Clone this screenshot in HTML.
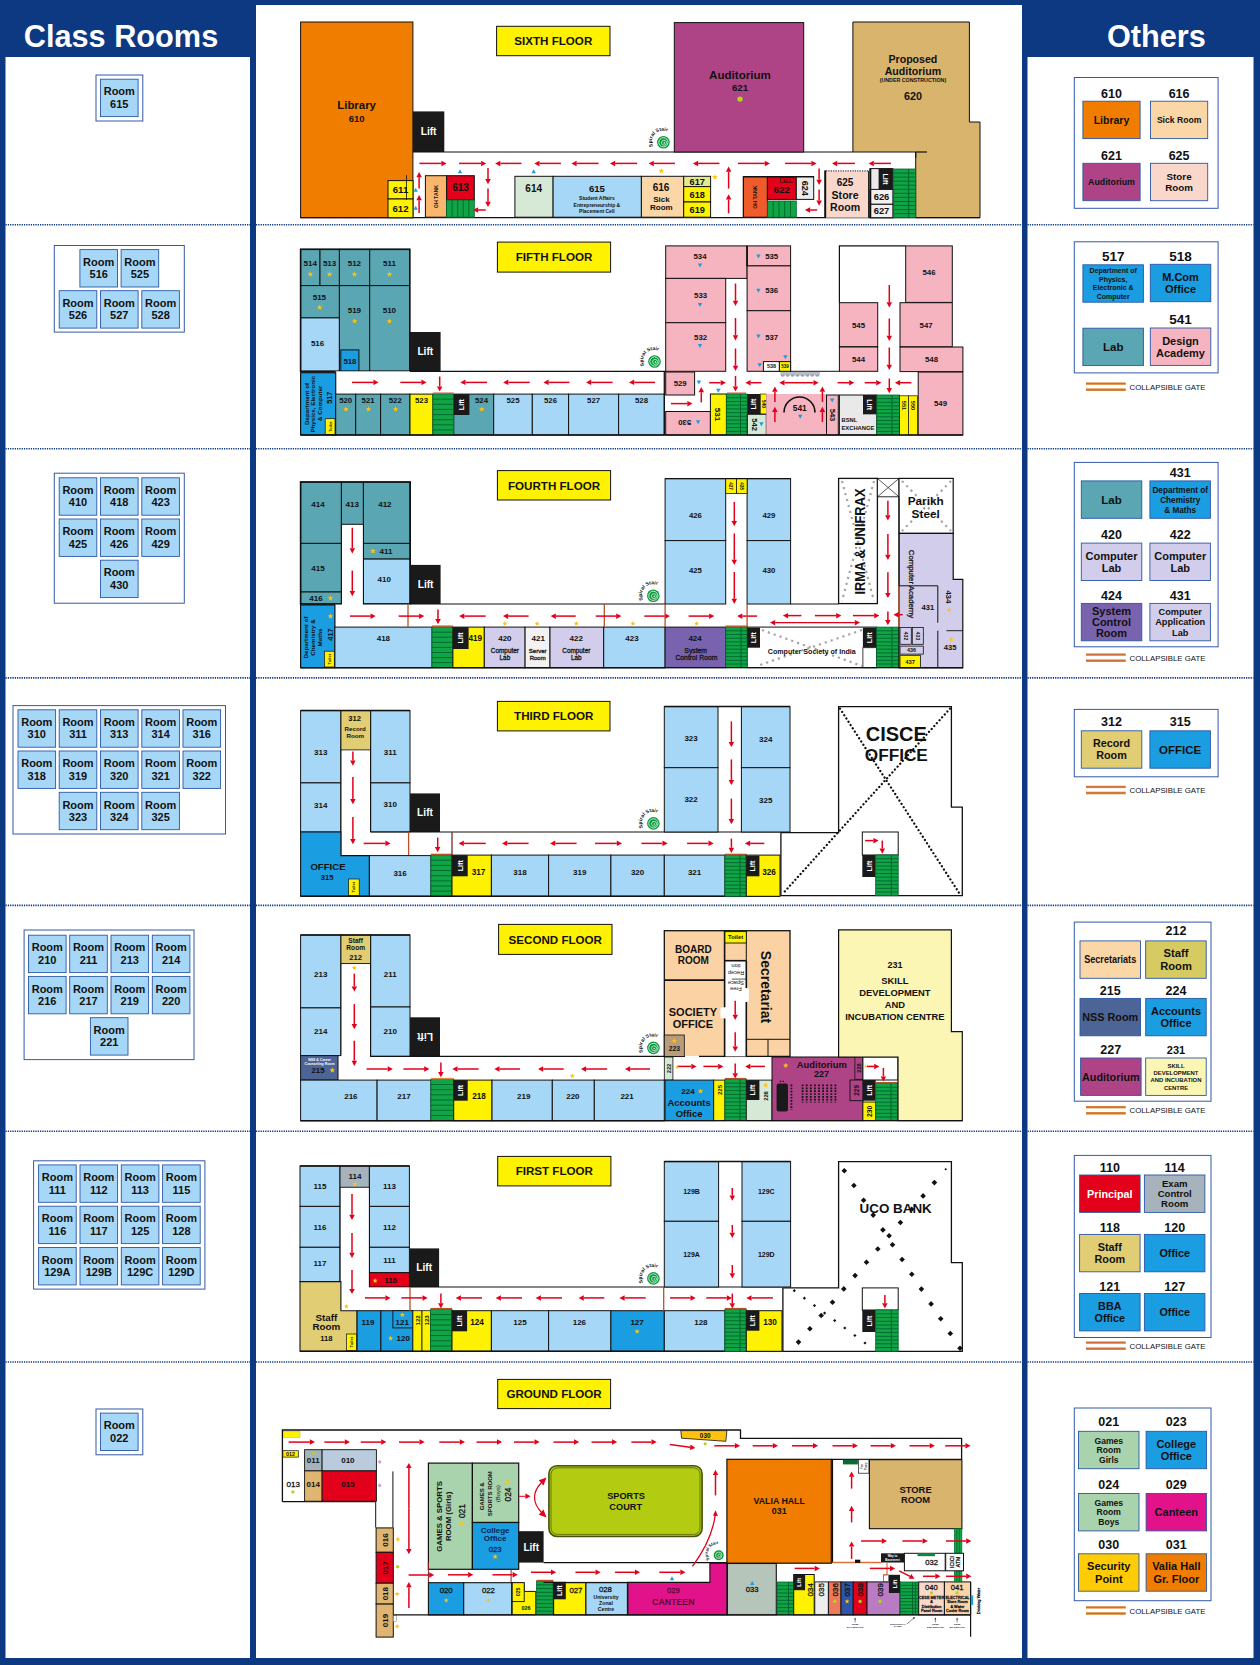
<!DOCTYPE html>
<html lang="en"><head><meta charset="utf-8"><title>Floor Plan</title>
<style>html,body{margin:0;padding:0;background:#0c3982}svg{display:block}text{font-family:"Liberation Sans",Arial,sans-serif;font-weight:bold;text-anchor:middle;fill:#111}</style></head>
<body><svg width="1260" height="1665" viewBox="0 0 1260 1665">
<rect x="0" y="0" width="1260" height="1665" fill="#0c3982"/>
<rect x="5.5" y="57" width="244.5" height="1601" fill="#fff"/>
<rect x="256" y="5" width="766" height="1653" fill="#fff"/>
<rect x="1027.5" y="57" width="226" height="1601" fill="#fff"/>
<text x="121" y="47.2" font-size="30.7" style="fill:#fff;">Class Rooms</text>
<text x="1156.4" y="47.2" font-size="30.7" style="fill:#fff;">Others</text>
<line x1="5.5" y1="224.8" x2="250" y2="224.8" stroke="#0c3982" stroke-width="1.6" stroke-dasharray="1.25 1.05"/>
<line x1="256" y1="224.8" x2="1022" y2="224.8" stroke="#0c3982" stroke-width="1.6" stroke-dasharray="1.25 1.05"/>
<line x1="1027.5" y1="224.8" x2="1253.5" y2="224.8" stroke="#0c3982" stroke-width="1.6" stroke-dasharray="1.25 1.05"/>
<line x1="5.5" y1="448.7" x2="250" y2="448.7" stroke="#0c3982" stroke-width="1.6" stroke-dasharray="1.25 1.05"/>
<line x1="256" y1="448.7" x2="1022" y2="448.7" stroke="#0c3982" stroke-width="1.6" stroke-dasharray="1.25 1.05"/>
<line x1="1027.5" y1="448.7" x2="1253.5" y2="448.7" stroke="#0c3982" stroke-width="1.6" stroke-dasharray="1.25 1.05"/>
<line x1="5.5" y1="677.9" x2="250" y2="677.9" stroke="#0c3982" stroke-width="1.6" stroke-dasharray="1.25 1.05"/>
<line x1="256" y1="677.9" x2="1022" y2="677.9" stroke="#0c3982" stroke-width="1.6" stroke-dasharray="1.25 1.05"/>
<line x1="1027.5" y1="677.9" x2="1253.5" y2="677.9" stroke="#0c3982" stroke-width="1.6" stroke-dasharray="1.25 1.05"/>
<line x1="5.5" y1="905.4" x2="250" y2="905.4" stroke="#0c3982" stroke-width="1.6" stroke-dasharray="1.25 1.05"/>
<line x1="256" y1="905.4" x2="1022" y2="905.4" stroke="#0c3982" stroke-width="1.6" stroke-dasharray="1.25 1.05"/>
<line x1="1027.5" y1="905.4" x2="1253.5" y2="905.4" stroke="#0c3982" stroke-width="1.6" stroke-dasharray="1.25 1.05"/>
<line x1="5.5" y1="1131.2" x2="250" y2="1131.2" stroke="#0c3982" stroke-width="1.6" stroke-dasharray="1.25 1.05"/>
<line x1="256" y1="1131.2" x2="1022" y2="1131.2" stroke="#0c3982" stroke-width="1.6" stroke-dasharray="1.25 1.05"/>
<line x1="1027.5" y1="1131.2" x2="1253.5" y2="1131.2" stroke="#0c3982" stroke-width="1.6" stroke-dasharray="1.25 1.05"/>
<line x1="5.5" y1="1362" x2="250" y2="1362" stroke="#0c3982" stroke-width="1.6" stroke-dasharray="1.25 1.05"/>
<line x1="256" y1="1362" x2="1022" y2="1362" stroke="#0c3982" stroke-width="1.6" stroke-dasharray="1.25 1.05"/>
<line x1="1027.5" y1="1362" x2="1253.5" y2="1362" stroke="#0c3982" stroke-width="1.6" stroke-dasharray="1.25 1.05"/>
<rect x="96" y="75" width="46.8" height="46" fill="#fff" stroke="#3259a8" stroke-width="1"/>
<rect x="100.5" y="79.2" width="37.6" height="37.4" fill="#a7d7f6" stroke="#2a57a6" stroke-width="0.9"/>
<text x="119.3" y="95.4" font-size="11">Room</text>
<text x="119.3" y="107.8" font-size="11">615</text>
<rect x="54.3" y="245.5" width="130" height="86.6" fill="#fff" stroke="#3259a8" stroke-width="1"/>
<rect x="79.9" y="249.6" width="37.6" height="37.4" fill="#a7d7f6" stroke="#2a57a6" stroke-width="0.9"/>
<text x="98.7" y="265.8" font-size="11">Room</text>
<text x="98.7" y="278.2" font-size="11">516</text>
<rect x="121.1" y="249.6" width="37.6" height="37.4" fill="#a7d7f6" stroke="#2a57a6" stroke-width="0.9"/>
<text x="139.9" y="265.8" font-size="11">Room</text>
<text x="139.9" y="278.2" font-size="11">525</text>
<rect x="59.2" y="290.7" width="37.6" height="37.4" fill="#a7d7f6" stroke="#2a57a6" stroke-width="0.9"/>
<text x="78" y="306.9" font-size="11">Room</text>
<text x="78" y="319.3" font-size="11">526</text>
<rect x="100.5" y="290.7" width="37.6" height="37.4" fill="#a7d7f6" stroke="#2a57a6" stroke-width="0.9"/>
<text x="119.3" y="306.9" font-size="11">Room</text>
<text x="119.3" y="319.3" font-size="11">527</text>
<rect x="141.8" y="290.7" width="37.6" height="37.4" fill="#a7d7f6" stroke="#2a57a6" stroke-width="0.9"/>
<text x="160.6" y="306.9" font-size="11">Room</text>
<text x="160.6" y="319.3" font-size="11">528</text>
<rect x="54.3" y="473.2" width="130" height="130" fill="#fff" stroke="#3259a8" stroke-width="1"/>
<rect x="59.2" y="477.8" width="37.6" height="37.4" fill="#a7d7f6" stroke="#2a57a6" stroke-width="0.9"/>
<text x="78" y="494" font-size="11">Room</text>
<text x="78" y="506.4" font-size="11">410</text>
<rect x="100.5" y="477.8" width="37.6" height="37.4" fill="#a7d7f6" stroke="#2a57a6" stroke-width="0.9"/>
<text x="119.3" y="494" font-size="11">Room</text>
<text x="119.3" y="506.4" font-size="11">418</text>
<rect x="141.8" y="477.8" width="37.6" height="37.4" fill="#a7d7f6" stroke="#2a57a6" stroke-width="0.9"/>
<text x="160.6" y="494" font-size="11">Room</text>
<text x="160.6" y="506.4" font-size="11">423</text>
<rect x="59.2" y="519" width="37.6" height="37.4" fill="#a7d7f6" stroke="#2a57a6" stroke-width="0.9"/>
<text x="78" y="535.2" font-size="11">Room</text>
<text x="78" y="547.6" font-size="11">425</text>
<rect x="100.5" y="519" width="37.6" height="37.4" fill="#a7d7f6" stroke="#2a57a6" stroke-width="0.9"/>
<text x="119.3" y="535.2" font-size="11">Room</text>
<text x="119.3" y="547.6" font-size="11">426</text>
<rect x="141.8" y="519" width="37.6" height="37.4" fill="#a7d7f6" stroke="#2a57a6" stroke-width="0.9"/>
<text x="160.6" y="535.2" font-size="11">Room</text>
<text x="160.6" y="547.6" font-size="11">429</text>
<rect x="100.5" y="560.2" width="37.6" height="37.4" fill="#a7d7f6" stroke="#2a57a6" stroke-width="0.9"/>
<text x="119.3" y="576.4" font-size="11">Room</text>
<text x="119.3" y="588.8" font-size="11">430</text>
<rect x="13" y="705.6" width="212.5" height="128.4" fill="#fff" stroke="#3259a8" stroke-width="1"/>
<rect x="18" y="709.8" width="37.6" height="37.4" fill="#a7d7f6" stroke="#2a57a6" stroke-width="0.9"/>
<text x="36.8" y="726" font-size="11">Room</text>
<text x="36.8" y="738.4" font-size="11">310</text>
<rect x="59.2" y="709.8" width="37.6" height="37.4" fill="#a7d7f6" stroke="#2a57a6" stroke-width="0.9"/>
<text x="78" y="726" font-size="11">Room</text>
<text x="78" y="738.4" font-size="11">311</text>
<rect x="100.5" y="709.8" width="37.6" height="37.4" fill="#a7d7f6" stroke="#2a57a6" stroke-width="0.9"/>
<text x="119.3" y="726" font-size="11">Room</text>
<text x="119.3" y="738.4" font-size="11">313</text>
<rect x="141.8" y="709.8" width="37.6" height="37.4" fill="#a7d7f6" stroke="#2a57a6" stroke-width="0.9"/>
<text x="160.6" y="726" font-size="11">Room</text>
<text x="160.6" y="738.4" font-size="11">314</text>
<rect x="183" y="709.8" width="37.6" height="37.4" fill="#a7d7f6" stroke="#2a57a6" stroke-width="0.9"/>
<text x="201.8" y="726" font-size="11">Room</text>
<text x="201.8" y="738.4" font-size="11">316</text>
<rect x="18" y="751" width="37.6" height="37.4" fill="#a7d7f6" stroke="#2a57a6" stroke-width="0.9"/>
<text x="36.8" y="767.2" font-size="11">Room</text>
<text x="36.8" y="779.6" font-size="11">318</text>
<rect x="59.2" y="751" width="37.6" height="37.4" fill="#a7d7f6" stroke="#2a57a6" stroke-width="0.9"/>
<text x="78" y="767.2" font-size="11">Room</text>
<text x="78" y="779.6" font-size="11">319</text>
<rect x="100.5" y="751" width="37.6" height="37.4" fill="#a7d7f6" stroke="#2a57a6" stroke-width="0.9"/>
<text x="119.3" y="767.2" font-size="11">Room</text>
<text x="119.3" y="779.6" font-size="11">320</text>
<rect x="141.8" y="751" width="37.6" height="37.4" fill="#a7d7f6" stroke="#2a57a6" stroke-width="0.9"/>
<text x="160.6" y="767.2" font-size="11">Room</text>
<text x="160.6" y="779.6" font-size="11">321</text>
<rect x="183" y="751" width="37.6" height="37.4" fill="#a7d7f6" stroke="#2a57a6" stroke-width="0.9"/>
<text x="201.8" y="767.2" font-size="11">Room</text>
<text x="201.8" y="779.6" font-size="11">322</text>
<rect x="59.2" y="792.3" width="37.6" height="37.4" fill="#a7d7f6" stroke="#2a57a6" stroke-width="0.9"/>
<text x="78" y="808.5" font-size="11">Room</text>
<text x="78" y="820.9" font-size="11">323</text>
<rect x="100.5" y="792.3" width="37.6" height="37.4" fill="#a7d7f6" stroke="#2a57a6" stroke-width="0.9"/>
<text x="119.3" y="808.5" font-size="11">Room</text>
<text x="119.3" y="820.9" font-size="11">324</text>
<rect x="141.8" y="792.3" width="37.6" height="37.4" fill="#a7d7f6" stroke="#2a57a6" stroke-width="0.9"/>
<text x="160.6" y="808.5" font-size="11">Room</text>
<text x="160.6" y="820.9" font-size="11">325</text>
<rect x="24.1" y="930" width="169.9" height="129.6" fill="#fff" stroke="#3259a8" stroke-width="1"/>
<rect x="28.5" y="935.2" width="37.6" height="37.4" fill="#a7d7f6" stroke="#2a57a6" stroke-width="0.9"/>
<text x="47.3" y="951.4" font-size="11">Room</text>
<text x="47.3" y="963.8" font-size="11">210</text>
<rect x="69.7" y="935.2" width="37.6" height="37.4" fill="#a7d7f6" stroke="#2a57a6" stroke-width="0.9"/>
<text x="88.5" y="951.4" font-size="11">Room</text>
<text x="88.5" y="963.8" font-size="11">211</text>
<rect x="111" y="935.2" width="37.6" height="37.4" fill="#a7d7f6" stroke="#2a57a6" stroke-width="0.9"/>
<text x="129.8" y="951.4" font-size="11">Room</text>
<text x="129.8" y="963.8" font-size="11">213</text>
<rect x="152.3" y="935.2" width="37.6" height="37.4" fill="#a7d7f6" stroke="#2a57a6" stroke-width="0.9"/>
<text x="171.1" y="951.4" font-size="11">Room</text>
<text x="171.1" y="963.8" font-size="11">214</text>
<rect x="28.5" y="976.4" width="37.6" height="37.4" fill="#a7d7f6" stroke="#2a57a6" stroke-width="0.9"/>
<text x="47.3" y="992.6" font-size="11">Room</text>
<text x="47.3" y="1005" font-size="11">216</text>
<rect x="69.7" y="976.4" width="37.6" height="37.4" fill="#a7d7f6" stroke="#2a57a6" stroke-width="0.9"/>
<text x="88.5" y="992.6" font-size="11">Room</text>
<text x="88.5" y="1005" font-size="11">217</text>
<rect x="111" y="976.4" width="37.6" height="37.4" fill="#a7d7f6" stroke="#2a57a6" stroke-width="0.9"/>
<text x="129.8" y="992.6" font-size="11">Room</text>
<text x="129.8" y="1005" font-size="11">219</text>
<rect x="152.3" y="976.4" width="37.6" height="37.4" fill="#a7d7f6" stroke="#2a57a6" stroke-width="0.9"/>
<text x="171.1" y="992.6" font-size="11">Room</text>
<text x="171.1" y="1005" font-size="11">220</text>
<rect x="90.4" y="1017.7" width="37.6" height="37.4" fill="#a7d7f6" stroke="#2a57a6" stroke-width="0.9"/>
<text x="109.2" y="1033.9" font-size="11">Room</text>
<text x="109.2" y="1046.3" font-size="11">221</text>
<rect x="33.6" y="1160.8" width="171.3" height="128.3" fill="#fff" stroke="#3259a8" stroke-width="1"/>
<rect x="38.6" y="1164.9" width="37.6" height="37.4" fill="#a7d7f6" stroke="#2a57a6" stroke-width="0.9"/>
<text x="57.4" y="1181.1" font-size="11">Room</text>
<text x="57.4" y="1193.5" font-size="11">111</text>
<rect x="80" y="1164.9" width="37.6" height="37.4" fill="#a7d7f6" stroke="#2a57a6" stroke-width="0.9"/>
<text x="98.8" y="1181.1" font-size="11">Room</text>
<text x="98.8" y="1193.5" font-size="11">112</text>
<rect x="121.3" y="1164.9" width="37.6" height="37.4" fill="#a7d7f6" stroke="#2a57a6" stroke-width="0.9"/>
<text x="140.1" y="1181.1" font-size="11">Room</text>
<text x="140.1" y="1193.5" font-size="11">113</text>
<rect x="162.6" y="1164.9" width="37.6" height="37.4" fill="#a7d7f6" stroke="#2a57a6" stroke-width="0.9"/>
<text x="181.4" y="1181.1" font-size="11">Room</text>
<text x="181.4" y="1193.5" font-size="11">115</text>
<rect x="38.6" y="1206.2" width="37.6" height="37.4" fill="#a7d7f6" stroke="#2a57a6" stroke-width="0.9"/>
<text x="57.4" y="1222.4" font-size="11">Room</text>
<text x="57.4" y="1234.8" font-size="11">116</text>
<rect x="80" y="1206.2" width="37.6" height="37.4" fill="#a7d7f6" stroke="#2a57a6" stroke-width="0.9"/>
<text x="98.8" y="1222.4" font-size="11">Room</text>
<text x="98.8" y="1234.8" font-size="11">117</text>
<rect x="121.3" y="1206.2" width="37.6" height="37.4" fill="#a7d7f6" stroke="#2a57a6" stroke-width="0.9"/>
<text x="140.1" y="1222.4" font-size="11">Room</text>
<text x="140.1" y="1234.8" font-size="11">125</text>
<rect x="162.6" y="1206.2" width="37.6" height="37.4" fill="#a7d7f6" stroke="#2a57a6" stroke-width="0.9"/>
<text x="181.4" y="1222.4" font-size="11">Room</text>
<text x="181.4" y="1234.8" font-size="11">128</text>
<rect x="38.6" y="1247.5" width="37.6" height="37.4" fill="#a7d7f6" stroke="#2a57a6" stroke-width="0.9"/>
<text x="57.4" y="1263.7" font-size="11">Room</text>
<text x="57.4" y="1276.1" font-size="11">129A</text>
<rect x="80" y="1247.5" width="37.6" height="37.4" fill="#a7d7f6" stroke="#2a57a6" stroke-width="0.9"/>
<text x="98.8" y="1263.7" font-size="11">Room</text>
<text x="98.8" y="1276.1" font-size="11">129B</text>
<rect x="121.3" y="1247.5" width="37.6" height="37.4" fill="#a7d7f6" stroke="#2a57a6" stroke-width="0.9"/>
<text x="140.1" y="1263.7" font-size="11">Room</text>
<text x="140.1" y="1276.1" font-size="11">129C</text>
<rect x="162.6" y="1247.5" width="37.6" height="37.4" fill="#a7d7f6" stroke="#2a57a6" stroke-width="0.9"/>
<text x="181.4" y="1263.7" font-size="11">Room</text>
<text x="181.4" y="1276.1" font-size="11">129D</text>
<rect x="96" y="1409" width="46.8" height="45.8" fill="#fff" stroke="#3259a8" stroke-width="1"/>
<rect x="100.5" y="1413.1" width="37.6" height="37.4" fill="#a7d7f6" stroke="#2a57a6" stroke-width="0.9"/>
<text x="119.3" y="1429.3" font-size="11">Room</text>
<text x="119.3" y="1441.7" font-size="11">022</text>
<rect x="1074.3" y="77.5" width="143.8" height="130.8" fill="#fff" stroke="#3259a8" stroke-width="1"/>
<rect x="1082.9" y="101.2" width="57.2" height="37.4" fill="#f07d00" stroke="#2a57a6" stroke-width="0.9"/>
<text x="1111.5" y="97.6" font-size="12.5">610</text>
<text x="1111.5" y="123.7" font-size="10.5">Library</text>
<rect x="1150.5" y="101.2" width="57.2" height="37.4" fill="#fbd6a6" stroke="#2a57a6" stroke-width="0.9"/>
<text x="1179.1" y="97.6" font-size="12.5">616</text>
<text x="1179.1" y="123" font-size="8.6">Sick Room</text>
<rect x="1082.9" y="163.3" width="57.2" height="37.4" fill="#ae4486" stroke="#2a57a6" stroke-width="0.9"/>
<text x="1111.5" y="159.7" font-size="12.5">621</text>
<text x="1111.5" y="185.2" font-size="8.8">Auditorium</text>
<rect x="1150.5" y="163.3" width="57.2" height="37.4" fill="#f9d8cb" stroke="#2a57a6" stroke-width="0.9"/>
<text x="1179.1" y="159.7" font-size="12.5">625</text>
<text x="1179.1" y="180" font-size="9.8">Store</text>
<text x="1179.1" y="191" font-size="9.8">Room</text>
<rect x="1074.3" y="241.8" width="143.8" height="131.1" fill="#fff" stroke="#3259a8" stroke-width="1"/>
<rect x="1082.9" y="264.8" width="60.5" height="37.4" fill="#1b9de2" stroke="#2a57a6" stroke-width="0.9"/>
<text x="1113.2" y="261.4" font-size="13.5">517</text>
<text x="1113.2" y="272.8" font-size="7">Department of</text>
<text x="1113.2" y="281.6" font-size="7">Physics,</text>
<text x="1113.2" y="290.4" font-size="7">Electronic &amp;</text>
<text x="1113.2" y="299.2" font-size="7">Computer</text>
<rect x="1150.3" y="264.3" width="60.5" height="37.4" fill="#1b9de2" stroke="#2a57a6" stroke-width="0.9"/>
<text x="1180.5" y="261.3" font-size="13.5">518</text>
<text x="1180.5" y="280.8" font-size="11">M.Com</text>
<text x="1180.5" y="293.1" font-size="11">Office</text>
<rect x="1082.9" y="328.2" width="60.5" height="37.4" fill="#5aa6b2" stroke="#2a57a6" stroke-width="0.9"/>
<text x="1113.2" y="351" font-size="11.5">Lab</text>
<rect x="1150.3" y="328" width="60.5" height="37.4" fill="#f5b4bf" stroke="#2a57a6" stroke-width="0.9"/>
<text x="1180.5" y="324.4" font-size="13.5">541</text>
<text x="1180.5" y="344.5" font-size="11">Design</text>
<text x="1180.5" y="356.8" font-size="11">Academy</text>
<rect x="1086" y="382.4" width="39.7" height="2.4" fill="#d98a3a"/>
<rect x="1086" y="388.4" width="39.7" height="2.6" fill="#d98a3a"/>
<line x1="1086" y1="383.6" x2="1125.7" y2="383.6" stroke="#c8553a" stroke-width="0.6"/>
<line x1="1086" y1="389.7" x2="1125.7" y2="389.7" stroke="#c8553a" stroke-width="0.6"/>
<text x="1129.5" y="389.8" font-size="8" style="font-weight:normal;text-anchor:start;" textLength="76" lengthAdjust="spacingAndGlyphs">COLLAPSIBLE GATE</text>
<rect x="1074.3" y="462.4" width="143.8" height="184.4" fill="#fff" stroke="#3259a8" stroke-width="1"/>
<rect x="1081.3" y="480.9" width="60.5" height="37.4" fill="#5aa6b2" stroke="#2a57a6" stroke-width="0.9"/>
<text x="1111.5" y="503.7" font-size="11.5">Lab</text>
<rect x="1149.9" y="480.9" width="60.5" height="37.4" fill="#1b9de2" stroke="#2a57a6" stroke-width="0.9"/>
<text x="1180.2" y="476.9" font-size="12.5">431</text>
<text x="1180.2" y="492.6" font-size="8.2">Department of</text>
<text x="1180.2" y="502.6" font-size="8.2">Chemistry</text>
<text x="1180.2" y="512.6" font-size="8.2">&amp; Maths</text>
<rect x="1081.3" y="543.1" width="60.5" height="37.4" fill="#d2cdea" stroke="#2a57a6" stroke-width="0.9"/>
<text x="1111.5" y="538.7" font-size="12.5">420</text>
<text x="1111.5" y="559.6" font-size="11">Computer</text>
<text x="1111.5" y="571.9" font-size="11">Lab</text>
<rect x="1149.9" y="543.1" width="60.5" height="37.4" fill="#d2cdea" stroke="#2a57a6" stroke-width="0.9"/>
<text x="1180.2" y="538.7" font-size="12.5">422</text>
<text x="1180.2" y="559.6" font-size="11">Computer</text>
<text x="1180.2" y="571.9" font-size="11">Lab</text>
<rect x="1081.3" y="603.4" width="60.5" height="37.4" fill="#7a63ae" stroke="#2a57a6" stroke-width="0.9"/>
<text x="1111.5" y="600" font-size="12.5">424</text>
<text x="1111.5" y="614.8" font-size="11">System</text>
<text x="1111.5" y="626.1" font-size="11">Control</text>
<text x="1111.5" y="637.4" font-size="11">Room</text>
<rect x="1149.9" y="603.4" width="60.5" height="37.4" fill="#d2cdea" stroke="#2a57a6" stroke-width="0.9"/>
<text x="1180.2" y="600" font-size="12.5">431</text>
<text x="1180.2" y="615" font-size="9.2">Computer</text>
<text x="1180.2" y="625.4" font-size="9.2">Application</text>
<text x="1180.2" y="635.8" font-size="9.2">Lab</text>
<rect x="1086" y="653.4" width="39.7" height="2.4" fill="#d98a3a"/>
<rect x="1086" y="659.4" width="39.7" height="2.6" fill="#d98a3a"/>
<line x1="1086" y1="654.6" x2="1125.7" y2="654.6" stroke="#c8553a" stroke-width="0.6"/>
<line x1="1086" y1="660.7" x2="1125.7" y2="660.7" stroke="#c8553a" stroke-width="0.6"/>
<text x="1129.5" y="660.8" font-size="8" style="font-weight:normal;text-anchor:start;" textLength="76" lengthAdjust="spacingAndGlyphs">COLLAPSIBLE GATE</text>
<rect x="1074.3" y="709.4" width="143.8" height="67.4" fill="#fff" stroke="#3259a8" stroke-width="1"/>
<rect x="1081.3" y="730.8" width="60.5" height="37.4" fill="#e0cd74" stroke="#2a57a6" stroke-width="0.9"/>
<text x="1111.5" y="726.2" font-size="12.5">312</text>
<text x="1111.5" y="747.3" font-size="10.8">Record</text>
<text x="1111.5" y="759.4" font-size="10.8">Room</text>
<rect x="1149.9" y="730.8" width="60.5" height="37.4" fill="#1b9de2" stroke="#2a57a6" stroke-width="0.9"/>
<text x="1180.2" y="726.2" font-size="12.5">315</text>
<text x="1180.2" y="753.6" font-size="11.5">OFFICE</text>
<rect x="1086" y="785.7" width="39.7" height="2.4" fill="#d98a3a"/>
<rect x="1086" y="791.7" width="39.7" height="2.6" fill="#d98a3a"/>
<line x1="1086" y1="786.9" x2="1125.7" y2="786.9" stroke="#c8553a" stroke-width="0.6"/>
<line x1="1086" y1="793" x2="1125.7" y2="793" stroke="#c8553a" stroke-width="0.6"/>
<text x="1129.5" y="793.1" font-size="8" style="font-weight:normal;text-anchor:start;" textLength="76" lengthAdjust="spacingAndGlyphs">COLLAPSIBLE GATE</text>
<rect x="1074.3" y="922.1" width="136.7" height="179.1" fill="#fff" stroke="#3259a8" stroke-width="1"/>
<rect x="1080" y="940.9" width="60.5" height="37.4" fill="#fbd6a6" stroke="#2a57a6" stroke-width="0.9"/>
<text x="1110.2" y="963.4" font-size="10.6" textLength="52" lengthAdjust="spacingAndGlyphs">Secretariats</text>
<rect x="1145.7" y="940.9" width="60.5" height="37.4" fill="#d6cb62" stroke="#2a57a6" stroke-width="0.9"/>
<text x="1176" y="934.9" font-size="12.5">212</text>
<text x="1176" y="957.4" font-size="11.2">Staff</text>
<text x="1176" y="969.9" font-size="11.2">Room</text>
<rect x="1080" y="998.4" width="60.5" height="37.4" fill="#4d6496" stroke="#2a57a6" stroke-width="0.9"/>
<text x="1110.2" y="994.6" font-size="12.5">215</text>
<text x="1110.2" y="1021" font-size="10.8">NSS Room</text>
<rect x="1145.7" y="998.4" width="60.5" height="37.4" fill="#1b9de2" stroke="#2a57a6" stroke-width="0.9"/>
<text x="1176" y="994.6" font-size="12.5">224</text>
<text x="1176" y="1014.9" font-size="11">Accounts</text>
<text x="1176" y="1027.2" font-size="11">Office</text>
<rect x="1080.6" y="1058" width="60.5" height="37.4" fill="#ae4486" stroke="#2a57a6" stroke-width="0.9"/>
<text x="1110.8" y="1054.4" font-size="12.5">227</text>
<text x="1110.8" y="1080.6" font-size="10.8">Auditorium</text>
<rect x="1145.7" y="1058" width="60.5" height="37.4" fill="#fcf6b4" stroke="#2a57a6" stroke-width="0.9"/>
<text x="1176" y="1054.4" font-size="11">231</text>
<text x="1176" y="1068" font-size="5.9">SKILL</text>
<text x="1176" y="1075.2" font-size="5.9">DEVELOPMENT</text>
<text x="1176" y="1082.4" font-size="5.9">AND INCUBATION</text>
<text x="1176" y="1089.6" font-size="5.9">CENTRE</text>
<rect x="1086" y="1106" width="39.7" height="2.4" fill="#d98a3a"/>
<rect x="1086" y="1112" width="39.7" height="2.6" fill="#d98a3a"/>
<line x1="1086" y1="1107.2" x2="1125.7" y2="1107.2" stroke="#c8553a" stroke-width="0.6"/>
<line x1="1086" y1="1113.3" x2="1125.7" y2="1113.3" stroke="#c8553a" stroke-width="0.6"/>
<text x="1129.5" y="1113.4" font-size="8" style="font-weight:normal;text-anchor:start;" textLength="76" lengthAdjust="spacingAndGlyphs">COLLAPSIBLE GATE</text>
<rect x="1074.3" y="1155.4" width="136.7" height="182.1" fill="#fff" stroke="#3259a8" stroke-width="1"/>
<rect x="1079.6" y="1175" width="60.5" height="37.4" fill="#e2001a" stroke="#2a57a6" stroke-width="0.9"/>
<text x="1109.8" y="1172.1" font-size="12.5">110</text>
<text x="1109.8" y="1197.6" font-size="10.8" style="fill:#fff;">Principal</text>
<rect x="1144.4" y="1175" width="60.5" height="37.4" fill="#a7b3bc" stroke="#2a57a6" stroke-width="0.9"/>
<text x="1174.7" y="1172.1" font-size="12.5">114</text>
<text x="1174.7" y="1187" font-size="9.6">Exam</text>
<text x="1174.7" y="1197.2" font-size="9.6">Control</text>
<text x="1174.7" y="1207.4" font-size="9.6">Room</text>
<rect x="1079.6" y="1234.4" width="60.5" height="37.4" fill="#e0cd74" stroke="#2a57a6" stroke-width="0.9"/>
<text x="1109.8" y="1232.1" font-size="12.5">118</text>
<text x="1109.8" y="1250.9" font-size="10.8">Staff</text>
<text x="1109.8" y="1263" font-size="10.8">Room</text>
<rect x="1144.4" y="1234.4" width="60.5" height="37.4" fill="#1b9de2" stroke="#2a57a6" stroke-width="0.9"/>
<text x="1174.7" y="1232.1" font-size="12.5">120</text>
<text x="1174.7" y="1257" font-size="10.8">Office</text>
<rect x="1079.6" y="1293.5" width="60.5" height="37.4" fill="#1b9de2" stroke="#2a57a6" stroke-width="0.9"/>
<text x="1109.8" y="1291.2" font-size="12.5">121</text>
<text x="1109.8" y="1310" font-size="10.8">BBA</text>
<text x="1109.8" y="1322.1" font-size="10.8">Office</text>
<rect x="1144.4" y="1293.5" width="60.5" height="37.4" fill="#1b9de2" stroke="#2a57a6" stroke-width="0.9"/>
<text x="1174.7" y="1291.2" font-size="12.5">127</text>
<text x="1174.7" y="1316.1" font-size="10.8">Office</text>
<rect x="1086" y="1341.4" width="39.7" height="2.4" fill="#d98a3a"/>
<rect x="1086" y="1347.4" width="39.7" height="2.6" fill="#d98a3a"/>
<line x1="1086" y1="1342.6" x2="1125.7" y2="1342.6" stroke="#c8553a" stroke-width="0.6"/>
<line x1="1086" y1="1348.7" x2="1125.7" y2="1348.7" stroke="#c8553a" stroke-width="0.6"/>
<text x="1129.5" y="1348.8" font-size="8" style="font-weight:normal;text-anchor:start;" textLength="76" lengthAdjust="spacingAndGlyphs">COLLAPSIBLE GATE</text>
<rect x="1074.3" y="1408" width="136.7" height="192.7" fill="#fff" stroke="#3259a8" stroke-width="1"/>
<rect x="1078.5" y="1431.3" width="60.5" height="37.4" fill="#a9d3ad" stroke="#2a57a6" stroke-width="0.9"/>
<text x="1108.8" y="1426.4" font-size="12.5">021</text>
<text x="1108.8" y="1443.5" font-size="8.6">Games</text>
<text x="1108.8" y="1453.1" font-size="8.6">Room</text>
<text x="1108.8" y="1462.7" font-size="8.6">Girls</text>
<rect x="1146.1" y="1431.3" width="60.5" height="37.4" fill="#1b9de2" stroke="#2a57a6" stroke-width="0.9"/>
<text x="1176.3" y="1426.4" font-size="12.5">023</text>
<text x="1176.3" y="1447.8" font-size="11">College</text>
<text x="1176.3" y="1460.1" font-size="11">Office</text>
<rect x="1078.5" y="1493.5" width="60.5" height="37.4" fill="#a9d3ad" stroke="#2a57a6" stroke-width="0.9"/>
<text x="1108.8" y="1489.3" font-size="12.5">024</text>
<text x="1108.8" y="1505.7" font-size="8.6">Games</text>
<text x="1108.8" y="1515.3" font-size="8.6">Room</text>
<text x="1108.8" y="1524.9" font-size="8.6">Boys</text>
<rect x="1146.1" y="1493.5" width="60.5" height="37.4" fill="#e2138a" stroke="#2a57a6" stroke-width="0.9"/>
<text x="1176.3" y="1489.3" font-size="12.5">029</text>
<text x="1176.3" y="1516.2" font-size="11">Canteen</text>
<rect x="1078.5" y="1553.8" width="60.5" height="37.4" fill="#ffcb05" stroke="#2a57a6" stroke-width="0.9"/>
<text x="1108.8" y="1548.9" font-size="12.5">030</text>
<text x="1108.8" y="1570.3" font-size="11">Security</text>
<text x="1108.8" y="1582.6" font-size="11">Point</text>
<rect x="1146.1" y="1553.8" width="60.5" height="37.4" fill="#f07d00" stroke="#2a57a6" stroke-width="0.9"/>
<text x="1176.3" y="1548.9" font-size="12.5">031</text>
<text x="1176.3" y="1570.3" font-size="11">Valia Hall</text>
<text x="1176.3" y="1582.6" font-size="11">Gr. Floor</text>
<rect x="1086" y="1606.2" width="39.7" height="2.4" fill="#d98a3a"/>
<rect x="1086" y="1612.2" width="39.7" height="2.6" fill="#d98a3a"/>
<line x1="1086" y1="1607.4" x2="1125.7" y2="1607.4" stroke="#c8553a" stroke-width="0.6"/>
<line x1="1086" y1="1613.5" x2="1125.7" y2="1613.5" stroke="#c8553a" stroke-width="0.6"/>
<text x="1129.5" y="1613.6" font-size="8" style="font-weight:normal;text-anchor:start;" textLength="76" lengthAdjust="spacingAndGlyphs">COLLAPSIBLE GATE</text>
<rect x="496.6" y="26.3" width="113.4" height="29.4" fill="#fff200" stroke="#111" stroke-width="1"/>
<text x="553.3" y="45.2" font-size="11.6">SIXTH FLOOR</text>
<rect x="412.9" y="152" width="502.8" height="65.7" fill="#fff"/>
<polygon points="852.9,22 969.4,22 969.4,122 980,122 980,217.7 915.7,217.7 915.7,152 852.9,152" fill="#d9b46c" stroke="#111" stroke-width="1"/>
<line x1="915.7" y1="152" x2="927" y2="152" stroke="#111" stroke-width="1.2"/>
<line x1="915.7" y1="152" x2="915.7" y2="158" stroke="#111" stroke-width="1.2"/>
<text x="912.9" y="63.4" font-size="10.6">Proposed</text>
<text x="912.9" y="75.1" font-size="10.6">Auditorium</text>
<text x="912.9" y="82.4" font-size="5.3">(UNDER CONSTRUCTION)</text>
<text x="912.9" y="100" font-size="10.8">620</text>
<rect x="300.6" y="22" width="112.3" height="195.7" fill="#f07d00" stroke="#111" stroke-width="1"/>
<text x="356.6" y="108.6" font-size="11.4">Library</text>
<text x="356.6" y="122.3" font-size="9.5">610</text>
<rect x="412.9" y="111.4" width="31.4" height="40.6" fill="#1a1a1a"/>
<text x="428.6" y="135.4" font-size="10.2" style="fill:#fff;">Lift</text>
<line x1="412.9" y1="152" x2="853" y2="152" stroke="#111" stroke-width="1.2"/>
<line x1="300.6" y1="217.7" x2="980" y2="217.7" stroke="#111" stroke-width="1.3"/>
<rect x="674.3" y="22.6" width="129.4" height="129.4" fill="#ae4486" stroke="#111" stroke-width="1"/>
<text x="740" y="79.4" font-size="11.6">Auditorium</text>
<text x="740" y="90.9" font-size="9.6">621</text>
<circle cx="740" cy="99.1" r="2.7" fill="#b5d31c"/>
<circle cx="663.4" cy="142.3" r="6.3" fill="#0a9b3e"/><circle cx="663.4" cy="142.3" r="4.6" fill="none" stroke="#d8f0dc" stroke-width="0.9"/><circle cx="664" cy="142.7" r="2.5" fill="none" stroke="#d8f0dc" stroke-width="0.8"/><circle cx="664.3" cy="142.9" r="0.8" fill="#d8f0dc"/>
<path id="sp663_142" d="M653.2 146.5A10.8 10.8 0 0 1 670.6 134.1" fill="none"/><text font-size="5" style="text-anchor:start"><textPath href="#sp663_142">Spiral Stair</textPath></text>
<rect x="388" y="180.6" width="25" height="18.4" fill="#fff200" stroke="#111" stroke-width="1"/>
<text x="400.5" y="193.3" font-size="9.6">611</text>
<rect x="388" y="199" width="25" height="18.7" fill="#fff200" stroke="#111" stroke-width="1"/>
<text x="400.5" y="211.8" font-size="9.6">612</text>
<line x1="406.5" y1="175" x2="406.5" y2="200" stroke="#111" stroke-width="0.8"/>
<rect x="425.4" y="175.7" width="21.2" height="41.5" fill="#f9b66c" stroke="#111" stroke-width="1"/>
<text font-size="5.2" transform="translate(436.2 196.5) rotate(-90)" y="1.9">OH TANK</text>
<rect x="446.6" y="175.7" width="27.7" height="24.3" fill="#e2001a" stroke="#111" stroke-width="1"/>
<text x="460.5" y="190.8" font-size="10">613</text>
<rect x="446.6" y="200" width="27.7" height="17.2" fill="#10a447" stroke="#00652c" stroke-width="0.8"/>
<line x1="452.1" y1="200" x2="452.1" y2="217.2" stroke="#00652c" stroke-width="0.9"/>
<line x1="457.7" y1="200" x2="457.7" y2="217.2" stroke="#00652c" stroke-width="0.9"/>
<line x1="463.2" y1="200" x2="463.2" y2="217.2" stroke="#00652c" stroke-width="0.9"/>
<line x1="468.8" y1="200" x2="468.8" y2="217.2" stroke="#00652c" stroke-width="0.9"/>
<rect x="514.9" y="176.3" width="38.2" height="40.9" fill="#d6e9d6" stroke="#111" stroke-width="1"/>
<text x="533.7" y="192.2" font-size="10">614</text>
<rect x="553.1" y="176.3" width="88.3" height="40.9" fill="#a7d7f6" stroke="#111" stroke-width="1"/>
<text x="596.9" y="192" font-size="9.6">615</text>
<text x="596.9" y="200.2" font-size="5">Student Affairs</text>
<text x="596.9" y="206.8" font-size="5">Entrepreneurship &amp;</text>
<text x="596.9" y="213.4" font-size="5">Placement Cell</text>
<rect x="641.4" y="176.3" width="42.3" height="40.9" fill="#fbd6a6" stroke="#111" stroke-width="1"/>
<text x="661" y="190.6" font-size="10">616</text>
<text x="661.4" y="201.6" font-size="8">Sick</text>
<text x="661.4" y="209.8" font-size="8">Room</text>
<rect x="683.7" y="176.3" width="26.9" height="10.3" fill="#e4ea8c" stroke="#111" stroke-width="1"/>
<text x="697.2" y="184.8" font-size="9.2">617</text>
<rect x="683.7" y="186.6" width="26.9" height="15.4" fill="#fff200" stroke="#111" stroke-width="1"/>
<text x="697.2" y="197.6" font-size="9.2">618</text>
<rect x="683.7" y="202" width="26.9" height="15.2" fill="#fff200" stroke="#111" stroke-width="1"/>
<text x="697.2" y="212.9" font-size="9.2">619</text>
<polyline points="743.4,217.7 743.4,176.6 814,176.6" fill="none" stroke="#111" stroke-width="1.2"/>
<rect x="743.4" y="177" width="24" height="40.2" fill="#ef5b2b" stroke="#111" stroke-width="1"/>
<text font-size="5.2" transform="translate(755.4 197.1) rotate(-90)" y="1.9">OH TANK</text>
<rect x="767.4" y="177" width="28.9" height="22.4" fill="#e2001a" stroke="#111" stroke-width="1"/>
<text x="781.8" y="193.1" font-size="9.5">622</text>
<text x="787" y="181.8" font-size="4.4">623</text>
<rect x="780.5" y="177.8" width="13" height="4.8" fill="none" stroke="#111" stroke-width="0.5"/>
<rect x="767.4" y="201" width="28.9" height="16.2" fill="#10a447" stroke="#00652c" stroke-width="0.8"/>
<line x1="773.2" y1="201" x2="773.2" y2="217.2" stroke="#00652c" stroke-width="0.9"/>
<line x1="779" y1="201" x2="779" y2="217.2" stroke="#00652c" stroke-width="0.9"/>
<line x1="784.7" y1="201" x2="784.7" y2="217.2" stroke="#00652c" stroke-width="0.9"/>
<line x1="790.5" y1="201" x2="790.5" y2="217.2" stroke="#00652c" stroke-width="0.9"/>
<rect x="796.3" y="177" width="17.4" height="22.4" fill="#ececec" stroke="#111" stroke-width="1"/>
<text font-size="9" transform="translate(805 188.2) rotate(90)" y="3.2">624</text>
<rect x="826" y="170.9" width="42.6" height="46.8" fill="#f9d8cb"/>
<line x1="825.2" y1="170.4" x2="825.2" y2="217.7" stroke="#111" stroke-width="2"/>
<line x1="868.6" y1="170.9" x2="868.6" y2="217.7" stroke="#111" stroke-width="1"/>
<line x1="826" y1="170.9" x2="868.6" y2="170.9" stroke="#111" stroke-width="1" stroke-dasharray="1.2 1.2"/>
<text x="845.1" y="185.9" font-size="10">625</text>
<text x="845.1" y="198.8" font-size="10.6">Store</text>
<text x="845.1" y="210.6" font-size="10.6">Room</text>
<rect x="870" y="168.6" width="22.9" height="49.1" fill="#e9e9e9" stroke="#111" stroke-width="1"/>
<rect x="878.6" y="168.6" width="14.3" height="20.8" fill="#1a1a1a"/>
<text font-size="7.2" style="fill:#fff" transform="translate(885.8 179) rotate(90)" y="2.6">Lift</text>
<rect x="870" y="189.4" width="22.9" height="14.9" fill="#f1f1f1" stroke="#111" stroke-width="1"/>
<text x="881.5" y="200.2" font-size="9.4">626</text>
<rect x="870" y="204.3" width="22.9" height="13.4" fill="#f1f1f1" stroke="#111" stroke-width="1"/>
<text x="881.5" y="214.4" font-size="9.4">627</text>
<line x1="870.4" y1="168.6" x2="870.4" y2="217.7" stroke="#111" stroke-width="1.8"/>
<rect x="893.7" y="169" width="22" height="48.7" fill="#10a447" stroke="#00652c" stroke-width="0.8"/>
<line x1="893.7" y1="173.1" x2="915.7" y2="173.1" stroke="#00652c" stroke-width="0.9"/>
<line x1="893.7" y1="177.1" x2="915.7" y2="177.1" stroke="#00652c" stroke-width="0.9"/>
<line x1="893.7" y1="181.2" x2="915.7" y2="181.2" stroke="#00652c" stroke-width="0.9"/>
<line x1="893.7" y1="185.2" x2="915.7" y2="185.2" stroke="#00652c" stroke-width="0.9"/>
<line x1="893.7" y1="189.3" x2="915.7" y2="189.3" stroke="#00652c" stroke-width="0.9"/>
<line x1="893.7" y1="193.3" x2="915.7" y2="193.3" stroke="#00652c" stroke-width="0.9"/>
<line x1="893.7" y1="197.4" x2="915.7" y2="197.4" stroke="#00652c" stroke-width="0.9"/>
<line x1="893.7" y1="201.5" x2="915.7" y2="201.5" stroke="#00652c" stroke-width="0.9"/>
<line x1="893.7" y1="205.5" x2="915.7" y2="205.5" stroke="#00652c" stroke-width="0.9"/>
<line x1="893.7" y1="209.6" x2="915.7" y2="209.6" stroke="#00652c" stroke-width="0.9"/>
<line x1="893.7" y1="213.6" x2="915.7" y2="213.6" stroke="#00652c" stroke-width="0.9"/>
<line x1="908.6" y1="169" x2="908.6" y2="217.7" stroke="#00652c" stroke-width="1"/>
<path d="M419.4 163.4L441.4 163.4" stroke="#e2001a" stroke-width="1.5" fill="none"/><path d="M446.6 163.4L441.4 166.2L441.4 160.7Z" fill="#e2001a"/>
<path d="M459.1 163.4L481.1 163.4" stroke="#e2001a" stroke-width="1.5" fill="none"/><path d="M486.3 163.4L481.1 166.2L481.1 160.7Z" fill="#e2001a"/>
<path d="M521.4 163.4L500.3 163.4" stroke="#e2001a" stroke-width="1.5" fill="none"/><path d="M495.1 163.4L500.3 160.7L500.3 166.2Z" fill="#e2001a"/>
<path d="M560.9 163.4L539.5 163.4" stroke="#e2001a" stroke-width="1.5" fill="none"/><path d="M534.3 163.4L539.5 160.7L539.5 166.2Z" fill="#e2001a"/>
<path d="M598.6 163.4L576.6 163.4" stroke="#e2001a" stroke-width="1.5" fill="none"/><path d="M571.4 163.4L576.6 160.7L576.6 166.2Z" fill="#e2001a"/>
<path d="M637.1 163.4L615.2 163.4" stroke="#e2001a" stroke-width="1.5" fill="none"/><path d="M610 163.4L615.2 160.7L615.2 166.2Z" fill="#e2001a"/>
<path d="M674.9 163.4L653.8 163.4" stroke="#e2001a" stroke-width="1.5" fill="none"/><path d="M648.6 163.4L653.8 160.7L653.8 166.2Z" fill="#e2001a"/>
<path d="M719.4 163.4L698.1 163.4" stroke="#e2001a" stroke-width="1.5" fill="none"/><path d="M692.9 163.4L698.1 160.7L698.1 166.2Z" fill="#e2001a"/>
<path d="M738 163.4L764.8 163.4" stroke="#e2001a" stroke-width="1.5" fill="none"/><path d="M770 163.4L764.8 166.2L764.8 160.7Z" fill="#e2001a"/>
<path d="M785.1 163.4L811.4 163.4" stroke="#e2001a" stroke-width="1.5" fill="none"/><path d="M816.6 163.4L811.4 166.2L811.4 160.7Z" fill="#e2001a"/>
<path d="M854.9 163.4L837.2 163.4" stroke="#e2001a" stroke-width="1.5" fill="none"/><path d="M832 163.4L837.2 160.7L837.2 166.2Z" fill="#e2001a"/>
<path d="M890.9 163.4L873.8 163.4" stroke="#e2001a" stroke-width="1.5" fill="none"/><path d="M868.6 163.4L873.8 160.7L873.8 166.2Z" fill="#e2001a"/>
<path d="M488 168L488 179.1" stroke="#e2001a" stroke-width="1.5" fill="none"/><path d="M488 184.3L485.2 179.1L490.8 179.1Z" fill="#e2001a"/>
<path d="M488 188.6L488 201.8" stroke="#e2001a" stroke-width="1.5" fill="none"/><path d="M488 207L485.2 201.8L490.8 201.8Z" fill="#e2001a"/>
<path d="M485.7 210L478.1 210" stroke="#e2001a" stroke-width="1.5" fill="none"/><path d="M472.9 210L478.1 207.2L478.1 212.8Z" fill="#e2001a"/>
<path d="M419.1 188.6L419.1 177.2" stroke="#e2001a" stroke-width="1.5" fill="none"/><path d="M419.1 172L421.9 177.2L416.4 177.2Z" fill="#e2001a"/>
<path d="M419.1 212.9L419.1 200.3" stroke="#e2001a" stroke-width="1.5" fill="none"/><path d="M419.1 195.1L421.9 200.3L416.4 200.3Z" fill="#e2001a"/>
<path d="M728.6 188.6L728.6 171.8" stroke="#e2001a" stroke-width="1.5" fill="none"/><path d="M728.6 166.6L731.4 171.8L725.9 171.8Z" fill="#e2001a"/>
<path d="M728.6 213.4L728.6 199.5" stroke="#e2001a" stroke-width="1.5" fill="none"/><path d="M728.6 194.3L731.4 199.5L725.9 199.5Z" fill="#e2001a"/>
<path d="M819.1 168.6L819.1 179.7" stroke="#e2001a" stroke-width="1.5" fill="none"/><path d="M819.1 184.9L816.4 179.7L821.9 179.7Z" fill="#e2001a"/>
<path d="M819.1 189.4L819.1 200.5" stroke="#e2001a" stroke-width="1.5" fill="none"/><path d="M819.1 205.7L816.4 200.5L821.9 200.5Z" fill="#e2001a"/>
<path d="M817.1 210L810.1 210" stroke="#e2001a" stroke-width="1.5" fill="none"/><path d="M804.9 210L810.1 207.2L810.1 212.8Z" fill="#e2001a"/>
<polygon points="415.7,187.8 417.9,191.8 413.5,191.8" fill="#1b9de2"/>
<polygon points="415.7,205.8 417.9,209.8 413.5,209.8" fill="#1b9de2"/>
<polygon points="460,169.2 462.2,173.2 457.8,173.2" fill="#1b9de2"/>
<polygon points="533.7,169.2 535.9,173.2 531.5,173.2" fill="#1b9de2"/>
<polygon points="661.4,167.9 662.1,169.9 664.3,170 662.6,171.3 663.2,173.3 661.4,172.2 659.6,173.3 660.2,171.3 658.5,170 660.7,169.9" fill="#ffc20e"/>
<polygon points="714.9,174.1 715.6,176.1 717.8,176.2 716.1,177.5 716.7,179.5 714.9,178.4 713.1,179.5 713.7,177.5 712,176.2 714.2,176.1" fill="#ffc20e"/>
<rect x="497.4" y="242.1" width="113.2" height="30" fill="#fff200" stroke="#111" stroke-width="1"/>
<text x="554" y="261.3" font-size="11.6">FIFTH FLOOR</text>
<rect x="300.6" y="249.3" width="19.4" height="36.3" fill="#5aa6b2" stroke="#111" stroke-width="1"/>
<rect x="320" y="249.3" width="19.4" height="36.3" fill="#5aa6b2" stroke="#111" stroke-width="1"/>
<rect x="339.4" y="249.3" width="30.3" height="36.3" fill="#5aa6b2" stroke="#111" stroke-width="1"/>
<rect x="369.7" y="249.3" width="39.9" height="36.3" fill="#5aa6b2" stroke="#111" stroke-width="1"/>
<rect x="300.6" y="285.6" width="38.8" height="32.3" fill="#5aa6b2" stroke="#111" stroke-width="1"/>
<rect x="300.6" y="317.9" width="38.8" height="53.4" fill="#a7d7f6" stroke="#111" stroke-width="1"/>
<rect x="339.4" y="285.6" width="30.3" height="85.7" fill="#5aa6b2" stroke="#111" stroke-width="1"/>
<rect x="369.7" y="285.6" width="39.9" height="85.7" fill="#5aa6b2" stroke="#111" stroke-width="1"/>
<rect x="340.8" y="349.9" width="18.1" height="21.4" fill="#1b9de2" stroke="#111" stroke-width="1"/>
<text x="349.9" y="363.9" font-size="7.8">518</text>
<rect x="300.6" y="249.3" width="109.2" height="122" fill="none" stroke="#111" stroke-width="1.6"/>
<text x="310.3" y="266.3" font-size="8">514</text>
<polygon points="310.3,271.3 311,273.3 313.2,273.4 311.5,274.7 312.1,276.7 310.3,275.6 308.5,276.7 309.1,274.7 307.4,273.4 309.6,273.3" fill="#ffc20e"/>
<text x="329.6" y="266.3" font-size="8">513</text>
<polygon points="329.6,271.3 330.3,273.3 332.5,273.4 330.8,274.7 331.4,276.7 329.6,275.6 327.8,276.7 328.4,274.7 326.7,273.4 328.9,273.3" fill="#ffc20e"/>
<text x="354.4" y="266.3" font-size="8">512</text>
<polygon points="354.4,271.3 355.1,273.3 357.3,273.4 355.6,274.7 356.2,276.7 354.4,275.6 352.6,276.7 353.2,274.7 351.5,273.4 353.7,273.3" fill="#ffc20e"/>
<text x="389.4" y="266.3" font-size="8">511</text>
<polygon points="389.4,271.3 390.1,273.3 392.3,273.4 390.6,274.7 391.2,276.7 389.4,275.6 387.6,276.7 388.2,274.7 386.5,273.4 388.7,273.3" fill="#ffc20e"/>
<text x="319.4" y="299.5" font-size="8">515</text>
<polygon points="319.7,304.5 320.4,306.5 322.6,306.6 320.9,307.9 321.5,309.9 319.7,308.8 317.9,309.9 318.5,307.9 316.8,306.6 319,306.5" fill="#ffc20e"/>
<text x="317.6" y="346" font-size="8">516</text>
<text x="354.4" y="313" font-size="8">519</text>
<polygon points="354.7,318.2 355.4,320.2 357.6,320.3 355.9,321.6 356.5,323.6 354.7,322.5 352.9,323.6 353.5,321.6 351.8,320.3 354,320.2" fill="#ffc20e"/>
<text x="389.4" y="313" font-size="8">510</text>
<polygon points="389.4,318.2 390.1,320.2 392.3,320.3 390.6,321.6 391.2,323.6 389.4,322.5 387.6,323.6 388.2,321.6 386.5,320.3 388.7,320.2" fill="#ffc20e"/>
<rect x="410" y="332" width="30.6" height="39.3" fill="#1a1a1a"/>
<text x="425.3" y="355.3" font-size="10.2" style="fill:#fff;">Lift</text>
<rect x="335.7" y="371.3" width="328.6" height="22.8" fill="#fff"/>
<line x1="410" y1="371.3" x2="666" y2="371.3" stroke="#111" stroke-width="1.2"/>
<rect x="300.6" y="372.7" width="35.1" height="62.3" fill="#1b9de2" stroke="#111" stroke-width="1.2"/>
<text font-size="6.2" transform="translate(306.4 404) rotate(-90)" y="2.2">Department of</text>
<text font-size="6.2" transform="translate(312.9 404.2) rotate(-90)" y="2.2">Physics, Electronic</text>
<text font-size="6.2" transform="translate(319.4 403.2) rotate(-90)" y="2.2">&amp; Computer</text>
<text font-size="7.4" transform="translate(329.5 397.7) rotate(-90)" y="2.7">517</text>
<rect x="325.2" y="418.7" width="9.8" height="15.7" fill="#fff200" stroke="#111" stroke-width="0.7"/>
<text font-size="4" transform="translate(330.2 426.6) rotate(-90)" y="1.4">Toilet</text>
<rect x="335.7" y="394.1" width="20" height="40.9" fill="#5aa6b2" stroke="#111" stroke-width="1"/>
<text x="345.7" y="402.8" font-size="7.8">520</text>
<polygon points="346,406.2 346.7,408.2 348.9,408.3 347.2,409.6 347.8,411.6 346,410.5 344.2,411.6 344.8,409.6 343.1,408.3 345.3,408.2" fill="#ffc20e"/>
<rect x="355.7" y="394.1" width="24.9" height="40.9" fill="#5aa6b2" stroke="#111" stroke-width="1"/>
<text x="368.1" y="402.8" font-size="7.8">521</text>
<polygon points="368.4,406.2 369.2,408.2 371.3,408.3 369.6,409.6 370.2,411.6 368.4,410.5 366.7,411.6 367.3,409.6 365.6,408.3 367.7,408.2" fill="#ffc20e"/>
<rect x="380.6" y="394.1" width="29.4" height="40.9" fill="#5aa6b2" stroke="#111" stroke-width="1"/>
<text x="395.3" y="402.8" font-size="7.8">522</text>
<polygon points="395.6,406.2 396.3,408.2 398.5,408.3 396.8,409.6 397.4,411.6 395.6,410.5 393.8,411.6 394.4,409.6 392.7,408.3 394.9,408.2" fill="#ffc20e"/>
<rect x="410" y="394.1" width="22.9" height="40.9" fill="#fff200" stroke="#111" stroke-width="1"/>
<text x="421.5" y="402.8" font-size="7.8">523</text>
<rect x="453.7" y="394.1" width="40" height="40.9" fill="#5aa6b2" stroke="#111" stroke-width="1"/>
<text x="481.5" y="402.8" font-size="7.8">524</text>
<polygon points="481.8,406.2 482.5,408.2 484.7,408.3 483,409.6 483.6,411.6 481.8,410.5 480,411.6 480.6,409.6 478.9,408.3 481.1,408.2" fill="#ffc20e"/>
<rect x="493.7" y="394.1" width="38.6" height="40.9" fill="#a7d7f6" stroke="#111" stroke-width="1"/>
<text x="513" y="402.8" font-size="7.8">525</text>
<rect x="532.3" y="394.1" width="36.3" height="40.9" fill="#a7d7f6" stroke="#111" stroke-width="1"/>
<text x="550.5" y="402.8" font-size="7.8">526</text>
<rect x="568.6" y="394.1" width="50" height="40.9" fill="#a7d7f6" stroke="#111" stroke-width="1"/>
<text x="593.6" y="402.8" font-size="7.8">527</text>
<rect x="618.6" y="394.1" width="45.7" height="40.9" fill="#a7d7f6" stroke="#111" stroke-width="1"/>
<text x="641.5" y="402.8" font-size="7.8">528</text>
<rect x="432.9" y="394.1" width="20.8" height="40.9" fill="#10a447" stroke="#00652c" stroke-width="0.8"/>
<line x1="432.9" y1="399.2" x2="453.7" y2="399.2" stroke="#00652c" stroke-width="0.9"/>
<line x1="432.9" y1="404.3" x2="453.7" y2="404.3" stroke="#00652c" stroke-width="0.9"/>
<line x1="432.9" y1="409.4" x2="453.7" y2="409.4" stroke="#00652c" stroke-width="0.9"/>
<line x1="432.9" y1="414.6" x2="453.7" y2="414.6" stroke="#00652c" stroke-width="0.9"/>
<line x1="432.9" y1="419.7" x2="453.7" y2="419.7" stroke="#00652c" stroke-width="0.9"/>
<line x1="432.9" y1="424.8" x2="453.7" y2="424.8" stroke="#00652c" stroke-width="0.9"/>
<line x1="432.9" y1="429.9" x2="453.7" y2="429.9" stroke="#00652c" stroke-width="0.9"/>
<line x1="432.9" y1="393.2" x2="453.7" y2="393.2" stroke="#c8553a" stroke-width="1.4"/>
<rect x="453.7" y="394.1" width="15.7" height="20.9" fill="#1a1a1a"/>
<text font-size="7.2" style="fill:#fff" transform="translate(461.5 404.6) rotate(-90)" y="2.6">Lift</text>
<line x1="300.6" y1="435" x2="664.3" y2="435" stroke="#111" stroke-width="1.4"/>
<path d="M352 382.4L373.4 382.4" stroke="#e2001a" stroke-width="1.5" fill="none"/><path d="M378.6 382.4L373.4 385.1L373.4 379.6Z" fill="#e2001a"/>
<path d="M400.3 382.4L421.4 382.4" stroke="#e2001a" stroke-width="1.5" fill="none"/><path d="M426.6 382.4L421.4 385.1L421.4 379.6Z" fill="#e2001a"/>
<path d="M487.1 382.4L465.5 382.4" stroke="#e2001a" stroke-width="1.5" fill="none"/><path d="M460.3 382.4L465.5 379.6L465.5 385.1Z" fill="#e2001a"/>
<path d="M529.7 382.4L508.3 382.4" stroke="#e2001a" stroke-width="1.5" fill="none"/><path d="M503.1 382.4L508.3 379.6L508.3 385.1Z" fill="#e2001a"/>
<path d="M569.4 382.4L548.6 382.4" stroke="#e2001a" stroke-width="1.5" fill="none"/><path d="M543.4 382.4L548.6 379.6L548.6 385.1Z" fill="#e2001a"/>
<path d="M612.6 382.4L591.2 382.4" stroke="#e2001a" stroke-width="1.5" fill="none"/><path d="M586 382.4L591.2 379.6L591.2 385.1Z" fill="#e2001a"/>
<path d="M655 382.4L634.2 382.4" stroke="#e2001a" stroke-width="1.5" fill="none"/><path d="M629 382.4L634.2 379.6L634.2 385.1Z" fill="#e2001a"/>
<path d="M439.7 376.5L439.7 386.4" stroke="#e2001a" stroke-width="1.5" fill="none"/><path d="M439.7 391.6L436.9 386.4L442.4 386.4Z" fill="#e2001a"/>
<circle cx="654.5" cy="361.5" r="6.3" fill="#0a9b3e"/><circle cx="654.5" cy="361.5" r="4.6" fill="none" stroke="#d8f0dc" stroke-width="0.9"/><circle cx="655.1" cy="361.9" r="2.5" fill="none" stroke="#d8f0dc" stroke-width="0.8"/><circle cx="655.4" cy="362.1" r="0.8" fill="#d8f0dc"/>
<path id="sp654_361" d="M644.3 365.7A10.8 10.8 0 0 1 661.7 353.3" fill="none"/><text font-size="5" style="text-anchor:start"><textPath href="#sp654_361">Spiral Stair</textPath></text>
<rect x="665.7" y="245.9" width="81.4" height="32.5" fill="#f5b4bf" stroke="#111" stroke-width="1"/>
<rect x="747.1" y="245.9" width="43.5" height="20" fill="#f5b4bf" stroke="#111" stroke-width="1"/>
<rect x="747.1" y="265.9" width="43.5" height="44.8" fill="#f5b4bf" stroke="#111" stroke-width="1"/>
<rect x="747.1" y="310.7" width="43.5" height="60.6" fill="#f5b4bf" stroke="#111" stroke-width="1"/>
<line x1="747.1" y1="245.9" x2="747.1" y2="265.9" stroke="#111" stroke-width="1.6"/>
<rect x="665.7" y="278.4" width="60" height="44.3" fill="#f5b4bf" stroke="#111" stroke-width="1"/>
<rect x="665.7" y="322.7" width="60" height="48.6" fill="#f5b4bf" stroke="#111" stroke-width="1"/>
<rect x="763.4" y="361.6" width="16" height="9.7" fill="#fff" stroke="#111" stroke-width="1"/>
<text x="771.4" y="368.4" font-size="5.4">538</text>
<rect x="779.4" y="361.6" width="11.2" height="9.7" fill="#fff200" stroke="#111" stroke-width="1"/>
<text x="785" y="368.1" font-size="4.6">539</text>
<text x="700" y="258.8" font-size="7.8">534</text>
<polygon points="700,267.6 702.2,263.6 697.8,263.6" fill="#1b9de2"/>
<polygon points="758.4,258.4 760.6,254.4 756.2,254.4" fill="#1b9de2"/>
<text x="771.7" y="258.8" font-size="7.8">535</text>
<polygon points="758.4,292.8 760.6,288.8 756.2,288.8" fill="#1b9de2"/>
<text x="771.7" y="293.3" font-size="7.8">536</text>
<text x="700.6" y="298.2" font-size="7.8">533</text>
<polygon points="700,307 702.2,303 697.8,303" fill="#1b9de2"/>
<text x="700.6" y="339.8" font-size="7.8">532</text>
<polygon points="700,348 702.2,344 697.8,344" fill="#1b9de2"/>
<polygon points="758.4,338.4 760.6,334.4 756.2,334.4" fill="#1b9de2"/>
<text x="771.7" y="339.6" font-size="7.8">537</text>
<polygon points="785.4,359.2 787.6,355.2 783.2,355.2" fill="#1b9de2"/>
<polygon points="759.7,367.2 761.9,363.2 757.5,363.2" fill="#1b9de2"/>
<rect x="665.7" y="372" width="28.9" height="23" fill="#f5b4bf" stroke="#111" stroke-width="1"/>
<text x="680.2" y="386.3" font-size="7.8">529</text>
<polygon points="698.9,384.4 701.1,380.4 696.7,380.4" fill="#1b9de2"/>
<polygon points="718.3,392.8 720.5,388.8 716.1,388.8" fill="#1b9de2"/>
<rect x="665.7" y="411.5" width="44.7" height="23.5" fill="#f5b4bf" stroke="#111" stroke-width="1"/>
<text font-size="7.8" transform="translate(684.7 422.6) rotate(180)" y="2.8">530</text>
<polygon points="698.1,424.3 700.3,420.3 695.9,420.3" fill="#1b9de2"/>
<line x1="664.3" y1="372" x2="664.3" y2="435" stroke="#111" stroke-width="1.3"/>
<rect x="710.4" y="394" width="16" height="41" fill="#fff200" stroke="#111" stroke-width="1"/>
<text font-size="8" transform="translate(718.4 414.5) rotate(90)" y="2.9">531</text>
<rect x="726.4" y="394" width="20.9" height="41" fill="#10a447" stroke="#00652c" stroke-width="0.8"/>
<line x1="726.4" y1="397.7" x2="747.3" y2="397.7" stroke="#00652c" stroke-width="0.9"/>
<line x1="726.4" y1="401.5" x2="747.3" y2="401.5" stroke="#00652c" stroke-width="0.9"/>
<line x1="726.4" y1="405.2" x2="747.3" y2="405.2" stroke="#00652c" stroke-width="0.9"/>
<line x1="726.4" y1="408.9" x2="747.3" y2="408.9" stroke="#00652c" stroke-width="0.9"/>
<line x1="726.4" y1="412.6" x2="747.3" y2="412.6" stroke="#00652c" stroke-width="0.9"/>
<line x1="726.4" y1="416.4" x2="747.3" y2="416.4" stroke="#00652c" stroke-width="0.9"/>
<line x1="726.4" y1="420.1" x2="747.3" y2="420.1" stroke="#00652c" stroke-width="0.9"/>
<line x1="726.4" y1="423.8" x2="747.3" y2="423.8" stroke="#00652c" stroke-width="0.9"/>
<line x1="726.4" y1="427.5" x2="747.3" y2="427.5" stroke="#00652c" stroke-width="0.9"/>
<line x1="726.4" y1="431.3" x2="747.3" y2="431.3" stroke="#00652c" stroke-width="0.9"/>
<line x1="740.5" y1="394" x2="740.5" y2="435" stroke="#00652c" stroke-width="1"/>
<line x1="727" y1="393.2" x2="746" y2="393.2" stroke="#c8553a" stroke-width="1.4"/>
<rect x="747.3" y="394" width="13.1" height="20" fill="#1a1a1a"/>
<text font-size="7" style="fill:#fff" transform="translate(753.8 404) rotate(-90)" y="2.5">Lift</text>
<rect x="760.4" y="394" width="5.9" height="20" fill="#fff200" stroke="#111" stroke-width="0.6"/>
<text font-size="4.8" transform="translate(763.4 404) rotate(90)" y="1.7">540</text>
<rect x="747.3" y="414.3" width="19" height="20.7" fill="#d6e9d6" stroke="#111" stroke-width="1"/>
<text font-size="7.6" transform="translate(754.3 424.6) rotate(90)" y="2.7">542</text>
<polygon points="761.4,426.2 763.6,422.2 759.2,422.2" fill="#1b9de2"/>
<rect x="766.3" y="394" width="59.7" height="41" fill="#f5b4bf"/>
<line x1="766.3" y1="435" x2="826" y2="435" stroke="#111" stroke-width="1"/>
<path d="M784 412.5A15.5 15.5 0 0 1 815 412.5" fill="none" stroke="#111" stroke-width="1.6"/>
<text x="799.8" y="410.8" font-size="8.4">541</text>
<polygon points="800.2,418.8 802.4,414.8 798,414.8" fill="#1b9de2"/>
<rect x="826.5" y="395" width="11.8" height="40" fill="#f5b4bf" stroke="#111" stroke-width="1"/>
<text font-size="7.6" transform="translate(832.4 415) rotate(90)" y="2.7">543</text>
<polygon points="832.2,402.4 834.4,398.4 830,398.4" fill="#1b9de2"/>
<rect x="839.4" y="395" width="37.4" height="40" fill="#e9e9e9" stroke="#111" stroke-width="1"/>
<rect x="863" y="395" width="13.8" height="19.3" fill="#1a1a1a"/>
<text font-size="7" style="fill:#fff" transform="translate(869.9 404.6) rotate(90)" y="2.5">Lift</text>
<text x="841.5" y="421.8" font-size="5.8" style="text-anchor:start;">BSNL</text>
<text x="841.5" y="429.6" font-size="5.8" style="text-anchor:start;">EXCHANGE</text>
<rect x="876.8" y="395" width="22.6" height="40" fill="#10a447" stroke="#00652c" stroke-width="0.8"/>
<line x1="876.8" y1="398.6" x2="899.4" y2="398.6" stroke="#00652c" stroke-width="0.9"/>
<line x1="876.8" y1="402.3" x2="899.4" y2="402.3" stroke="#00652c" stroke-width="0.9"/>
<line x1="876.8" y1="405.9" x2="899.4" y2="405.9" stroke="#00652c" stroke-width="0.9"/>
<line x1="876.8" y1="409.5" x2="899.4" y2="409.5" stroke="#00652c" stroke-width="0.9"/>
<line x1="876.8" y1="413.2" x2="899.4" y2="413.2" stroke="#00652c" stroke-width="0.9"/>
<line x1="876.8" y1="416.8" x2="899.4" y2="416.8" stroke="#00652c" stroke-width="0.9"/>
<line x1="876.8" y1="420.5" x2="899.4" y2="420.5" stroke="#00652c" stroke-width="0.9"/>
<line x1="876.8" y1="424.1" x2="899.4" y2="424.1" stroke="#00652c" stroke-width="0.9"/>
<line x1="876.8" y1="427.7" x2="899.4" y2="427.7" stroke="#00652c" stroke-width="0.9"/>
<line x1="876.8" y1="431.4" x2="899.4" y2="431.4" stroke="#00652c" stroke-width="0.9"/>
<line x1="892" y1="395" x2="892" y2="435" stroke="#00652c" stroke-width="1"/>
<rect x="899.6" y="395.8" width="8.9" height="39.2" fill="#fff200" stroke="#111" stroke-width="0.7"/>
<rect x="908.5" y="395.8" width="8.9" height="39.2" fill="#fff200" stroke="#111" stroke-width="0.7"/>
<text font-size="5.6" transform="translate(904 405.5) rotate(90)" y="2">551</text>
<text font-size="5.6" transform="translate(913 405.5) rotate(90)" y="2">550</text>
<rect x="918.2" y="372" width="44.7" height="63" fill="#f5b4bf" stroke="#111" stroke-width="1"/>
<text x="940.5" y="406.3" font-size="7.8">549</text>
<rect x="900" y="347" width="62.9" height="24.6" fill="#f5b4bf" stroke="#111" stroke-width="1"/>
<text x="931.5" y="362.1" font-size="7.8">548</text>
<rect x="900" y="302.7" width="52.3" height="44" fill="#f5b4bf" stroke="#111" stroke-width="1"/>
<text x="926.1" y="327.5" font-size="7.8">547</text>
<rect x="905.7" y="245.9" width="46.6" height="56.5" fill="#f5b4bf" stroke="#111" stroke-width="1"/>
<text x="929" y="275" font-size="7.8">546</text>
<rect x="839.4" y="302.7" width="38.3" height="44" fill="#f5b4bf" stroke="#111" stroke-width="1"/>
<text x="858.5" y="327.5" font-size="7.8">545</text>
<rect x="839.4" y="347" width="38.3" height="24.3" fill="#f5b4bf" stroke="#111" stroke-width="1"/>
<text x="858.5" y="362" font-size="7.8">544</text>
<polyline points="839.4,302.7 839.4,245.9 905.7,245.9" fill="none" stroke="#111" stroke-width="1.2"/>
<line x1="790.6" y1="371.3" x2="839.4" y2="371.3" stroke="#111" stroke-width="1"/>
<circle cx="782.7" cy="374.6" r="2.2" fill="#9aa3ad"/>
<circle cx="787.6" cy="374.6" r="2.2" fill="#9aa3ad"/>
<circle cx="792.6" cy="374.6" r="2.2" fill="#9aa3ad"/>
<circle cx="797.5" cy="374.6" r="2.2" fill="#9aa3ad"/>
<circle cx="802.5" cy="374.6" r="2.2" fill="#9aa3ad"/>
<circle cx="807.4" cy="374.6" r="2.2" fill="#9aa3ad"/>
<circle cx="812.3" cy="374.6" r="2.2" fill="#9aa3ad"/>
<circle cx="817.3" cy="374.6" r="2.2" fill="#9aa3ad"/>
<rect x="780.5" y="372" width="39.5" height="2.6" fill="#b8bec6"/>
<line x1="664.3" y1="435" x2="962.9" y2="435" stroke="#111" stroke-width="1.3"/>
<path d="M709.2 382.7L720.7 382.7" stroke="#e2001a" stroke-width="1.5" fill="none"/><path d="M725.9 382.7L720.7 385.4L720.7 379.9Z" fill="#e2001a"/>
<path d="M761.4 382.7L750.6 382.7" stroke="#e2001a" stroke-width="1.5" fill="none"/><path d="M745.4 382.7L750.6 379.9L750.6 385.4Z" fill="#e2001a"/>
<path d="M799 382.7L784.5 382.7" stroke="#e2001a" stroke-width="1.5" fill="none"/><path d="M779.3 382.7L784.5 379.9L784.5 385.4Z" fill="#e2001a"/>
<path d="M799 382.7L813.5 382.7" stroke="#e2001a" stroke-width="1.5" fill="none"/><path d="M818.7 382.7L813.5 385.4L813.5 379.9Z" fill="#e2001a"/>
<path d="M837.6 382.7L849.1 382.7" stroke="#e2001a" stroke-width="1.5" fill="none"/><path d="M854.3 382.7L849.1 385.4L849.1 379.9Z" fill="#e2001a"/>
<path d="M864.7 382.7L876.2 382.7" stroke="#e2001a" stroke-width="1.5" fill="none"/><path d="M881.4 382.7L876.2 385.4L876.2 379.9Z" fill="#e2001a"/>
<path d="M911.4 382.7L900.1 382.7" stroke="#e2001a" stroke-width="1.5" fill="none"/><path d="M894.9 382.7L900.1 379.9L900.1 385.4Z" fill="#e2001a"/>
<path d="M735.5 283.5L735.5 300.8" stroke="#e2001a" stroke-width="1.5" fill="none"/><path d="M735.5 306L732.8 300.8L738.2 300.8Z" fill="#e2001a"/>
<path d="M735.5 318L735.5 335.3" stroke="#e2001a" stroke-width="1.5" fill="none"/><path d="M735.5 340.5L732.8 335.3L738.2 335.3Z" fill="#e2001a"/>
<path d="M735.5 348.5L735.5 365.8" stroke="#e2001a" stroke-width="1.5" fill="none"/><path d="M735.5 371L732.8 365.8L738.2 365.8Z" fill="#e2001a"/>
<path d="M735.5 376L735.5 386.4" stroke="#e2001a" stroke-width="1.5" fill="none"/><path d="M735.5 391.6L732.8 386.4L738.2 386.4Z" fill="#e2001a"/>
<path d="M889.3 285L889.3 302.3" stroke="#e2001a" stroke-width="1.5" fill="none"/><path d="M889.3 307.5L886.5 302.3L892 302.3Z" fill="#e2001a"/>
<path d="M889.3 318.5L889.3 335.8" stroke="#e2001a" stroke-width="1.5" fill="none"/><path d="M889.3 341L886.5 335.8L892 335.8Z" fill="#e2001a"/>
<path d="M889.3 347.5L889.3 364.8" stroke="#e2001a" stroke-width="1.5" fill="none"/><path d="M889.3 370L886.5 364.8L892 364.8Z" fill="#e2001a"/>
<path d="M889.3 378.5L889.3 388.1" stroke="#e2001a" stroke-width="1.5" fill="none"/><path d="M889.3 393.3L886.5 388.1L892 388.1Z" fill="#e2001a"/>
<path d="M701.3 402.4L701.3 392.3" stroke="#e2001a" stroke-width="1.5" fill="none"/><path d="M701.3 387.1L704 392.3L698.5 392.3Z" fill="#e2001a"/>
<path d="M774.9 401.9L774.9 391.8" stroke="#e2001a" stroke-width="1.5" fill="none"/><path d="M774.9 386.6L777.6 391.8L772.1 391.8Z" fill="#e2001a"/>
<path d="M774.9 422L774.9 412" stroke="#e2001a" stroke-width="1.5" fill="none"/><path d="M774.9 406.8L777.6 412L772.1 412Z" fill="#e2001a"/>
<path d="M822.4 401.9L822.4 391.8" stroke="#e2001a" stroke-width="1.5" fill="none"/><path d="M822.4 386.6L825.1 391.8L819.6 391.8Z" fill="#e2001a"/>
<path d="M822.4 422L822.4 412" stroke="#e2001a" stroke-width="1.5" fill="none"/><path d="M822.4 406.8L825.1 412L819.6 412Z" fill="#e2001a"/>
<path d="M671 403.6L687.3 403.6" stroke="#e2001a" stroke-width="1.5" fill="none"/><path d="M692.5 403.6L687.3 406.4L687.3 400.9Z" fill="#e2001a"/>
<rect x="497.4" y="470.6" width="113.2" height="29.4" fill="#fff200" stroke="#111" stroke-width="1"/>
<text x="554" y="489.5" font-size="11.6">FOURTH FLOOR</text>
<rect x="300.6" y="482" width="40.8" height="61.4" fill="#5aa6b2" stroke="#111" stroke-width="1"/>
<rect x="341.4" y="482" width="22" height="42.3" fill="#5aa6b2" stroke="#111" stroke-width="1"/>
<rect x="363.4" y="482" width="46.6" height="61.4" fill="#5aa6b2" stroke="#111" stroke-width="1"/>
<rect x="363.4" y="543.4" width="46.6" height="15.7" fill="#5aa6b2" stroke="#111" stroke-width="1"/>
<rect x="363.4" y="559.1" width="46.6" height="44.9" fill="#a7d7f6" stroke="#111" stroke-width="1"/>
<rect x="300.6" y="543.4" width="40.8" height="48.6" fill="#5aa6b2" stroke="#111" stroke-width="1"/>
<rect x="300.6" y="592" width="40.8" height="12" fill="#5aa6b2" stroke="#111" stroke-width="1"/>
<rect x="300.6" y="482" width="109.6" height="122" fill="none" stroke="#111" stroke-width="1.6"/>
<rect x="342" y="525" width="20.9" height="80" fill="#fff"/>
<line x1="341.4" y1="524.3" x2="341.4" y2="604" stroke="#111" stroke-width="1"/>
<line x1="363.4" y1="524.3" x2="363.4" y2="604" stroke="#111" stroke-width="1"/>
<text x="318" y="506.9" font-size="8">414</text>
<text x="352.3" y="506.9" font-size="8">413</text>
<text x="384.9" y="506.9" font-size="8">412</text>
<text x="386" y="554" font-size="8">411</text>
<text x="384.3" y="582.3" font-size="8">410</text>
<text x="318" y="570.9" font-size="8">415</text>
<text x="316" y="601.2" font-size="8">416</text>
<polygon points="372.9,548.1 373.6,550.1 375.8,550.2 374.1,551.5 374.7,553.5 372.9,552.4 371.1,553.5 371.7,551.5 370,550.2 372.2,550.1" fill="#ffc20e"/>
<polygon points="330.5,595.3 331.2,597.3 333.4,597.4 331.7,598.7 332.3,600.7 330.5,599.6 328.7,600.7 329.3,598.7 327.6,597.4 329.8,597.3" fill="#ffc20e"/>
<rect x="410.6" y="564.9" width="30" height="39.1" fill="#1a1a1a"/>
<text x="425.6" y="588.1" font-size="10.2" style="fill:#fff;">Lift</text>
<rect x="335" y="604.6" width="330" height="22.5" fill="#fff"/>
<line x1="410" y1="604" x2="666" y2="604" stroke="#111" stroke-width="1.2"/>
<rect x="300.6" y="604.9" width="34.3" height="62.8" fill="#1b9de2" stroke="#111" stroke-width="1.2"/>
<text font-size="6.2" transform="translate(306 637.5) rotate(-90)" y="2.2">Department of</text>
<text font-size="6.2" transform="translate(313 637.5) rotate(-90)" y="2.2">Chemistry &amp;</text>
<text font-size="6.2" transform="translate(320 637.5) rotate(-90)" y="2.2">Maths</text>
<text font-size="7.4" transform="translate(330.2 634.5) rotate(-90)" y="2.7">417</text>
<polygon points="330.5,613.3 331.2,615.3 333.4,615.4 331.7,616.7 332.3,618.7 330.5,617.6 328.7,618.7 329.3,616.7 327.6,615.4 329.8,615.3" fill="#ffc20e"/>
<rect x="324.4" y="651.2" width="9.9" height="15.8" fill="#fff200" stroke="#111" stroke-width="0.7"/>
<text font-size="4" transform="translate(329.4 659.2) rotate(-90)" y="1.4">Toilet</text>
<rect x="334.9" y="627.1" width="97.1" height="40.6" fill="#a7d7f6" stroke="#111" stroke-width="1"/>
<text x="383.4" y="640.9" font-size="8">418</text>
<rect x="432" y="627.1" width="20.9" height="40.6" fill="#10a447" stroke="#00652c" stroke-width="0.8"/>
<line x1="432" y1="632.2" x2="452.9" y2="632.2" stroke="#00652c" stroke-width="0.9"/>
<line x1="432" y1="637.2" x2="452.9" y2="637.2" stroke="#00652c" stroke-width="0.9"/>
<line x1="432" y1="642.3" x2="452.9" y2="642.3" stroke="#00652c" stroke-width="0.9"/>
<line x1="432" y1="647.4" x2="452.9" y2="647.4" stroke="#00652c" stroke-width="0.9"/>
<line x1="432" y1="652.5" x2="452.9" y2="652.5" stroke="#00652c" stroke-width="0.9"/>
<line x1="432" y1="657.6" x2="452.9" y2="657.6" stroke="#00652c" stroke-width="0.9"/>
<line x1="432" y1="662.6" x2="452.9" y2="662.6" stroke="#00652c" stroke-width="0.9"/>
<line x1="432" y1="626.2" x2="452.9" y2="626.2" stroke="#b4532a" stroke-width="1.4"/>
<rect x="452.9" y="627.1" width="31.4" height="40.6" fill="#fff200" stroke="#111" stroke-width="1"/>
<text x="475.3" y="640.9" font-size="8.2">419</text>
<rect x="452.9" y="627.1" width="15.7" height="21.9" fill="#1a1a1a"/>
<text font-size="7.2" style="fill:#fff" transform="translate(460.8 638) rotate(-90)" y="2.6">Lift</text>
<rect x="484.3" y="627.1" width="40.8" height="40.6" fill="#d2cdea" stroke="#111" stroke-width="1"/>
<text x="504.9" y="640.9" font-size="8">420</text>
<text x="504.9" y="652.6" font-size="6.4" style="font-weight:normal;stroke:#111;stroke-width:0.28px;">Computer</text>
<text x="504.9" y="660" font-size="6.4" style="font-weight:normal;stroke:#111;stroke-width:0.28px;">Lab</text>
<rect x="525.1" y="627.1" width="24.9" height="40.6" fill="#f2f2f2" stroke="#111" stroke-width="1"/>
<text x="538.3" y="640.9" font-size="8">421</text>
<text x="537.7" y="652.6" font-size="6" style="font-weight:normal;stroke:#111;stroke-width:0.28px;">Server</text>
<text x="537.7" y="660" font-size="6" style="font-weight:normal;stroke:#111;stroke-width:0.28px;">Room</text>
<rect x="550" y="627.1" width="53.7" height="40.6" fill="#d2cdea" stroke="#111" stroke-width="1"/>
<text x="576.3" y="640.9" font-size="8">422</text>
<text x="576.3" y="652.6" font-size="6.4" style="font-weight:normal;stroke:#111;stroke-width:0.28px;">Computer</text>
<text x="576.3" y="660" font-size="6.4" style="font-weight:normal;stroke:#111;stroke-width:0.28px;">Lab</text>
<rect x="603.7" y="627.1" width="61.4" height="40.6" fill="#a7d7f6" stroke="#111" stroke-width="1"/>
<text x="632" y="640.9" font-size="8">423</text>
<line x1="408" y1="604" x2="408" y2="627.1" stroke="#b4532a" stroke-width="1.3"/>
<line x1="604.3" y1="604" x2="604.3" y2="627.1" stroke="#b4532a" stroke-width="1.3"/>
<line x1="300.6" y1="667.7" x2="665" y2="667.7" stroke="#111" stroke-width="1.4"/>
<polygon points="504.9,620.9 505.6,622.7 507.5,622.8 506,624 506.5,625.8 504.9,624.7 503.3,625.8 503.8,624 502.3,622.8 504.2,622.7" fill="#ffc20e"/>
<polygon points="537.1,620.9 537.8,622.7 539.7,622.8 538.2,624 538.7,625.8 537.1,624.7 535.5,625.8 536,624 534.5,622.8 536.4,622.7" fill="#ffc20e"/>
<polygon points="576.3,620.9 577,622.7 578.9,622.8 577.4,624 577.9,625.8 576.3,624.7 574.7,625.8 575.2,624 573.7,622.8 575.6,622.7" fill="#ffc20e"/>
<polygon points="632.9,620.9 633.6,622.7 635.5,622.8 634,624 634.5,625.8 632.9,624.7 631.3,625.8 631.8,624 630.3,622.8 632.2,622.7" fill="#ffc20e"/>
<polygon points="696.6,620.9 697.3,622.7 699.2,622.8 697.7,624 698.2,625.8 696.6,624.7 695,625.8 695.5,624 694,622.8 695.9,622.7" fill="#ffc20e"/>
<path d="M350 616.1L370.5 616.1" stroke="#e2001a" stroke-width="1.5" fill="none"/><path d="M375.7 616.1L370.5 618.9L370.5 613.4Z" fill="#e2001a"/>
<path d="M398.6 616.1L419.1 616.1" stroke="#e2001a" stroke-width="1.5" fill="none"/><path d="M424.3 616.1L419.1 618.9L419.1 613.4Z" fill="#e2001a"/>
<path d="M485.7 616.1L464.3 616.1" stroke="#e2001a" stroke-width="1.5" fill="none"/><path d="M459.1 616.1L464.3 613.4L464.3 618.9Z" fill="#e2001a"/>
<path d="M528.6 616.1L508.1 616.1" stroke="#e2001a" stroke-width="1.5" fill="none"/><path d="M502.9 616.1L508.1 613.4L508.1 618.9Z" fill="#e2001a"/>
<path d="M575.7 616.1L555.8 616.1" stroke="#e2001a" stroke-width="1.5" fill="none"/><path d="M550.6 616.1L555.8 613.4L555.8 618.9Z" fill="#e2001a"/>
<path d="M595.7 616.1L616.2 616.1" stroke="#e2001a" stroke-width="1.5" fill="none"/><path d="M621.4 616.1L616.2 618.9L616.2 613.4Z" fill="#e2001a"/>
<path d="M644.3 616.1L664.8 616.1" stroke="#e2001a" stroke-width="1.5" fill="none"/><path d="M670 616.1L664.8 618.9L664.8 613.4Z" fill="#e2001a"/>
<path d="M688.6 616.1L709.1 616.1" stroke="#e2001a" stroke-width="1.5" fill="none"/><path d="M714.3 616.1L709.1 618.9L709.1 613.4Z" fill="#e2001a"/>
<path d="M757.1 616.1L742.3 616.1" stroke="#e2001a" stroke-width="1.5" fill="none"/><path d="M737.1 616.1L742.3 613.4L742.3 618.9Z" fill="#e2001a"/>
<path d="M438 609.5L438 619.1" stroke="#e2001a" stroke-width="1.5" fill="none"/><path d="M438 624.3L435.2 619.1L440.8 619.1Z" fill="#e2001a"/>
<path d="M352.3 527.7L352.3 548.2" stroke="#e2001a" stroke-width="1.5" fill="none"/><path d="M352.3 553.4L349.6 548.2L355.1 548.2Z" fill="#e2001a"/>
<path d="M352.3 570.6L352.3 591.1" stroke="#e2001a" stroke-width="1.5" fill="none"/><path d="M352.3 596.3L349.6 591.1L355.1 591.1Z" fill="#e2001a"/>
<circle cx="653.3" cy="595.8" r="6.3" fill="#0a9b3e"/><circle cx="653.3" cy="595.8" r="4.6" fill="none" stroke="#d8f0dc" stroke-width="0.9"/><circle cx="653.9" cy="596.2" r="2.5" fill="none" stroke="#d8f0dc" stroke-width="0.8"/><circle cx="654.2" cy="596.4" r="0.8" fill="#d8f0dc"/>
<path id="sp653_595" d="M643.1 600A10.8 10.8 0 0 1 660.5 587.6" fill="none"/><text font-size="5" style="text-anchor:start"><textPath href="#sp653_595">Spiral Stair</textPath></text>
<rect x="665.1" y="478.6" width="60.6" height="62" fill="#a7d7f6" stroke="#111" stroke-width="1"/>
<text x="695.4" y="518.4" font-size="7.8">426</text>
<rect x="665.1" y="540.6" width="60.6" height="63.4" fill="#a7d7f6" stroke="#111" stroke-width="1"/>
<text x="695.4" y="573.1" font-size="7.8">425</text>
<rect x="747.1" y="478.6" width="43.5" height="62" fill="#a7d7f6" stroke="#111" stroke-width="1"/>
<text x="768.9" y="518.4" font-size="7.8">429</text>
<rect x="747.1" y="540.6" width="43.5" height="63.4" fill="#a7d7f6" stroke="#111" stroke-width="1"/>
<text x="768.9" y="573.1" font-size="7.8">430</text>
<rect x="725.7" y="478.6" width="10.7" height="14.8" fill="#fff200" stroke="#111" stroke-width="0.8"/>
<rect x="736.4" y="478.6" width="10.7" height="14.8" fill="#fff200" stroke="#111" stroke-width="0.8"/>
<text font-size="4.6" transform="translate(731 486) rotate(90)" y="1.7">427</text>
<text font-size="4.6" transform="translate(741.7 486) rotate(90)" y="1.7">428</text>
<line x1="665.1" y1="478.6" x2="790.6" y2="478.6" stroke="#111" stroke-width="1.4"/>
<rect x="665.1" y="627.1" width="60.6" height="40.6" fill="#7a63ae" stroke="#111" stroke-width="1"/>
<text x="695.1" y="640.9" font-size="8">424</text>
<text x="695.7" y="652.8" font-size="6.8" style="font-weight:normal;stroke:#111;stroke-width:0.28px;">System</text>
<text x="696.4" y="660.4" font-size="6.8" style="font-weight:normal;stroke:#111;stroke-width:0.28px;">Control Room</text>
<line x1="665.1" y1="604" x2="665.1" y2="627.1" stroke="#b4532a" stroke-width="1.3"/>
<line x1="747.1" y1="604" x2="747.1" y2="627.1" stroke="#b4532a" stroke-width="1.3"/>
<rect x="747.1" y="627.1" width="129.5" height="40.6" fill="#fff" stroke="#111" stroke-width="1"/>
<line x1="762" y1="630" x2="862" y2="666" stroke="#a6a6a6" stroke-width="2.2" stroke-dasharray="2.2 4"/>
<line x1="862" y1="630" x2="757" y2="666" stroke="#a6a6a6" stroke-width="2.2" stroke-dasharray="2.2 4"/>
<rect x="725.7" y="627.1" width="21.4" height="40.6" fill="#10a447" stroke="#00652c" stroke-width="0.8"/>
<line x1="725.7" y1="630.8" x2="747.1" y2="630.8" stroke="#00652c" stroke-width="0.9"/>
<line x1="725.7" y1="634.5" x2="747.1" y2="634.5" stroke="#00652c" stroke-width="0.9"/>
<line x1="725.7" y1="638.2" x2="747.1" y2="638.2" stroke="#00652c" stroke-width="0.9"/>
<line x1="725.7" y1="641.9" x2="747.1" y2="641.9" stroke="#00652c" stroke-width="0.9"/>
<line x1="725.7" y1="645.6" x2="747.1" y2="645.6" stroke="#00652c" stroke-width="0.9"/>
<line x1="725.7" y1="649.2" x2="747.1" y2="649.2" stroke="#00652c" stroke-width="0.9"/>
<line x1="725.7" y1="652.9" x2="747.1" y2="652.9" stroke="#00652c" stroke-width="0.9"/>
<line x1="725.7" y1="656.6" x2="747.1" y2="656.6" stroke="#00652c" stroke-width="0.9"/>
<line x1="725.7" y1="660.3" x2="747.1" y2="660.3" stroke="#00652c" stroke-width="0.9"/>
<line x1="725.7" y1="664" x2="747.1" y2="664" stroke="#00652c" stroke-width="0.9"/>
<line x1="741" y1="627.1" x2="741" y2="667.7" stroke="#00652c" stroke-width="1"/>
<line x1="725.7" y1="626.2" x2="747.1" y2="626.2" stroke="#b4532a" stroke-width="1.4"/>
<rect x="747.1" y="627.6" width="12.9" height="20.1" fill="#1a1a1a"/>
<text font-size="7" style="fill:#fff" transform="translate(753.5 637.7) rotate(-90)" y="2.5">Lift</text>
<text x="811.8" y="654.4" font-size="7.1">Computer Society of India</text>
<rect x="862.9" y="627.6" width="13.7" height="20.1" fill="#1a1a1a"/>
<text font-size="7" style="fill:#fff" transform="translate(869.8 637.7) rotate(-90)" y="2.5">Lift</text>
<rect x="862.9" y="647.7" width="13.7" height="20" fill="#fff" stroke="#111" stroke-width="0.8"/>
<rect x="876.6" y="627.1" width="22" height="40.6" fill="#10a447" stroke="#00652c" stroke-width="0.8"/>
<line x1="876.6" y1="630.8" x2="898.6" y2="630.8" stroke="#00652c" stroke-width="0.9"/>
<line x1="876.6" y1="634.5" x2="898.6" y2="634.5" stroke="#00652c" stroke-width="0.9"/>
<line x1="876.6" y1="638.2" x2="898.6" y2="638.2" stroke="#00652c" stroke-width="0.9"/>
<line x1="876.6" y1="641.9" x2="898.6" y2="641.9" stroke="#00652c" stroke-width="0.9"/>
<line x1="876.6" y1="645.6" x2="898.6" y2="645.6" stroke="#00652c" stroke-width="0.9"/>
<line x1="876.6" y1="649.2" x2="898.6" y2="649.2" stroke="#00652c" stroke-width="0.9"/>
<line x1="876.6" y1="652.9" x2="898.6" y2="652.9" stroke="#00652c" stroke-width="0.9"/>
<line x1="876.6" y1="656.6" x2="898.6" y2="656.6" stroke="#00652c" stroke-width="0.9"/>
<line x1="876.6" y1="660.3" x2="898.6" y2="660.3" stroke="#00652c" stroke-width="0.9"/>
<line x1="876.6" y1="664" x2="898.6" y2="664" stroke="#00652c" stroke-width="0.9"/>
<line x1="892" y1="627.1" x2="892" y2="667.7" stroke="#00652c" stroke-width="1"/>
<line x1="790.6" y1="604" x2="838.6" y2="604" stroke="#111" stroke-width="1.1"/>
<rect x="838.6" y="478.4" width="38.8" height="125.2" fill="#fff" stroke="#111" stroke-width="1.3"/>
<line x1="842" y1="481" x2="874" y2="601" stroke="#a6a6a6" stroke-width="2.2" stroke-dasharray="2.2 4"/>
<line x1="874" y1="481" x2="842" y2="601" stroke="#a6a6a6" stroke-width="2.2" stroke-dasharray="2.2 4"/>
<text font-size="15.4" textLength="106" lengthAdjust="spacingAndGlyphs" transform="translate(859.4 541.5) rotate(-90)" y="5.5">IRMA &amp; UNIFRAX</text>
<rect x="877.4" y="478.4" width="21.6" height="18.4" fill="#fff" stroke="#111" stroke-width="0.9"/>
<line x1="877.4" y1="478.4" x2="899" y2="496.8" stroke="#111" stroke-width="0.7"/>
<line x1="899" y1="478.4" x2="877.4" y2="496.8" stroke="#111" stroke-width="0.7"/>
<rect x="899" y="478.4" width="54.2" height="55" fill="#fff" stroke="#111" stroke-width="1.2"/>
<line x1="902" y1="481" x2="951" y2="531" stroke="#a6a6a6" stroke-width="2.2" stroke-dasharray="2.2 4"/>
<line x1="951" y1="481" x2="902" y2="531" stroke="#a6a6a6" stroke-width="2.2" stroke-dasharray="2.2 4"/>
<text x="925.7" y="504.6" font-size="11.8">Parikh</text>
<text x="925.7" y="518.4" font-size="11.8">Steel</text>
<polygon points="899,533.4 953.2,533.4 953.2,579.4 962.8,579.4 962.8,668 899,668" fill="#d2cdea" stroke="#111" stroke-width="1.2"/>
<line x1="899" y1="496.8" x2="899" y2="585.8" stroke="#111" stroke-width="1"/>
<line x1="899" y1="585.8" x2="899" y2="627" stroke="#b4532a" stroke-width="1.5"/>
<polyline points="899,585.8 937.8,585.8 937.8,622.7" fill="none" stroke="#111" stroke-width="1"/>
<line x1="937.8" y1="630.7" x2="937.8" y2="668" stroke="#111" stroke-width="1"/>
<line x1="946.4" y1="630.7" x2="962.8" y2="630.7" stroke="#111" stroke-width="0.9"/>
<text font-size="7.8" style="font-weight:normal;stroke:#111;stroke-width:0.28px;" transform="translate(911.9 584) rotate(90)" y="2.8">Computer Academy</text>
<text x="927.9" y="610" font-size="7.6">431</text>
<text font-size="8" transform="translate(948.8 596.8) rotate(90)" y="2.9">434</text>
<polygon points="949.2,607.1 949.9,608.9 951.8,609 950.3,610.2 950.8,612 949.2,610.9 947.6,612 948.1,610.2 946.6,609 948.5,608.9" fill="#ffc20e"/>
<polygon points="951.3,636.6 952,638.4 953.9,638.5 952.4,639.7 952.9,641.5 951.3,640.4 949.7,641.5 950.2,639.7 948.7,638.5 950.6,638.4" fill="#ffc20e"/>
<text x="950.1" y="650" font-size="7.6">435</text>
<rect x="900" y="627.6" width="11.3" height="16.7" fill="#d2cdea" stroke="#111" stroke-width="0.8"/>
<rect x="912.3" y="627.6" width="11" height="16.7" fill="#d2cdea" stroke="#111" stroke-width="0.8"/>
<rect x="900" y="646.1" width="23.3" height="8" fill="#d2cdea" stroke="#111" stroke-width="0.8"/>
<text font-size="5" transform="translate(905.6 636) rotate(90)" y="1.8">432</text>
<text font-size="5" transform="translate(917.8 636) rotate(90)" y="1.8">433</text>
<text x="911.6" y="652" font-size="5.4">436</text>
<rect x="900" y="655.3" width="20.5" height="12.4" fill="#fff200" stroke="#111" stroke-width="0.8"/>
<text x="910.2" y="663.6" font-size="5.8">437</text>
<line x1="665" y1="667.7" x2="962.8" y2="667.7" stroke="#111" stroke-width="1.3"/>
<path d="M801.4 615.6L788.1 615.6" stroke="#e2001a" stroke-width="1.5" fill="none"/><path d="M782.9 615.6L788.1 612.9L788.1 618.4Z" fill="#e2001a"/>
<path d="M814.9 615.6L836.2 615.6" stroke="#e2001a" stroke-width="1.5" fill="none"/><path d="M841.4 615.6L836.2 618.4L836.2 612.9Z" fill="#e2001a"/>
<path d="M852.9 615.6L874.2 615.6" stroke="#e2001a" stroke-width="1.5" fill="none"/><path d="M879.4 615.6L874.2 618.4L874.2 612.9Z" fill="#e2001a"/>
<path d="M902.7 614.7L898.6 614.7" stroke="#e2001a" stroke-width="1.5" fill="none"/><path d="M893.4 614.7L898.6 612L898.6 617.5Z" fill="#e2001a"/>
<path d="M815 622.6L775.2 622.6" stroke="#e2001a" stroke-width="1.1" fill="none"/><path d="M770 622.6L775.2 619.9L775.2 625.4Z" fill="#e2001a"/>
<path d="M815 622.6L854.8 622.6" stroke="#e2001a" stroke-width="1.1" fill="none"/><path d="M860 622.6L854.8 625.4L854.8 619.9Z" fill="#e2001a"/>
<path d="M734.3 502L734.3 521.1" stroke="#e2001a" stroke-width="1.5" fill="none"/><path d="M734.3 526.3L731.5 521.1L737 521.1Z" fill="#e2001a"/>
<path d="M734.3 533.4L734.3 559.7" stroke="#e2001a" stroke-width="1.5" fill="none"/><path d="M734.3 564.9L731.5 559.7L737 559.7Z" fill="#e2001a"/>
<path d="M734.3 572L734.3 598.8" stroke="#e2001a" stroke-width="1.5" fill="none"/><path d="M734.3 604L731.5 598.8L737 598.8Z" fill="#e2001a"/>
<path d="M887.9 500.8L887.9 515.3" stroke="#e2001a" stroke-width="1.5" fill="none"/><path d="M887.9 520.5L885.1 515.3L890.6 515.3Z" fill="#e2001a"/>
<path d="M887.9 534L887.9 554.7" stroke="#e2001a" stroke-width="1.5" fill="none"/><path d="M887.9 559.9L885.1 554.7L890.6 554.7Z" fill="#e2001a"/>
<path d="M887.9 572.2L887.9 592.9" stroke="#e2001a" stroke-width="1.5" fill="none"/><path d="M887.9 598.1L885.1 592.9L890.6 592.9Z" fill="#e2001a"/>
<path d="M887.9 611.6L887.9 620" stroke="#e2001a" stroke-width="1.5" fill="none"/><path d="M887.9 625.2L885.1 620L890.6 620Z" fill="#e2001a"/>
<rect x="497.4" y="701.4" width="112.6" height="29.5" fill="#fff200" stroke="#111" stroke-width="1"/>
<text x="553.7" y="720.4" font-size="11.6">THIRD FLOOR</text>
<rect x="300.6" y="710.6" width="40.3" height="72.3" fill="#a7d7f6" stroke="#111" stroke-width="1"/>
<text x="320.8" y="754.6" font-size="8">313</text>
<rect x="370.6" y="710.6" width="39.4" height="72.3" fill="#a7d7f6" stroke="#111" stroke-width="1"/>
<text x="390.3" y="754.6" font-size="8">311</text>
<rect x="300.6" y="782.9" width="40.3" height="49.1" fill="#a7d7f6" stroke="#111" stroke-width="1"/>
<text x="320.8" y="807.8" font-size="8">314</text>
<rect x="370.6" y="782.9" width="39.4" height="49.1" fill="#a7d7f6" stroke="#111" stroke-width="1"/>
<text x="390.3" y="806.7" font-size="8">310</text>
<rect x="340.9" y="710.6" width="29.7" height="39.4" fill="#e0cd74" stroke="#111" stroke-width="1"/>
<text x="354.6" y="721.4" font-size="7.6">312</text>
<text x="355.2" y="730.6" font-size="6.2">Record</text>
<text x="355.2" y="737.6" font-size="6.2">Room</text>
<line x1="300.6" y1="710.6" x2="410" y2="710.6" stroke="#111" stroke-width="1.5"/>
<rect x="410" y="793.4" width="30" height="38.6" fill="#1a1a1a"/>
<text x="425" y="816.4" font-size="10.2" style="fill:#fff;">Lift</text>
<rect x="341.4" y="750.6" width="28.7" height="104.4" fill="#fff"/>
<rect x="341.4" y="832.6" width="438.6" height="22.4" fill="#fff"/>
<line x1="340.9" y1="750" x2="340.9" y2="855.1" stroke="#111" stroke-width="1"/>
<line x1="370.6" y1="750" x2="370.6" y2="832" stroke="#111" stroke-width="1"/>
<line x1="410" y1="832" x2="780" y2="832" stroke="#111" stroke-width="1.2"/>
<line x1="370.6" y1="832" x2="410" y2="832" stroke="#111" stroke-width="1"/>
<polygon points="300.6,832 340.9,832 340.9,855.6 369.4,855.6 369.4,896.3 300.6,896.3" fill="#1b9de2" stroke="#111" stroke-width="1.1"/>
<text x="328" y="869.6" font-size="9.6">OFFICE</text>
<text x="327.1" y="879.9" font-size="7.6">315</text>
<rect x="348.6" y="879" width="10.6" height="16.4" fill="#fff200" stroke="#111" stroke-width="0.7"/>
<text font-size="4" transform="translate(353.9 887.2) rotate(-90)" y="1.4">Toilet</text>
<rect x="369.4" y="855.6" width="61.5" height="40.7" fill="#a7d7f6" stroke="#111" stroke-width="1"/>
<text x="400.1" y="875.6" font-size="8">316</text>
<rect x="430.9" y="855.1" width="21.1" height="41.2" fill="#10a447" stroke="#00652c" stroke-width="0.8"/>
<line x1="430.9" y1="860.2" x2="452" y2="860.2" stroke="#00652c" stroke-width="0.9"/>
<line x1="430.9" y1="865.4" x2="452" y2="865.4" stroke="#00652c" stroke-width="0.9"/>
<line x1="430.9" y1="870.5" x2="452" y2="870.5" stroke="#00652c" stroke-width="0.9"/>
<line x1="430.9" y1="875.7" x2="452" y2="875.7" stroke="#00652c" stroke-width="0.9"/>
<line x1="430.9" y1="880.9" x2="452" y2="880.9" stroke="#00652c" stroke-width="0.9"/>
<line x1="430.9" y1="886" x2="452" y2="886" stroke="#00652c" stroke-width="0.9"/>
<line x1="430.9" y1="891.1" x2="452" y2="891.1" stroke="#00652c" stroke-width="0.9"/>
<line x1="430.9" y1="854.4" x2="452" y2="854.4" stroke="#b4532a" stroke-width="1.4"/>
<rect x="452" y="855.1" width="39.4" height="41.2" fill="#fff200" stroke="#111" stroke-width="1"/>
<text x="478.6" y="875" font-size="8.2">317</text>
<rect x="452" y="855.1" width="15.7" height="21.2" fill="#1a1a1a"/>
<text font-size="7.2" style="fill:#fff" transform="translate(459.9 865.7) rotate(-90)" y="2.6">Lift</text>
<rect x="491.4" y="855.1" width="57.2" height="41.2" fill="#a7d7f6" stroke="#111" stroke-width="1"/>
<text x="520" y="875.4" font-size="8">318</text>
<rect x="548.6" y="855.1" width="62.3" height="41.2" fill="#a7d7f6" stroke="#111" stroke-width="1"/>
<text x="579.8" y="875.4" font-size="8">319</text>
<rect x="610.9" y="855.1" width="53.4" height="41.2" fill="#a7d7f6" stroke="#111" stroke-width="1"/>
<text x="637.6" y="875.4" font-size="8">320</text>
<rect x="664.3" y="855.1" width="60.6" height="41.2" fill="#a7d7f6" stroke="#111" stroke-width="1"/>
<text x="694.6" y="875.4" font-size="8">321</text>
<line x1="408.6" y1="832" x2="408.6" y2="855" stroke="#b4532a" stroke-width="1.3"/>
<line x1="452" y1="832" x2="452" y2="855" stroke="#7a2a2a" stroke-width="1.3"/>
<line x1="300.6" y1="896.3" x2="780" y2="896.3" stroke="#111" stroke-width="1.4"/>
<path d="M363.7 843.4L385.4 843.4" stroke="#e2001a" stroke-width="1.5" fill="none"/><path d="M390.6 843.4L385.4 846.1L385.4 840.6Z" fill="#e2001a"/>
<path d="M485.7 843.4L463.8 843.4" stroke="#e2001a" stroke-width="1.5" fill="none"/><path d="M458.6 843.4L463.8 840.6L463.8 846.1Z" fill="#e2001a"/>
<path d="M528.6 843.4L507.2 843.4" stroke="#e2001a" stroke-width="1.5" fill="none"/><path d="M502 843.4L507.2 840.6L507.2 846.1Z" fill="#e2001a"/>
<path d="M576.6 843.4L555.2 843.4" stroke="#e2001a" stroke-width="1.5" fill="none"/><path d="M550 843.4L555.2 840.6L555.2 846.1Z" fill="#e2001a"/>
<path d="M595.1 843.4L616.8 843.4" stroke="#e2001a" stroke-width="1.5" fill="none"/><path d="M622 843.4L616.8 846.1L616.8 840.6Z" fill="#e2001a"/>
<path d="M641.4 843.4L662.5 843.4" stroke="#e2001a" stroke-width="1.5" fill="none"/><path d="M667.7 843.4L662.5 846.1L662.5 840.6Z" fill="#e2001a"/>
<path d="M687.1 843.4L708.5 843.4" stroke="#e2001a" stroke-width="1.5" fill="none"/><path d="M713.7 843.4L708.5 846.1L708.5 840.6Z" fill="#e2001a"/>
<path d="M764.3 843.4L750.1 843.4" stroke="#e2001a" stroke-width="1.5" fill="none"/><path d="M744.9 843.4L750.1 840.6L750.1 846.1Z" fill="#e2001a"/>
<path d="M437.7 837.6L437.7 847.1" stroke="#e2001a" stroke-width="1.5" fill="none"/><path d="M437.7 852.3L434.9 847.1L440.4 847.1Z" fill="#e2001a"/>
<path d="M352.9 751.4L352.9 760.5" stroke="#e2001a" stroke-width="1.5" fill="none"/><path d="M352.9 765.7L350.1 760.5L355.6 760.5Z" fill="#e2001a"/>
<path d="M352.9 777.1L352.9 799.1" stroke="#e2001a" stroke-width="1.5" fill="none"/><path d="M352.9 804.3L350.1 799.1L355.6 799.1Z" fill="#e2001a"/>
<path d="M352.9 817.1L352.9 839.1" stroke="#e2001a" stroke-width="1.5" fill="none"/><path d="M352.9 844.3L350.1 839.1L355.6 839.1Z" fill="#e2001a"/>
<circle cx="653.4" cy="823.4" r="6.3" fill="#0a9b3e"/><circle cx="653.4" cy="823.4" r="4.6" fill="none" stroke="#d8f0dc" stroke-width="0.9"/><circle cx="654" cy="823.8" r="2.5" fill="none" stroke="#d8f0dc" stroke-width="0.8"/><circle cx="654.3" cy="824" r="0.8" fill="#d8f0dc"/>
<path id="sp653_823" d="M643.2 827.6A10.8 10.8 0 0 1 660.6 815.2" fill="none"/><text font-size="5" style="text-anchor:start"><textPath href="#sp653_823">Spiral Stair</textPath></text>
<rect x="664.3" y="706.6" width="53.7" height="61.1" fill="#a7d7f6" stroke="#111" stroke-width="1"/>
<text x="691.1" y="741" font-size="8">323</text>
<rect x="664.3" y="767.7" width="53.7" height="64.3" fill="#a7d7f6" stroke="#111" stroke-width="1"/>
<text x="691.1" y="801.9" font-size="8">322</text>
<rect x="741.4" y="706.6" width="48.6" height="61.1" fill="#a7d7f6" stroke="#111" stroke-width="1"/>
<text x="765.7" y="742" font-size="8">324</text>
<rect x="741.4" y="767.7" width="48.6" height="64.3" fill="#a7d7f6" stroke="#111" stroke-width="1"/>
<text x="765.7" y="802.7" font-size="8">325</text>
<line x1="664.3" y1="706.6" x2="790" y2="706.6" stroke="#111" stroke-width="1.5"/>
<rect x="724.9" y="855.1" width="21.4" height="41.2" fill="#10a447" stroke="#00652c" stroke-width="0.8"/>
<line x1="724.9" y1="858.8" x2="746.3" y2="858.8" stroke="#00652c" stroke-width="0.9"/>
<line x1="724.9" y1="862.6" x2="746.3" y2="862.6" stroke="#00652c" stroke-width="0.9"/>
<line x1="724.9" y1="866.3" x2="746.3" y2="866.3" stroke="#00652c" stroke-width="0.9"/>
<line x1="724.9" y1="870.1" x2="746.3" y2="870.1" stroke="#00652c" stroke-width="0.9"/>
<line x1="724.9" y1="873.8" x2="746.3" y2="873.8" stroke="#00652c" stroke-width="0.9"/>
<line x1="724.9" y1="877.6" x2="746.3" y2="877.6" stroke="#00652c" stroke-width="0.9"/>
<line x1="724.9" y1="881.3" x2="746.3" y2="881.3" stroke="#00652c" stroke-width="0.9"/>
<line x1="724.9" y1="885.1" x2="746.3" y2="885.1" stroke="#00652c" stroke-width="0.9"/>
<line x1="724.9" y1="888.8" x2="746.3" y2="888.8" stroke="#00652c" stroke-width="0.9"/>
<line x1="724.9" y1="892.6" x2="746.3" y2="892.6" stroke="#00652c" stroke-width="0.9"/>
<line x1="740" y1="855.1" x2="740" y2="896.3" stroke="#00652c" stroke-width="1"/>
<line x1="724.9" y1="854.4" x2="746.3" y2="854.4" stroke="#b4532a" stroke-width="1.4"/>
<rect x="746.3" y="855.1" width="33.7" height="41.2" fill="#fff200" stroke="#111" stroke-width="1"/>
<text x="769.1" y="875" font-size="8.2">326</text>
<rect x="746.3" y="855.6" width="13.1" height="20.7" fill="#1a1a1a"/>
<text font-size="7" style="fill:#fff" transform="translate(752.8 866) rotate(-90)" y="2.5">Lift</text>
<path d="M731.4 721.4L731.4 741.9" stroke="#e2001a" stroke-width="1.5" fill="none"/><path d="M731.4 747.1L728.6 741.9L734.1 741.9Z" fill="#e2001a"/>
<path d="M731.4 759.4L731.4 779.9" stroke="#e2001a" stroke-width="1.5" fill="none"/><path d="M731.4 785.1L728.6 779.9L734.1 779.9Z" fill="#e2001a"/>
<path d="M731.4 798.6L731.4 819.1" stroke="#e2001a" stroke-width="1.5" fill="none"/><path d="M731.4 824.3L728.6 819.1L734.1 819.1Z" fill="#e2001a"/>
<path d="M731.4 838.6L731.4 847.7" stroke="#e2001a" stroke-width="1.5" fill="none"/><path d="M731.4 852.9L728.6 847.7L734.1 847.7Z" fill="#e2001a"/>
<polygon points="838.6,706.6 951.4,706.6 951.4,807.1 962.3,807.1 962.3,895.7 780.9,895.7 780.9,832.6 838.6,832.6" fill="#fff" stroke="#111" stroke-width="1.3"/>
<line x1="840" y1="708.6" x2="960" y2="894.3" stroke="#111" stroke-width="2.3" stroke-dasharray="0.01 3.9" stroke-linecap="round"/>
<line x1="950" y1="708.6" x2="783" y2="893.4" stroke="#111" stroke-width="2.3" stroke-dasharray="0.01 3.9" stroke-linecap="round"/>
<text x="896.3" y="740.9" font-size="20">CISCE</text>
<text x="896.3" y="760.9" font-size="17.2">OFFICE</text>
<rect x="862.3" y="832" width="35.9" height="23" fill="#fff" stroke="#111" stroke-width="1"/>
<rect x="862.3" y="855" width="13.4" height="22" fill="#1a1a1a"/>
<text font-size="7" style="fill:#fff" transform="translate(869 866) rotate(-90)" y="2.5">Lift</text>
<rect x="875.7" y="855" width="22.5" height="40.7" fill="#10a447" stroke="#00652c" stroke-width="0.8"/>
<line x1="875.7" y1="858.7" x2="898.2" y2="858.7" stroke="#00652c" stroke-width="0.9"/>
<line x1="875.7" y1="862.4" x2="898.2" y2="862.4" stroke="#00652c" stroke-width="0.9"/>
<line x1="875.7" y1="866.1" x2="898.2" y2="866.1" stroke="#00652c" stroke-width="0.9"/>
<line x1="875.7" y1="869.8" x2="898.2" y2="869.8" stroke="#00652c" stroke-width="0.9"/>
<line x1="875.7" y1="873.5" x2="898.2" y2="873.5" stroke="#00652c" stroke-width="0.9"/>
<line x1="875.7" y1="877.2" x2="898.2" y2="877.2" stroke="#00652c" stroke-width="0.9"/>
<line x1="875.7" y1="880.9" x2="898.2" y2="880.9" stroke="#00652c" stroke-width="0.9"/>
<line x1="875.7" y1="884.6" x2="898.2" y2="884.6" stroke="#00652c" stroke-width="0.9"/>
<line x1="875.7" y1="888.3" x2="898.2" y2="888.3" stroke="#00652c" stroke-width="0.9"/>
<line x1="875.7" y1="892" x2="898.2" y2="892" stroke="#00652c" stroke-width="0.9"/>
<line x1="891.3" y1="855" x2="891.3" y2="895.7" stroke="#00652c" stroke-width="1"/>
<path d="M865.1 840.6L873.4 840.6" stroke="#e2001a" stroke-width="1.5" fill="none"/><path d="M878.6 840.6L873.4 843.4L873.4 837.9Z" fill="#e2001a"/>
<path d="M882.3 840.6L882.3 848.5" stroke="#e2001a" stroke-width="1.5" fill="none"/><path d="M882.3 853.7L879.5 848.5L885 848.5Z" fill="#e2001a"/>
<rect x="498.6" y="924.4" width="113.4" height="30" fill="#fff200" stroke="#111" stroke-width="1"/>
<text x="555.3" y="943.6" font-size="11.6">SECOND FLOOR</text>
<rect x="300.6" y="935" width="40.3" height="72.9" fill="#a7d7f6" stroke="#111" stroke-width="1"/>
<text x="320.8" y="976.9" font-size="8">213</text>
<rect x="370.6" y="935" width="39.4" height="72" fill="#a7d7f6" stroke="#111" stroke-width="1"/>
<text x="390.3" y="976.9" font-size="8">211</text>
<rect x="300.6" y="1007.9" width="40.3" height="47.7" fill="#a7d7f6" stroke="#111" stroke-width="1"/>
<text x="320.8" y="1034.2" font-size="8">214</text>
<rect x="370.6" y="1007" width="39.4" height="49.4" fill="#a7d7f6" stroke="#111" stroke-width="1"/>
<text x="390.3" y="1034.2" font-size="8">210</text>
<rect x="340.9" y="935" width="29.7" height="28.6" fill="#e0cd74" stroke="#111" stroke-width="1"/>
<text x="355.7" y="942.9" font-size="6.6">Staff</text>
<text x="355.7" y="950.4" font-size="6.6">Room</text>
<text x="355.7" y="959.8" font-size="7.6">212</text>
<line x1="300.6" y1="935" x2="410" y2="935" stroke="#111" stroke-width="1.5"/>
<rect x="410" y="1017.3" width="30" height="39.1" fill="#1a1a1a"/>
<text font-size="10.2" style="fill:#fff" transform="translate(425 1036.8) rotate(180)" y="3.7">Lift</text>
<rect x="341.4" y="964.2" width="28.7" height="115.8" fill="#fff"/>
<rect x="338.5" y="1057" width="326.5" height="23" fill="#fff"/>
<line x1="340.9" y1="963.6" x2="340.9" y2="1055.6" stroke="#111" stroke-width="1"/>
<line x1="370.6" y1="963.6" x2="370.6" y2="1056.4" stroke="#111" stroke-width="1"/>
<line x1="370.6" y1="1056.4" x2="666" y2="1056.4" stroke="#111" stroke-width="1.2"/>
<rect x="300.6" y="1055.6" width="37.4" height="24.5" fill="#4d6496" stroke="#111" stroke-width="1"/>
<text x="319.6" y="1060.6" font-size="3.5" style="fill:#fff;">NSS &amp; Career</text>
<text x="319.6" y="1064.8" font-size="3.5" style="fill:#fff;">Counseling Room</text>
<text x="318" y="1072.8" font-size="7.8">215</text>
<polygon points="332.3,1067.3 333,1069.3 335.2,1069.4 333.5,1070.7 334.1,1072.7 332.3,1071.6 330.5,1072.7 331.1,1070.7 329.4,1069.4 331.6,1069.3" fill="#ffc20e"/>
<rect x="300.6" y="1080.1" width="76.5" height="40.6" fill="#a7d7f6" stroke="#111" stroke-width="1"/>
<text x="350.9" y="1099" font-size="8">216</text>
<rect x="377.1" y="1080.1" width="53.8" height="40.6" fill="#a7d7f6" stroke="#111" stroke-width="1"/>
<text x="404" y="1099.1" font-size="8">217</text>
<rect x="430.9" y="1079.3" width="22.8" height="41.4" fill="#10a447" stroke="#00652c" stroke-width="0.8"/>
<line x1="430.9" y1="1084.5" x2="453.7" y2="1084.5" stroke="#00652c" stroke-width="0.9"/>
<line x1="430.9" y1="1089.7" x2="453.7" y2="1089.7" stroke="#00652c" stroke-width="0.9"/>
<line x1="430.9" y1="1094.8" x2="453.7" y2="1094.8" stroke="#00652c" stroke-width="0.9"/>
<line x1="430.9" y1="1100" x2="453.7" y2="1100" stroke="#00652c" stroke-width="0.9"/>
<line x1="430.9" y1="1105.2" x2="453.7" y2="1105.2" stroke="#00652c" stroke-width="0.9"/>
<line x1="430.9" y1="1110.3" x2="453.7" y2="1110.3" stroke="#00652c" stroke-width="0.9"/>
<line x1="430.9" y1="1115.5" x2="453.7" y2="1115.5" stroke="#00652c" stroke-width="0.9"/>
<line x1="430.9" y1="1078.6" x2="453.7" y2="1078.6" stroke="#e08a3a" stroke-width="1.4"/>
<rect x="453.7" y="1080.1" width="38.3" height="40.6" fill="#fff200" stroke="#111" stroke-width="1"/>
<text x="479.1" y="1099" font-size="8.2">218</text>
<rect x="453.7" y="1080.1" width="14" height="20.6" fill="#1a1a1a"/>
<text font-size="7.2" style="fill:#fff" transform="translate(460.7 1090.4) rotate(-90)" y="2.6">Lift</text>
<rect x="492" y="1080.1" width="60.3" height="40.6" fill="#a7d7f6" stroke="#111" stroke-width="1"/>
<text x="523.7" y="1099" font-size="8">219</text>
<rect x="552.3" y="1080.1" width="42" height="40.6" fill="#a7d7f6" stroke="#111" stroke-width="1"/>
<text x="572.9" y="1099" font-size="8">220</text>
<rect x="594.3" y="1080.1" width="70" height="40.6" fill="#a7d7f6" stroke="#111" stroke-width="1"/>
<text x="627.1" y="1099" font-size="8">221</text>
<line x1="300.6" y1="1120.7" x2="665" y2="1120.7" stroke="#111" stroke-width="1.4"/>
<path d="M366.6 1069L387.7 1069" stroke="#e2001a" stroke-width="1.5" fill="none"/><path d="M392.9 1069L387.7 1071.8L387.7 1066.2Z" fill="#e2001a"/>
<path d="M403.4 1069L424.2 1069" stroke="#e2001a" stroke-width="1.5" fill="none"/><path d="M429.4 1069L424.2 1071.8L424.2 1066.2Z" fill="#e2001a"/>
<path d="M478.6 1069L457.5 1069" stroke="#e2001a" stroke-width="1.5" fill="none"/><path d="M452.3 1069L457.5 1066.2L457.5 1071.8Z" fill="#e2001a"/>
<path d="M520 1069L499.5 1069" stroke="#e2001a" stroke-width="1.5" fill="none"/><path d="M494.3 1069L499.5 1066.2L499.5 1071.8Z" fill="#e2001a"/>
<path d="M563.7 1069L543.2 1069" stroke="#e2001a" stroke-width="1.5" fill="none"/><path d="M538 1069L543.2 1066.2L543.2 1071.8Z" fill="#e2001a"/>
<path d="M607.1 1069L586.1 1069" stroke="#e2001a" stroke-width="1.5" fill="none"/><path d="M580.9 1069L586.1 1066.2L586.1 1071.8Z" fill="#e2001a"/>
<path d="M650 1069L630.1 1069" stroke="#e2001a" stroke-width="1.5" fill="none"/><path d="M624.9 1069L630.1 1066.2L630.1 1071.8Z" fill="#e2001a"/>
<path d="M440.9 1062.6L440.9 1072.1" stroke="#e2001a" stroke-width="1.5" fill="none"/><path d="M440.9 1077.3L438.1 1072.1L443.6 1072.1Z" fill="#e2001a"/>
<path d="M354.3 973.6L354.3 986.4" stroke="#e2001a" stroke-width="1.5" fill="none"/><path d="M354.3 991.6L351.6 986.4L357.1 986.4Z" fill="#e2001a"/>
<path d="M354.3 1004.1L354.3 1024.1" stroke="#e2001a" stroke-width="1.5" fill="none"/><path d="M354.3 1029.3L351.6 1024.1L357.1 1024.1Z" fill="#e2001a"/>
<path d="M354.3 1040.7L354.3 1060.7" stroke="#e2001a" stroke-width="1.5" fill="none"/><path d="M354.3 1065.9L351.6 1060.7L357.1 1060.7Z" fill="#e2001a"/>
<polygon points="354.3,965.2 355,967 356.9,967.1 355.4,968.3 355.9,970.1 354.3,969 352.7,970.1 353.2,968.3 351.7,967.1 353.6,967" fill="#ffc20e"/>
<polygon points="572.3,1073.2 573,1075 574.9,1075.1 573.4,1076.3 573.9,1078.1 572.3,1077 570.7,1078.1 571.2,1076.3 569.7,1075.1 571.6,1075" fill="#ffc20e"/>
<circle cx="653.4" cy="1047.9" r="6.3" fill="#0a9b3e"/><circle cx="653.4" cy="1047.9" r="4.6" fill="none" stroke="#d8f0dc" stroke-width="0.9"/><circle cx="654" cy="1048.3" r="2.5" fill="none" stroke="#d8f0dc" stroke-width="0.8"/><circle cx="654.3" cy="1048.5" r="0.8" fill="#d8f0dc"/>
<path id="sp653_1047" d="M643.2 1052.1A10.8 10.8 0 0 1 660.6 1039.7" fill="none"/><text font-size="5" style="text-anchor:start"><textPath href="#sp653_1047">Spiral Stair</textPath></text>
<rect x="664.3" y="930.7" width="125.7" height="125.7" fill="#fbd2a3" stroke="#111" stroke-width="1.3"/>
<line x1="664.3" y1="980.1" x2="724.3" y2="980.1" stroke="#111" stroke-width="1.6"/>
<text x="693.4" y="953" font-size="10">BOARD</text>
<text x="693.4" y="963.8" font-size="10">ROOM</text>
<text x="692.9" y="1015.8" font-size="11">SOCIETY</text>
<text x="692.9" y="1028" font-size="11">OFFICE</text>
<rect x="664.3" y="1035" width="20" height="21.4" fill="#b99c7c" stroke="#111" stroke-width="0.8"/>
<polygon points="674.3,1038.3 675,1040.1 676.9,1040.2 675.4,1041.4 675.9,1043.2 674.3,1042.1 672.7,1043.2 673.2,1041.4 671.7,1040.2 673.6,1040.1" fill="#ffc20e"/>
<text x="674.3" y="1051.2" font-size="6.8">223</text>
<rect x="725.2" y="960.7" width="20.8" height="95.7" fill="#fff"/>
<line x1="724.6" y1="930.7" x2="724.6" y2="1007.5" stroke="#111" stroke-width="1.6"/>
<line x1="724.6" y1="1018.3" x2="724.6" y2="1056.4" stroke="#111" stroke-width="1.6"/>
<line x1="746.3" y1="960.7" x2="746.3" y2="988.1" stroke="#111" stroke-width="1.6"/>
<line x1="746.3" y1="1002" x2="746.3" y2="1056.4" stroke="#111" stroke-width="1.6"/>
<line x1="746.3" y1="930.7" x2="746.3" y2="960.7" stroke="#111" stroke-width="1"/>
<line x1="724.6" y1="960.7" x2="746.3" y2="960.7" stroke="#111" stroke-width="1.6"/>
<rect x="720.5" y="1007.5" width="5.5" height="10.8" fill="#fff"/>
<rect x="745.3" y="988.5" width="3.6" height="13.1" fill="#fff"/>
<rect x="724.9" y="931.6" width="21.4" height="11.4" fill="#fff200" stroke="#111" stroke-width="0.9"/>
<text x="735.6" y="939.4" font-size="5.8">Toilet</text>
<text font-size="5.7" style="font-weight:normal;" transform="translate(736 966.4) rotate(180)" y="2.1">tion</text>
<text font-size="5.7" style="font-weight:normal;" transform="translate(736 973.4) rotate(180)" y="2.1">Recep</text>
<text font-size="5.7" style="font-weight:normal;" transform="translate(736 983.2) rotate(180)" y="2.1">Space</text>
<text font-size="5.7" style="font-weight:normal;" transform="translate(736 989.2) rotate(180)" y="2.1">Free</text>
<line x1="731.9" y1="979.1" x2="746" y2="979.1" stroke="#111" stroke-width="0.7"/>
<text font-size="14" transform="translate(766.3 987) rotate(90)" y="5">Secretariat</text>
<line x1="746.3" y1="1039.3" x2="790" y2="1039.3" stroke="#111" stroke-width="1"/>
<line x1="768" y1="1039.3" x2="768" y2="1056.4" stroke="#111" stroke-width="1"/>
<rect x="664.3" y="1057" width="8.6" height="23.1" fill="#d6e9d6" stroke="#111" stroke-width="0.8"/>
<text font-size="5.8" transform="translate(668.7 1068.5) rotate(-90)" y="2.1">222</text>
<line x1="685" y1="1056.4" x2="699" y2="1056.4" stroke="#fff" stroke-width="2"/>
<rect x="665.1" y="1080.1" width="48.6" height="40.6" fill="#1b9de2" stroke="#111" stroke-width="1"/>
<text x="688" y="1093.9" font-size="8">224</text>
<polygon points="700.6,1088.5 701.3,1090.3 703.3,1090.4 701.7,1091.7 702.2,1093.6 700.6,1092.5 699,1093.6 699.5,1091.7 697.9,1090.4 699.9,1090.3" fill="#ffc20e"/>
<text x="689.1" y="1106.3" font-size="9.5">Accounts</text>
<text x="689.1" y="1116.8" font-size="9.5">Office</text>
<rect x="713.7" y="1080.1" width="11.2" height="40.6" fill="#fff200" stroke="#111" stroke-width="0.9"/>
<text font-size="6" transform="translate(719.6 1090) rotate(-90)" y="2.2">225</text>
<rect x="724.9" y="1079.3" width="21.4" height="41.4" fill="#10a447" stroke="#00652c" stroke-width="0.8"/>
<line x1="724.9" y1="1083.1" x2="746.3" y2="1083.1" stroke="#00652c" stroke-width="0.9"/>
<line x1="724.9" y1="1086.8" x2="746.3" y2="1086.8" stroke="#00652c" stroke-width="0.9"/>
<line x1="724.9" y1="1090.6" x2="746.3" y2="1090.6" stroke="#00652c" stroke-width="0.9"/>
<line x1="724.9" y1="1094.4" x2="746.3" y2="1094.4" stroke="#00652c" stroke-width="0.9"/>
<line x1="724.9" y1="1098.1" x2="746.3" y2="1098.1" stroke="#00652c" stroke-width="0.9"/>
<line x1="724.9" y1="1101.9" x2="746.3" y2="1101.9" stroke="#00652c" stroke-width="0.9"/>
<line x1="724.9" y1="1105.6" x2="746.3" y2="1105.6" stroke="#00652c" stroke-width="0.9"/>
<line x1="724.9" y1="1109.4" x2="746.3" y2="1109.4" stroke="#00652c" stroke-width="0.9"/>
<line x1="724.9" y1="1113.2" x2="746.3" y2="1113.2" stroke="#00652c" stroke-width="0.9"/>
<line x1="724.9" y1="1116.9" x2="746.3" y2="1116.9" stroke="#00652c" stroke-width="0.9"/>
<line x1="740" y1="1079.3" x2="740" y2="1120.7" stroke="#00652c" stroke-width="1"/>
<line x1="724.9" y1="1078.6" x2="746.3" y2="1078.6" stroke="#b4532a" stroke-width="1.4"/>
<rect x="746.3" y="1080.1" width="25.7" height="40.6" fill="#d6e9d6" stroke="#111" stroke-width="0.9"/>
<rect x="746.3" y="1080.1" width="13.1" height="19.9" fill="#1a1a1a"/>
<text font-size="7" style="fill:#fff" transform="translate(752.8 1090) rotate(-90)" y="2.5">Lift</text>
<polygon points="765.7,1082.5 766.4,1084.3 768.3,1084.4 766.8,1085.6 767.3,1087.4 765.7,1086.3 764.1,1087.4 764.6,1085.6 763.1,1084.4 765,1084.3" fill="#ffc20e"/>
<text font-size="5.8" transform="translate(765.9 1096) rotate(-90)" y="2.1">226</text>
<rect x="772" y="1057" width="90.9" height="63.7" fill="#ae4486" stroke="#111" stroke-width="1"/>
<polygon points="785.7,1062.8 786.4,1064.6 788.4,1064.7 786.8,1066 787.3,1067.9 785.7,1066.8 784.1,1067.9 784.6,1066 783,1064.7 785,1064.6" fill="#ffc20e"/>
<text x="821.8" y="1067.6" font-size="9.4">Auditorium</text>
<text x="821.4" y="1077.2" font-size="9">227</text>
<rect x="776.6" y="1083.6" width="11.4" height="28" rx="2" fill="#1a1a1a"/>
<line x1="791.4" y1="1084.6" x2="791.4" y2="1110" stroke="#111" stroke-width="1.8" stroke-dasharray="1.6 1.5"/>
<line x1="779.8" y1="1081.3" x2="784.8" y2="1081.3" stroke="#111" stroke-width="1.3" stroke-dasharray="1.4 1.4"/>
<line x1="802.6" y1="1084.6" x2="802.6" y2="1102.6" stroke="#111" stroke-width="1.8" stroke-dasharray="1.7 1.15"/>
<line x1="806.7" y1="1084.6" x2="806.7" y2="1102.6" stroke="#111" stroke-width="1.8" stroke-dasharray="1.7 1.15"/>
<line x1="810.8" y1="1084.6" x2="810.8" y2="1102.6" stroke="#111" stroke-width="1.8" stroke-dasharray="1.7 1.15"/>
<line x1="814.9" y1="1084.6" x2="814.9" y2="1102.6" stroke="#111" stroke-width="1.8" stroke-dasharray="1.7 1.15"/>
<line x1="819" y1="1084.6" x2="819" y2="1102.6" stroke="#111" stroke-width="1.8" stroke-dasharray="1.7 1.15"/>
<line x1="823.1" y1="1084.6" x2="823.1" y2="1102.6" stroke="#111" stroke-width="1.8" stroke-dasharray="1.7 1.15"/>
<line x1="827.2" y1="1084.6" x2="827.2" y2="1102.6" stroke="#111" stroke-width="1.8" stroke-dasharray="1.7 1.15"/>
<line x1="831.3" y1="1084.6" x2="831.3" y2="1102.6" stroke="#111" stroke-width="1.8" stroke-dasharray="1.7 1.15"/>
<line x1="835.4" y1="1084.6" x2="835.4" y2="1102.6" stroke="#111" stroke-width="1.8" stroke-dasharray="1.7 1.15"/>
<rect x="854.9" y="1057" width="8" height="22.3" fill="#ae4486" stroke="#111" stroke-width="0.8"/>
<text font-size="5.6" transform="translate(859 1068) rotate(-90)" y="2">228</text>
<rect x="850" y="1080" width="12.9" height="20.7" fill="#ae4486" stroke="#111" stroke-width="0.9"/>
<text font-size="6.4" transform="translate(856.6 1090.4) rotate(-90)" y="2.3">229</text>
<rect x="862.9" y="1057" width="35.1" height="23" fill="#fff" stroke="#111" stroke-width="1"/>
<rect x="862.9" y="1080" width="12.8" height="20.7" fill="#1a1a1a"/>
<text font-size="7" style="fill:#fff" transform="translate(869.3 1090.3) rotate(-90)" y="2.5">Lift</text>
<rect x="862.9" y="1102" width="12.8" height="18.7" fill="#fff200" stroke="#111" stroke-width="0.9"/>
<text font-size="6.8" transform="translate(869.4 1111.4) rotate(-90)" y="2.4">230</text>
<rect x="875.7" y="1083.6" width="22.3" height="37.1" fill="#10a447" stroke="#00652c" stroke-width="0.8"/>
<line x1="875.7" y1="1087.3" x2="898" y2="1087.3" stroke="#00652c" stroke-width="0.9"/>
<line x1="875.7" y1="1091" x2="898" y2="1091" stroke="#00652c" stroke-width="0.9"/>
<line x1="875.7" y1="1094.7" x2="898" y2="1094.7" stroke="#00652c" stroke-width="0.9"/>
<line x1="875.7" y1="1098.4" x2="898" y2="1098.4" stroke="#00652c" stroke-width="0.9"/>
<line x1="875.7" y1="1102.2" x2="898" y2="1102.2" stroke="#00652c" stroke-width="0.9"/>
<line x1="875.7" y1="1105.9" x2="898" y2="1105.9" stroke="#00652c" stroke-width="0.9"/>
<line x1="875.7" y1="1109.6" x2="898" y2="1109.6" stroke="#00652c" stroke-width="0.9"/>
<line x1="875.7" y1="1113.3" x2="898" y2="1113.3" stroke="#00652c" stroke-width="0.9"/>
<line x1="875.7" y1="1117" x2="898" y2="1117" stroke="#00652c" stroke-width="0.9"/>
<line x1="891" y1="1083.6" x2="891" y2="1120.7" stroke="#00652c" stroke-width="1"/>
<line x1="875.7" y1="1082.6" x2="898" y2="1082.6" stroke="#b4532a" stroke-width="1.2"/>
<polygon points="838.6,929.9 951.4,929.9 951.4,1031.6 962.3,1031.6 962.3,1120.7 898,1120.7 898,1057 838.6,1057" fill="#fcf6b4" stroke="#111" stroke-width="1.2"/>
<text x="894.9" y="967.9" font-size="9">231</text>
<text x="894.9" y="984.1" font-size="9.4">SKILL</text>
<text x="894.9" y="995.9" font-size="9.4">DEVELOPMENT</text>
<text x="894.9" y="1007.9" font-size="9.4">AND</text>
<text x="894.9" y="1019.9" font-size="9.4">INCUBATION CENTRE</text>
<line x1="665" y1="1120.7" x2="962.3" y2="1120.7" stroke="#111" stroke-width="1.3"/>
<path d="M677.1 1066.4L691.4 1066.4" stroke="#e2001a" stroke-width="1.5" fill="none"/><path d="M696.6 1066.4L691.4 1069.2L691.4 1063.7Z" fill="#e2001a"/>
<path d="M703.4 1066.4L718.2 1066.4" stroke="#e2001a" stroke-width="1.5" fill="none"/><path d="M723.4 1066.4L718.2 1069.2L718.2 1063.7Z" fill="#e2001a"/>
<path d="M764.9 1066.4L750.3 1066.4" stroke="#e2001a" stroke-width="1.5" fill="none"/><path d="M745.1 1066.4L750.3 1063.7L750.3 1069.2Z" fill="#e2001a"/>
<path d="M735.2 1000.8L735.2 1014.8" stroke="#e2001a" stroke-width="1.5" fill="none"/><path d="M735.2 1020L732.5 1014.8L738 1014.8Z" fill="#e2001a"/>
<path d="M735.2 1032.2L735.2 1046.6" stroke="#e2001a" stroke-width="1.5" fill="none"/><path d="M735.2 1051.8L732.5 1046.6L738 1046.6Z" fill="#e2001a"/>
<path d="M735.2 1063.6L735.2 1073.2" stroke="#e2001a" stroke-width="1.5" fill="none"/><path d="M735.2 1078.4L732.5 1073.2L738 1073.2Z" fill="#e2001a"/>
<path d="M867 1066.4L874.2 1066.4" stroke="#e2001a" stroke-width="1.5" fill="none"/><path d="M879.4 1066.4L874.2 1069.2L874.2 1063.7Z" fill="#e2001a"/>
<path d="M883.4 1067.9L883.4 1076.4" stroke="#e2001a" stroke-width="1.5" fill="none"/><path d="M883.4 1081.6L880.6 1076.4L886.1 1076.4Z" fill="#e2001a"/>
<polygon points="865.7,1064.4 866.2,1065.7 867.6,1065.8 866.5,1066.7 866.9,1068 865.7,1067.2 864.5,1068 864.9,1066.7 863.8,1065.8 865.2,1065.7" fill="#ffc20e"/>
<polygon points="677.1,1065.3 677.6,1066.6 679,1066.7 677.9,1067.6 678.3,1068.9 677.1,1068.1 675.9,1068.9 676.3,1067.6 675.2,1066.7 676.6,1066.6" fill="#ffc20e"/>
<rect x="497.7" y="1156.4" width="113.2" height="29.5" fill="#fff200" stroke="#111" stroke-width="1"/>
<text x="554.3" y="1175.4" font-size="11.6">FIRST FLOOR</text>
<rect x="300" y="1165.9" width="40" height="40.5" fill="#a7d7f6" stroke="#111" stroke-width="1"/>
<text x="320" y="1189" font-size="8">115</text>
<rect x="300" y="1206.4" width="40" height="40.9" fill="#a7d7f6" stroke="#111" stroke-width="1"/>
<text x="320" y="1229.7" font-size="8">116</text>
<rect x="300" y="1247.3" width="40" height="34.3" fill="#a7d7f6" stroke="#111" stroke-width="1"/>
<text x="320" y="1266.3" font-size="8">117</text>
<rect x="340" y="1165.9" width="29.4" height="21.4" fill="#a7b3bc" stroke="#111" stroke-width="1"/>
<text x="354.9" y="1178.5" font-size="8">114</text>
<polygon points="354.9,1181.4 355.6,1183.2 357.5,1183.3 356,1184.5 356.5,1186.3 354.9,1185.2 353.3,1186.3 353.8,1184.5 352.3,1183.3 354.2,1183.2" fill="#ffc20e"/>
<rect x="369.4" y="1165.9" width="40" height="40.5" fill="#a7d7f6" stroke="#111" stroke-width="1"/>
<text x="389.4" y="1189" font-size="8">113</text>
<rect x="369.4" y="1206.4" width="40" height="40.9" fill="#a7d7f6" stroke="#111" stroke-width="1"/>
<text x="389.4" y="1229.7" font-size="8">112</text>
<rect x="369.4" y="1247.3" width="40" height="25.4" fill="#a7d7f6" stroke="#111" stroke-width="1"/>
<text x="389.4" y="1262.9" font-size="8">111</text>
<rect x="369.4" y="1272.7" width="40" height="14.3" fill="#e2001a" stroke="#111" stroke-width="1"/>
<text x="390.6" y="1282.8" font-size="8">110</text>
<polygon points="375.1,1277.9 375.8,1279.7 377.8,1279.8 376.2,1281.1 376.7,1283 375.1,1281.9 373.5,1283 374,1281.1 372.4,1279.8 374.4,1279.7" fill="#ffc20e"/>
<line x1="300" y1="1165.9" x2="409.4" y2="1165.9" stroke="#111" stroke-width="1.5"/>
<rect x="409.4" y="1248.4" width="29.7" height="38.6" fill="#1a1a1a"/>
<text x="424.2" y="1271.4" font-size="10.2" style="fill:#fff;">Lift</text>
<rect x="340.6" y="1187.9" width="28.3" height="122.1" fill="#fff"/>
<rect x="341.4" y="1287.6" width="440.6" height="22.9" fill="#fff"/>
<line x1="340" y1="1187.3" x2="340" y2="1281.6" stroke="#111" stroke-width="1"/>
<line x1="369.4" y1="1187.3" x2="369.4" y2="1287" stroke="#111" stroke-width="1"/>
<line x1="409.4" y1="1287" x2="782" y2="1287" stroke="#111" stroke-width="1.2"/>
<polygon points="300,1281.6 340.9,1281.6 340.9,1310.7 357.1,1310.7 357.1,1351.3 300,1351.3" fill="#e0cd74" stroke="#111" stroke-width="1.1"/>
<text x="326.3" y="1321.2" font-size="9.8">Staff</text>
<text x="326.3" y="1330.4" font-size="9.8">Room</text>
<text x="326.3" y="1341.2" font-size="7.6">118</text>
<polygon points="346.3,1303.7 347,1305.5 348.9,1305.6 347.4,1306.8 347.9,1308.6 346.3,1307.5 344.7,1308.6 345.2,1306.8 343.7,1305.6 345.6,1305.5" fill="#ffc20e"/>
<rect x="346.6" y="1334" width="10" height="16.4" fill="#fff200" stroke="#111" stroke-width="0.7"/>
<text font-size="4" transform="translate(351.6 1342.2) rotate(-90)" y="1.4">Toilet</text>
<rect x="357.1" y="1310.7" width="23.8" height="40.6" fill="#1b9de2" stroke="#111" stroke-width="1"/>
<text x="368" y="1324.8" font-size="8">119</text>
<rect x="380.9" y="1310.7" width="32" height="40.6" fill="#1b9de2" stroke="#111" stroke-width="1"/>
<rect x="392.9" y="1310.7" width="20" height="17.2" fill="#1b9de2" stroke="#111" stroke-width="0.9"/>
<polygon points="402.3,1312.3 403,1314.1 404.9,1314.2 403.4,1315.4 403.9,1317.2 402.3,1316.1 400.7,1317.2 401.2,1315.4 399.7,1314.2 401.6,1314.1" fill="#ffc20e"/>
<text x="402.3" y="1325.4" font-size="8">121</text>
<polygon points="390.6,1335.6 391.3,1337.4 393.3,1337.5 391.7,1338.8 392.2,1340.7 390.6,1339.6 389,1340.7 389.5,1338.8 387.9,1337.5 389.9,1337.4" fill="#ffc20e"/>
<text x="403.2" y="1341.2" font-size="8">120</text>
<rect x="412.9" y="1310.7" width="9.1" height="40.6" fill="#fff200" stroke="#111" stroke-width="0.8"/>
<rect x="422" y="1310.7" width="8.6" height="40.6" fill="#fff200" stroke="#111" stroke-width="0.8"/>
<text font-size="6.2" transform="translate(417.7 1320.4) rotate(-90)" y="2.2">122</text>
<text font-size="6.2" transform="translate(426.5 1320.4) rotate(-90)" y="2.2">123</text>
<rect x="430.6" y="1309.3" width="21.4" height="42" fill="#10a447" stroke="#00652c" stroke-width="0.8"/>
<line x1="430.6" y1="1314.5" x2="452" y2="1314.5" stroke="#00652c" stroke-width="0.9"/>
<line x1="430.6" y1="1319.8" x2="452" y2="1319.8" stroke="#00652c" stroke-width="0.9"/>
<line x1="430.6" y1="1325" x2="452" y2="1325" stroke="#00652c" stroke-width="0.9"/>
<line x1="430.6" y1="1330.3" x2="452" y2="1330.3" stroke="#00652c" stroke-width="0.9"/>
<line x1="430.6" y1="1335.5" x2="452" y2="1335.5" stroke="#00652c" stroke-width="0.9"/>
<line x1="430.6" y1="1340.8" x2="452" y2="1340.8" stroke="#00652c" stroke-width="0.9"/>
<line x1="430.6" y1="1346" x2="452" y2="1346" stroke="#00652c" stroke-width="0.9"/>
<line x1="430.6" y1="1308.6" x2="452" y2="1308.6" stroke="#b4532a" stroke-width="1.4"/>
<rect x="452" y="1310.7" width="39.4" height="40.6" fill="#fff200" stroke="#111" stroke-width="1"/>
<text x="477.1" y="1324.8" font-size="8.2">124</text>
<rect x="452" y="1310.7" width="15.1" height="20.6" fill="#1a1a1a"/>
<text font-size="7.2" style="fill:#fff" transform="translate(459.6 1321) rotate(-90)" y="2.6">Lift</text>
<rect x="491.4" y="1310.7" width="57.2" height="40.6" fill="#a7d7f6" stroke="#111" stroke-width="1"/>
<text x="520" y="1324.8" font-size="8">125</text>
<rect x="548.6" y="1310.7" width="62.3" height="40.6" fill="#a7d7f6" stroke="#111" stroke-width="1"/>
<text x="579.4" y="1324.8" font-size="8">126</text>
<rect x="610.9" y="1310.7" width="53.4" height="40.6" fill="#1b9de2" stroke="#111" stroke-width="1"/>
<text x="637.1" y="1324.8" font-size="8">127</text>
<rect x="664.3" y="1310.7" width="60.6" height="40.6" fill="#a7d7f6" stroke="#111" stroke-width="1"/>
<text x="700.9" y="1324.8" font-size="8">128</text>
<polygon points="637.1,1328.7 637.8,1330.5 639.8,1330.6 638.2,1331.9 638.7,1333.8 637.1,1332.7 635.5,1333.8 636,1331.9 634.4,1330.6 636.4,1330.5" fill="#ffc20e"/>
<line x1="410" y1="1287" x2="410" y2="1310.7" stroke="#b4532a" stroke-width="1.3"/>
<line x1="663.7" y1="1287" x2="663.7" y2="1310.7" stroke="#b4532a" stroke-width="1.3"/>
<line x1="300" y1="1351.3" x2="782" y2="1351.3" stroke="#111" stroke-width="1.4"/>
<path d="M364.9 1297.9L385.4 1297.9" stroke="#e2001a" stroke-width="1.5" fill="none"/><path d="M390.6 1297.9L385.4 1300.7L385.4 1295.2Z" fill="#e2001a"/>
<path d="M401.4 1297.9L422.5 1297.9" stroke="#e2001a" stroke-width="1.5" fill="none"/><path d="M427.7 1297.9L422.5 1300.7L422.5 1295.2Z" fill="#e2001a"/>
<path d="M482 1297.9L460.9 1297.9" stroke="#e2001a" stroke-width="1.5" fill="none"/><path d="M455.7 1297.9L460.9 1295.2L460.9 1300.7Z" fill="#e2001a"/>
<path d="M522 1297.9L500.9 1297.9" stroke="#e2001a" stroke-width="1.5" fill="none"/><path d="M495.7 1297.9L500.9 1295.2L500.9 1300.7Z" fill="#e2001a"/>
<path d="M562 1297.9L540.9 1297.9" stroke="#e2001a" stroke-width="1.5" fill="none"/><path d="M535.7 1297.9L540.9 1295.2L540.9 1300.7Z" fill="#e2001a"/>
<path d="M604.3 1297.9L583.8 1297.9" stroke="#e2001a" stroke-width="1.5" fill="none"/><path d="M578.6 1297.9L583.8 1295.2L583.8 1300.7Z" fill="#e2001a"/>
<path d="M645.7 1297.9L624.6 1297.9" stroke="#e2001a" stroke-width="1.5" fill="none"/><path d="M619.4 1297.9L624.6 1295.2L624.6 1300.7Z" fill="#e2001a"/>
<path d="M670 1297.9L690.5 1297.9" stroke="#e2001a" stroke-width="1.5" fill="none"/><path d="M695.7 1297.9L690.5 1300.7L690.5 1295.2Z" fill="#e2001a"/>
<path d="M706.3 1297.9L726.8 1297.9" stroke="#e2001a" stroke-width="1.5" fill="none"/><path d="M732 1297.9L726.8 1300.7L726.8 1295.2Z" fill="#e2001a"/>
<path d="M772.9 1297.9L751.5 1297.9" stroke="#e2001a" stroke-width="1.5" fill="none"/><path d="M746.3 1297.9L751.5 1295.2L751.5 1300.7Z" fill="#e2001a"/>
<path d="M440.9 1293.4L440.9 1303.2" stroke="#e2001a" stroke-width="1.5" fill="none"/><path d="M440.9 1308.4L438.1 1303.2L443.6 1303.2Z" fill="#e2001a"/>
<path d="M352 1194.1L352 1214.7" stroke="#e2001a" stroke-width="1.5" fill="none"/><path d="M352 1219.9L349.2 1214.7L354.8 1214.7Z" fill="#e2001a"/>
<path d="M352 1233L352 1252.7" stroke="#e2001a" stroke-width="1.5" fill="none"/><path d="M352 1257.9L349.2 1252.7L354.8 1252.7Z" fill="#e2001a"/>
<path d="M352 1269.9L352 1288.9" stroke="#e2001a" stroke-width="1.5" fill="none"/><path d="M352 1294.1L349.2 1288.9L354.8 1288.9Z" fill="#e2001a"/>
<circle cx="653.4" cy="1278.4" r="6.3" fill="#0a9b3e"/><circle cx="653.4" cy="1278.4" r="4.6" fill="none" stroke="#d8f0dc" stroke-width="0.9"/><circle cx="654" cy="1278.8" r="2.5" fill="none" stroke="#d8f0dc" stroke-width="0.8"/><circle cx="654.3" cy="1279" r="0.8" fill="#d8f0dc"/>
<path id="sp653_1278" d="M643.2 1282.6A10.8 10.8 0 0 1 660.6 1270.2" fill="none"/><text font-size="5" style="text-anchor:start"><textPath href="#sp653_1278">Spiral Stair</textPath></text>
<rect x="664.3" y="1161.6" width="54.3" height="59.7" fill="#a7d7f6" stroke="#111" stroke-width="1"/>
<text x="691.5" y="1194" font-size="7">129B</text>
<rect x="664.3" y="1221.3" width="54.3" height="65.7" fill="#a7d7f6" stroke="#111" stroke-width="1"/>
<text x="691.5" y="1256.7" font-size="7">129A</text>
<rect x="742" y="1161.6" width="48.6" height="59.7" fill="#a7d7f6" stroke="#111" stroke-width="1"/>
<text x="766.3" y="1194" font-size="7">129C</text>
<rect x="742" y="1221.3" width="48.6" height="65.7" fill="#a7d7f6" stroke="#111" stroke-width="1"/>
<text x="766.3" y="1256.7" font-size="7">129D</text>
<line x1="664.3" y1="1161.6" x2="790.6" y2="1161.6" stroke="#111" stroke-width="1.5"/>
<rect x="724.9" y="1309.3" width="21.4" height="42" fill="#10a447" stroke="#00652c" stroke-width="0.8"/>
<line x1="724.9" y1="1313.1" x2="746.3" y2="1313.1" stroke="#00652c" stroke-width="0.9"/>
<line x1="724.9" y1="1316.9" x2="746.3" y2="1316.9" stroke="#00652c" stroke-width="0.9"/>
<line x1="724.9" y1="1320.8" x2="746.3" y2="1320.8" stroke="#00652c" stroke-width="0.9"/>
<line x1="724.9" y1="1324.6" x2="746.3" y2="1324.6" stroke="#00652c" stroke-width="0.9"/>
<line x1="724.9" y1="1328.4" x2="746.3" y2="1328.4" stroke="#00652c" stroke-width="0.9"/>
<line x1="724.9" y1="1332.2" x2="746.3" y2="1332.2" stroke="#00652c" stroke-width="0.9"/>
<line x1="724.9" y1="1336" x2="746.3" y2="1336" stroke="#00652c" stroke-width="0.9"/>
<line x1="724.9" y1="1339.8" x2="746.3" y2="1339.8" stroke="#00652c" stroke-width="0.9"/>
<line x1="724.9" y1="1343.7" x2="746.3" y2="1343.7" stroke="#00652c" stroke-width="0.9"/>
<line x1="724.9" y1="1347.5" x2="746.3" y2="1347.5" stroke="#00652c" stroke-width="0.9"/>
<line x1="740" y1="1309.3" x2="740" y2="1351.3" stroke="#00652c" stroke-width="1"/>
<line x1="724.9" y1="1308.6" x2="746.3" y2="1308.6" stroke="#b4532a" stroke-width="1.4"/>
<rect x="746.3" y="1310.7" width="35.7" height="40.6" fill="#fff200" stroke="#111" stroke-width="1"/>
<text x="770" y="1324.8" font-size="8.2">130</text>
<rect x="746.3" y="1310.7" width="13.1" height="20" fill="#1a1a1a"/>
<text font-size="7" style="fill:#fff" transform="translate(752.8 1320.7) rotate(-90)" y="2.5">Lift</text>
<path d="M732.3 1187.9L732.3 1195.5" stroke="#e2001a" stroke-width="1.5" fill="none"/><path d="M732.3 1200.7L729.5 1195.5L735 1195.5Z" fill="#e2001a"/>
<path d="M732.3 1225L732.3 1232.7" stroke="#e2001a" stroke-width="1.5" fill="none"/><path d="M732.3 1237.9L729.5 1232.7L735 1232.7Z" fill="#e2001a"/>
<path d="M732.3 1265L732.3 1273.2" stroke="#e2001a" stroke-width="1.5" fill="none"/><path d="M732.3 1278.4L729.5 1273.2L735 1273.2Z" fill="#e2001a"/>
<path d="M732.3 1293.6L732.3 1303.2" stroke="#e2001a" stroke-width="1.5" fill="none"/><path d="M732.3 1308.4L729.5 1303.2L735 1303.2Z" fill="#e2001a"/>
<polygon points="838.6,1161.6 951.4,1161.6 951.4,1262.7 962.3,1262.7 962.3,1351.3 782.9,1351.3 782.9,1287.9 838.6,1287.9" fill="#fff" stroke="#111" stroke-width="1.3"/>
<polygon points="844.3,1167.9 847.1,1170.7 844.3,1173.5 841.5,1170.7" fill="#111"/>
<polygon points="853.9,1182.7 856.7,1185.5 853.9,1188.3 851.1,1185.5" fill="#111"/>
<polygon points="863.6,1197.5 866.4,1200.3 863.6,1203.1 860.8,1200.3" fill="#111"/>
<polygon points="873.2,1212.3 876,1215.1 873.2,1217.9 870.4,1215.1" fill="#111"/>
<polygon points="882.9,1227.1 885.7,1229.9 882.9,1232.7 880.1,1229.9" fill="#111"/>
<polygon points="892.5,1241.9 895.3,1244.7 892.5,1247.5 889.7,1244.7" fill="#111"/>
<polygon points="902.1,1256.7 904.9,1259.5 902.1,1262.3 899.3,1259.5" fill="#111"/>
<polygon points="911.8,1271.5 914.6,1274.3 911.8,1277.1 909,1274.3" fill="#111"/>
<polygon points="921.4,1286.3 924.2,1289.1 921.4,1291.9 918.6,1289.1" fill="#111"/>
<polygon points="931.1,1301.1 933.9,1303.9 931.1,1306.7 928.3,1303.9" fill="#111"/>
<polygon points="940.7,1315.9 943.5,1318.7 940.7,1321.5 937.9,1318.7" fill="#111"/>
<polygon points="950.3,1330.7 953.1,1333.5 950.3,1336.3 947.5,1333.5" fill="#111"/>
<polygon points="960,1345.5 962.8,1348.3 960,1351.1 957.2,1348.3" fill="#111"/>
<polygon points="945.7,1168 947,1169.3 945.7,1170.6 944.4,1169.3" fill="#111"/>
<polygon points="934.4,1179.8 937.2,1182.6 934.4,1185.4 931.6,1182.6" fill="#111"/>
<polygon points="923.1,1193.1 925.9,1195.9 923.1,1198.7 920.3,1195.9" fill="#111"/>
<polygon points="911.7,1206.4 914.5,1209.2 911.7,1212 908.9,1209.2" fill="#111"/>
<polygon points="900.4,1219.7 903.2,1222.5 900.4,1225.3 897.6,1222.5" fill="#111"/>
<polygon points="889.1,1233 891.9,1235.8 889.1,1238.5 886.3,1235.8" fill="#111"/>
<polygon points="877.8,1246.2 880.6,1249 877.8,1251.8 875,1249" fill="#111"/>
<polygon points="866.5,1259.5 869.3,1262.3 866.5,1265.1 863.7,1262.3" fill="#111"/>
<polygon points="855.1,1272.8 857.9,1275.6 855.1,1278.4 852.3,1275.6" fill="#111"/>
<polygon points="843.8,1286.1 846.6,1288.9 843.8,1291.7 841,1288.9" fill="#111"/>
<polygon points="832.5,1299.4 835.3,1302.2 832.5,1305 829.7,1302.2" fill="#111"/>
<polygon points="821.2,1312.7 824,1315.5 821.2,1318.3 818.4,1315.5" fill="#111"/>
<polygon points="809.9,1326 812.7,1328.8 809.9,1331.6 807.1,1328.8" fill="#111"/>
<polygon points="798.5,1339.3 801.3,1342.1 798.5,1344.9 795.7,1342.1" fill="#111"/>
<polygon points="794.3,1289.1 795.9,1290.7 794.3,1292.3 792.7,1290.7" fill="#111"/>
<polygon points="804.4,1296.6 806,1298.2 804.4,1299.8 802.8,1298.2" fill="#111"/>
<polygon points="814.5,1304 816.1,1305.6 814.5,1307.2 812.9,1305.6" fill="#111"/>
<polygon points="824.6,1311.5 826.2,1313.1 824.6,1314.7 823,1313.1" fill="#111"/>
<polygon points="834.7,1319 836.3,1320.6 834.7,1322.2 833.1,1320.6" fill="#111"/>
<polygon points="844.8,1326.5 846.4,1328 844.8,1329.6 843.2,1328" fill="#111"/>
<polygon points="854.9,1333.9 856.5,1335.5 854.9,1337.1 853.3,1335.5" fill="#111"/>
<polygon points="865,1341.4 866.6,1343 865,1344.6 863.4,1343" fill="#111"/>
<text x="895.7" y="1213.4" font-size="13.4">UCO BANK</text>
<rect x="862.3" y="1287.9" width="35.9" height="22.1" fill="#fff" stroke="#111" stroke-width="1"/>
<rect x="862.3" y="1310" width="13.4" height="22" fill="#1a1a1a"/>
<text font-size="7" style="fill:#fff" transform="translate(869 1321) rotate(-90)" y="2.5">Lift</text>
<rect x="875.7" y="1310" width="22.5" height="41.3" fill="#10a447" stroke="#00652c" stroke-width="0.8"/>
<line x1="875.7" y1="1313.8" x2="898.2" y2="1313.8" stroke="#00652c" stroke-width="0.9"/>
<line x1="875.7" y1="1317.5" x2="898.2" y2="1317.5" stroke="#00652c" stroke-width="0.9"/>
<line x1="875.7" y1="1321.3" x2="898.2" y2="1321.3" stroke="#00652c" stroke-width="0.9"/>
<line x1="875.7" y1="1325" x2="898.2" y2="1325" stroke="#00652c" stroke-width="0.9"/>
<line x1="875.7" y1="1328.8" x2="898.2" y2="1328.8" stroke="#00652c" stroke-width="0.9"/>
<line x1="875.7" y1="1332.5" x2="898.2" y2="1332.5" stroke="#00652c" stroke-width="0.9"/>
<line x1="875.7" y1="1336.3" x2="898.2" y2="1336.3" stroke="#00652c" stroke-width="0.9"/>
<line x1="875.7" y1="1340" x2="898.2" y2="1340" stroke="#00652c" stroke-width="0.9"/>
<line x1="875.7" y1="1343.8" x2="898.2" y2="1343.8" stroke="#00652c" stroke-width="0.9"/>
<line x1="875.7" y1="1347.5" x2="898.2" y2="1347.5" stroke="#00652c" stroke-width="0.9"/>
<line x1="891.3" y1="1310" x2="891.3" y2="1351.3" stroke="#00652c" stroke-width="1"/>
<path d="M884.9 1295L884.9 1303.2" stroke="#e2001a" stroke-width="1.5" fill="none"/><path d="M884.9 1308.4L882.1 1303.2L887.6 1303.2Z" fill="#e2001a"/>
<rect x="497.7" y="1379.4" width="112.9" height="29.2" fill="#fff200" stroke="#111" stroke-width="1"/>
<text x="554.1" y="1398.2" font-size="11.6">GROUND FLOOR</text>
<polyline points="282.4,1501.7 282.4,1430 740.5,1430 740.5,1438.3 961.6,1438.3 961.6,1459" fill="none" stroke="#111" stroke-width="1.3"/>
<line x1="282.4" y1="1501.7" x2="375.7" y2="1501.7" stroke="#111" stroke-width="1.3"/>
<rect x="283.6" y="1431.4" width="16.4" height="6" fill="#fff200" stroke="#c9b800" stroke-width="0.5"/>
<rect x="282.9" y="1450.7" width="15.4" height="6.4" fill="#fff200" stroke="#111" stroke-width="0.7"/>
<text x="290.6" y="1455.8" font-size="5.4">012</text>
<rect x="304.6" y="1449.7" width="17.5" height="21.2" fill="#a7b3bc" stroke="#111" stroke-width="0.9"/>
<rect x="322.1" y="1449.7" width="54.3" height="21.2" fill="#b9cbdc" stroke="#111" stroke-width="0.9"/>
<rect x="304.6" y="1470.9" width="17.5" height="30.3" fill="#e0b572" stroke="#111" stroke-width="0.9"/>
<rect x="322.1" y="1470.9" width="54.3" height="30.3" fill="#e2001a" stroke="#111" stroke-width="0.9"/>
<circle cx="313.6" cy="1453.1" r="1.7" fill="#b5d31c"/>
<text x="313.3" y="1463" font-size="8">011</text>
<text x="347.9" y="1463" font-size="8">010</text>
<text x="313.3" y="1486.6" font-size="8">014</text>
<text x="347.9" y="1486.6" font-size="8">015</text>
<text x="293.3" y="1486.6" font-size="8" style="font-weight:normal;stroke:#111;stroke-width:0.28px;">013</text>
<circle cx="292.9" cy="1491.9" r="1.7" fill="#b5d31c"/>
<polygon points="379.7,1459.7 381.7,1461.9 379.7,1464.1 377.7,1461.9" fill="#c9a3d9"/>
<polygon points="379.7,1483.2 381.7,1485.4 379.7,1487.6 377.7,1485.4" fill="#c9a3d9"/>
<line x1="375.7" y1="1501.7" x2="375.7" y2="1527.5" stroke="#111" stroke-width="1"/>
<line x1="392.9" y1="1471.4" x2="392.9" y2="1527.5" stroke="#111" stroke-width="1"/>
<rect x="376.1" y="1527.9" width="17.2" height="24.4" fill="#e0b572" stroke="#111" stroke-width="1"/>
<text font-size="8" transform="translate(385 1540.1) rotate(-90)" y="2.9">016</text>
<rect x="376.1" y="1552.3" width="17.2" height="30.9" fill="#e2001a" stroke="#111" stroke-width="1"/>
<text font-size="8" transform="translate(385 1567.8) rotate(-90)" y="2.9">017</text>
<rect x="376.1" y="1583.2" width="17.2" height="20.9" fill="#e0b572" stroke="#111" stroke-width="1"/>
<text font-size="8" transform="translate(385 1593.7) rotate(-90)" y="2.9">018</text>
<rect x="376.1" y="1604.1" width="17.2" height="33" fill="#e0b572" stroke="#111" stroke-width="1"/>
<text font-size="8" transform="translate(385 1620.6) rotate(-90)" y="2.9">019</text>
<polygon points="397.9,1536.6 398.6,1538.4 400.5,1538.5 399,1539.7 399.5,1541.5 397.9,1540.4 396.3,1541.5 396.8,1539.7 395.3,1538.5 397.2,1538.4" fill="#ffc20e"/>
<polygon points="397.1,1591.3 397.8,1593.1 399.7,1593.2 398.2,1594.4 398.7,1596.2 397.1,1595.1 395.5,1596.2 396,1594.4 394.5,1593.2 396.4,1593.1" fill="#ffc20e"/>
<polygon points="397.1,1623.7 397.8,1625.5 399.7,1625.6 398.2,1626.8 398.7,1628.6 397.1,1627.5 395.5,1628.6 396,1626.8 394.5,1625.6 396.4,1625.5" fill="#ffc20e"/>
<circle cx="397.6" cy="1566.7" r="1.7" fill="#b5d31c"/>
<rect x="393.4" y="1615.6" width="3.2" height="5.9" fill="#fff" stroke="#777" stroke-width="0.5"/>
<path d="M288.6 1442.1L309.8 1442.1" stroke="#e2001a" stroke-width="1.5" fill="none"/><path d="M315 1442.1L309.8 1444.8L309.8 1439.3Z" fill="#e2001a"/>
<path d="M324.3 1442.1L344.8 1442.1" stroke="#e2001a" stroke-width="1.5" fill="none"/><path d="M350 1442.1L344.8 1444.8L344.8 1439.3Z" fill="#e2001a"/>
<path d="M360.7 1442.1L381.2 1442.1" stroke="#e2001a" stroke-width="1.5" fill="none"/><path d="M386.4 1442.1L381.2 1444.8L381.2 1439.3Z" fill="#e2001a"/>
<path d="M399 1442.1L419.5 1442.1" stroke="#e2001a" stroke-width="1.5" fill="none"/><path d="M424.7 1442.1L419.5 1444.8L419.5 1439.3Z" fill="#e2001a"/>
<path d="M439.3 1442.1L459.8 1442.1" stroke="#e2001a" stroke-width="1.5" fill="none"/><path d="M465 1442.1L459.8 1444.8L459.8 1439.3Z" fill="#e2001a"/>
<path d="M476.5 1442.1L497 1442.1" stroke="#e2001a" stroke-width="1.5" fill="none"/><path d="M502.2 1442.1L497 1444.8L497 1439.3Z" fill="#e2001a"/>
<path d="M514 1442.1L534.5 1442.1" stroke="#e2001a" stroke-width="1.5" fill="none"/><path d="M539.7 1442.1L534.5 1444.8L534.5 1439.3Z" fill="#e2001a"/>
<path d="M553.5 1442.1L574 1442.1" stroke="#e2001a" stroke-width="1.5" fill="none"/><path d="M579.2 1442.1L574 1444.8L574 1439.3Z" fill="#e2001a"/>
<path d="M591.5 1442.1L612 1442.1" stroke="#e2001a" stroke-width="1.5" fill="none"/><path d="M617.2 1442.1L612 1444.8L612 1439.3Z" fill="#e2001a"/>
<path d="M631.4 1442.1L651.5 1442.1" stroke="#e2001a" stroke-width="1.5" fill="none"/><path d="M656.7 1442.1L651.5 1444.8L651.5 1439.3Z" fill="#e2001a"/>
<path d="M669.8 1444.4L690.2 1447.2" stroke="#e2001a" stroke-width="1.5" fill="none"/><path d="M695.4 1447.9L689.9 1449.9L690.6 1444.5Z" fill="#e2001a"/>
<path d="M714.3 1445.8L734.9 1445.8" stroke="#e2001a" stroke-width="1.5" fill="none"/><path d="M740.1 1445.8L734.9 1448.5L734.9 1443Z" fill="#e2001a"/>
<path d="M752.7 1445.8L772.8 1445.8" stroke="#e2001a" stroke-width="1.5" fill="none"/><path d="M778 1445.8L772.8 1448.5L772.8 1443Z" fill="#e2001a"/>
<path d="M792 1445.8L813 1445.8" stroke="#e2001a" stroke-width="1.5" fill="none"/><path d="M818.2 1445.8L813 1448.5L813 1443Z" fill="#e2001a"/>
<path d="M832.5 1445.8L852.7 1445.8" stroke="#e2001a" stroke-width="1.5" fill="none"/><path d="M857.9 1445.8L852.7 1448.5L852.7 1443Z" fill="#e2001a"/>
<path d="M870.6 1445.8L890.8 1445.8" stroke="#e2001a" stroke-width="1.5" fill="none"/><path d="M896 1445.8L890.8 1448.5L890.8 1443Z" fill="#e2001a"/>
<path d="M909.5 1445.8L929.7 1445.8" stroke="#e2001a" stroke-width="1.5" fill="none"/><path d="M934.9 1445.8L929.7 1448.5L929.7 1443Z" fill="#e2001a"/>
<path d="M945.2 1445.8L965.4 1445.8" stroke="#e2001a" stroke-width="1.5" fill="none"/><path d="M970.6 1445.8L965.4 1448.5L965.4 1443Z" fill="#e2001a"/>
<polygon points="680.8,1430.6 726.9,1430.6 725.8,1441.3 681.6,1438.2" fill="#ffc20e" stroke="#111" stroke-width="0.8"/>
<text x="705.2" y="1438.3" font-size="6.4">030</text>
<circle cx="705.2" cy="1443.8" r="1.6" fill="#b5d31c"/>
<path d="M408.9 1508.6L408.9 1468.1" stroke="#e2001a" stroke-width="1.5" fill="none"/><path d="M408.9 1462.9L411.6 1468.1L406.1 1468.1Z" fill="#e2001a"/>
<path d="M408.9 1508.6L408.9 1549.1" stroke="#e2001a" stroke-width="1.5" fill="none"/><path d="M408.9 1554.3L406.1 1549.1L411.6 1549.1Z" fill="#e2001a"/>
<path d="M408.9 1607.9L408.9 1587.3" stroke="#e2001a" stroke-width="1.5" fill="none"/><path d="M408.9 1582.1L411.6 1587.3L406.1 1587.3Z" fill="#e2001a"/>
<path d="M408.6 1575L429.1 1575" stroke="#e2001a" stroke-width="1.5" fill="none"/><path d="M434.3 1575L429.1 1577.8L429.1 1572.2Z" fill="#e2001a"/>
<rect x="428.4" y="1463.1" width="44" height="106.2" fill="#a9d3ad" stroke="#111" stroke-width="1.2"/>
<rect x="472.4" y="1463.1" width="46.3" height="59.4" fill="#a9d3ad" stroke="#111" stroke-width="1.2"/>
<rect x="472.4" y="1522.5" width="46.3" height="46.8" fill="#1b9de2" stroke="#111" stroke-width="1.2"/>
<text font-size="7.8" transform="translate(439.6 1516.4) rotate(-90)" y="2.8">GAMES &amp; SPORTS</text>
<text font-size="7.8" transform="translate(448.5 1516.4) rotate(-90)" y="2.8">ROOM (Girls)</text>
<text font-size="8.4" style="font-weight:normal;stroke:#111;stroke-width:0.28px;" transform="translate(461.9 1511.1) rotate(-90)" y="3">021</text>
<polygon points="461.9,1520.6 462.6,1522.4 464.5,1522.5 463,1523.7 463.5,1525.5 461.9,1524.4 460.3,1525.5 460.8,1523.7 459.3,1522.5 461.2,1522.4" fill="#ffc20e"/>
<text font-size="6" transform="translate(481.5 1496.3) rotate(-90)" y="2.2">GAMES &amp;</text>
<text font-size="6" transform="translate(489.5 1493.7) rotate(-90)" y="2.2">SPORTS ROOM</text>
<text font-size="6" style="font-weight:normal;" transform="translate(497.4 1493.7) rotate(-90)" y="2.2">(Boys)</text>
<text font-size="8.4" style="font-weight:normal;stroke:#111;stroke-width:0.28px;" transform="translate(508.2 1494.5) rotate(-90)" y="3">024</text>
<polygon points="507.3,1478.7 508,1480.5 509.9,1480.6 508.4,1481.8 508.9,1483.6 507.3,1482.5 505.7,1483.6 506.2,1481.8 504.7,1480.6 506.6,1480.5" fill="#ffc20e"/>
<text x="495.1" y="1533.4" font-size="8" style="fill:#0a2550;">College</text>
<text x="495.1" y="1541" font-size="8" style="fill:#0a2550;">Office</text>
<text x="495.1" y="1551.5" font-size="7.6" style="font-weight:normal;stroke:#0a2550;stroke-width:0.28px;fill:#0a2550;">023</text>
<polygon points="495.1,1553.9 495.8,1555.7 497.8,1555.8 496.2,1557.1 496.7,1559 495.1,1557.9 493.5,1559 494,1557.1 492.4,1555.8 494.4,1555.7" fill="#ffc20e"/>
<rect x="518.7" y="1531.2" width="24.9" height="31.4" fill="#1a1a1a"/>
<text x="531.2" y="1550.5" font-size="10" style="fill:#fff;">Lift</text>
<line x1="543.6" y1="1562.6" x2="727" y2="1562.6" stroke="#111" stroke-width="1.2"/>
<path d="M518.7 1496.3L525.4 1496.3" stroke="#e2001a" stroke-width="1" fill="none"/><path d="M530.6 1496.3L525.4 1499L525.4 1493.5Z" fill="#e2001a"/>
<path d="M541.5 1482.5Q527.5 1497.3 541.5 1512.5" fill="none" stroke="#e2001a" stroke-width="1.2"/>
<polygon points="546.5,1477.6 543.5,1485.4 538.8,1480.3" fill="#e2001a"/>
<polygon points="546.5,1517.4 543.5,1509.6 538.8,1514.7" fill="#e2001a"/>
<rect x="548.9" y="1465.7" width="153.2" height="70.8" rx="8" fill="#b3cc12" stroke="#46530c" stroke-width="1.6"/>
<rect x="551" y="1467.8" width="149" height="66.6" rx="6.5" fill="none" stroke="#46530c" stroke-width="0.7"/>
<text x="626.1" y="1498.9" font-size="9.2">SPORTS</text>
<text x="625.7" y="1510" font-size="9.2">COURT</text>
<line x1="428.4" y1="1562" x2="428.4" y2="1583" stroke="#8a2020" stroke-width="1"/>
<line x1="511.1" y1="1569.3" x2="511.1" y2="1583" stroke="#8a2020" stroke-width="1"/>
<rect x="428.4" y="1582.7" width="35.3" height="32.2" fill="#1b9de2" stroke="#111" stroke-width="1.1"/>
<rect x="463.7" y="1582.7" width="48" height="32.2" fill="#a7d7f6" stroke="#111" stroke-width="1.1"/>
<text x="446.2" y="1592.9" font-size="7.8" style="font-weight:normal;stroke:#111;stroke-width:0.28px;">020</text>
<polygon points="446.2,1597.9 446.8,1599.6 448.6,1599.6 447.2,1600.7 447.7,1602.4 446.2,1601.5 444.7,1602.4 445.2,1600.7 443.8,1599.6 445.6,1599.6" fill="#ffc20e"/>
<text x="488.4" y="1592.9" font-size="7.8" style="font-weight:normal;stroke:#111;stroke-width:0.28px;">022</text>
<polygon points="488.4,1597.9 489,1599.6 490.8,1599.6 489.4,1600.7 489.9,1602.4 488.4,1601.5 486.9,1602.4 487.4,1600.7 486,1599.6 487.8,1599.6" fill="#ffc20e"/>
<polygon points="512.2,1582.7 524.2,1582.7 524.2,1591.4 535.8,1591.4 535.8,1614.9 512.2,1614.9" fill="#fff200" stroke="#111" stroke-width="1"/>
<rect x="512.2" y="1582.7" width="12" height="18.9" fill="#fff200" stroke="#111" stroke-width="0.9"/>
<text font-size="5" transform="translate(518.3 1591.8) rotate(-90)" y="1.8">025</text>
<text x="526" y="1610" font-size="5.4">026</text>
<rect x="536.6" y="1581" width="16.5" height="33.9" fill="#10a447" stroke="#00652c" stroke-width="0.8"/>
<line x1="536.6" y1="1584.8" x2="553.1" y2="1584.8" stroke="#00652c" stroke-width="0.9"/>
<line x1="536.6" y1="1588.5" x2="553.1" y2="1588.5" stroke="#00652c" stroke-width="0.9"/>
<line x1="536.6" y1="1592.3" x2="553.1" y2="1592.3" stroke="#00652c" stroke-width="0.9"/>
<line x1="536.6" y1="1596.1" x2="553.1" y2="1596.1" stroke="#00652c" stroke-width="0.9"/>
<line x1="536.6" y1="1599.8" x2="553.1" y2="1599.8" stroke="#00652c" stroke-width="0.9"/>
<line x1="536.6" y1="1603.6" x2="553.1" y2="1603.6" stroke="#00652c" stroke-width="0.9"/>
<line x1="536.6" y1="1607.4" x2="553.1" y2="1607.4" stroke="#00652c" stroke-width="0.9"/>
<line x1="536.6" y1="1611.1" x2="553.1" y2="1611.1" stroke="#00652c" stroke-width="0.9"/>
<line x1="536.6" y1="1580.4" x2="553.1" y2="1580.4" stroke="#b4532a" stroke-width="1.2"/>
<rect x="553.6" y="1582.7" width="32.3" height="32.2" fill="#fff200" stroke="#111" stroke-width="1.1"/>
<rect x="553.6" y="1581.8" width="12.2" height="17.5" fill="#1a1a1a"/>
<text font-size="7" style="fill:#fff" transform="translate(559.7 1590.5) rotate(-90)" y="2.5">Lift</text>
<text x="575.9" y="1592.9" font-size="7.8" style="font-weight:normal;stroke:#111;stroke-width:0.28px;">027</text>
<rect x="585.9" y="1582.7" width="41.5" height="32.2" fill="#a7d7f6" stroke="#111" stroke-width="1.1"/>
<text x="605.4" y="1592.4" font-size="7.8" style="font-weight:normal;stroke:#111;stroke-width:0.28px;">028</text>
<text x="606" y="1599.2" font-size="5.2">University</text>
<text x="606" y="1605.3" font-size="5.2">Zonal</text>
<text x="606" y="1611.4" font-size="5.2">Centre</text>
<polygon points="627.9,1582.4 709.9,1582.4 709.9,1563.2 726.9,1563.2 726.9,1614.9 627.9,1614.9" fill="#e2138a" stroke="#111" stroke-width="1.1"/>
<text x="673.3" y="1592.9" font-size="7.6" style="font-weight:normal;stroke:#5a0a32;stroke-width:0.28px;fill:#5a0a32;">029</text>
<text x="673.3" y="1604.7" font-size="8.8" style="fill:#5a0a32;">CANTEEN</text>
<polygon points="672,1576.2 674.2,1580.2 669.8,1580.2" fill="#1b9de2"/>
<line x1="543.6" y1="1582.4" x2="627.9" y2="1582.4" stroke="#111" stroke-width="1"/>
<path d="M447.9 1574.8L468.1 1574.8" stroke="#e2001a" stroke-width="1.5" fill="none"/><path d="M473.3 1574.8L468.1 1577.5L468.1 1572Z" fill="#e2001a"/>
<path d="M492.5 1574.8L512.6 1574.8" stroke="#e2001a" stroke-width="1.5" fill="none"/><path d="M517.8 1574.8L512.6 1577.5L512.6 1572Z" fill="#e2001a"/>
<path d="M530.9 1572.3L551 1572.3" stroke="#e2001a" stroke-width="1.5" fill="none"/><path d="M556.2 1572.3L551 1575L551 1569.5Z" fill="#e2001a"/>
<path d="M575.4 1572.3L595.5 1572.3" stroke="#e2001a" stroke-width="1.5" fill="none"/><path d="M600.7 1572.3L595.5 1575L595.5 1569.5Z" fill="#e2001a"/>
<path d="M615 1572.3L634.9 1572.3" stroke="#e2001a" stroke-width="1.5" fill="none"/><path d="M640.1 1572.3L634.9 1575L634.9 1569.5Z" fill="#e2001a"/>
<path d="M659.3 1572.3L680.3 1572.3" stroke="#e2001a" stroke-width="1.5" fill="none"/><path d="M685.5 1572.3L680.3 1575L680.3 1569.5Z" fill="#e2001a"/>
<path d="M715.5 1495.4L715.5 1475" stroke="#e2001a" stroke-width="1.5" fill="none"/><path d="M715.5 1469.8L718.2 1475L712.8 1475Z" fill="#e2001a"/>
<path d="M692.5 1566.3Q712 1540 715.2 1515" fill="none" stroke="#e2001a" stroke-width="1.3"/>
<polygon points="715.6,1510.2 717.9,1516 712.9,1515.6" fill="#e2001a"/>
<circle cx="718.7" cy="1555.3" r="5" fill="#0a9b3e"/><circle cx="718.7" cy="1555.3" r="3.2" fill="none" stroke="#d8f0dc" stroke-width="0.8"/><circle cx="719.2" cy="1555.6" r="1.4" fill="none" stroke="#d8f0dc" stroke-width="0.7"/>
<path id="sp0" d="M709.6 1559.6A9.6 9.6 0 0 1 725.6 1548.2" fill="none"/><text font-size="4.2" style="text-anchor:start"><textPath href="#sp0">Spiral Stair</textPath></text>
<rect x="726.9" y="1459.3" width="104.4" height="103.9" fill="#f07d00" stroke="#111" stroke-width="1.2"/>
<text x="779.2" y="1503.8" font-size="8.8">VALIA HALL</text>
<text x="779.2" y="1514.3" font-size="8.8">031</text>
<rect x="727.4" y="1563.5" width="48.9" height="51.4" fill="#b5c5ba" stroke="#111" stroke-width="1.1"/>
<polygon points="752.2,1581.1 754.4,1585.1 750,1585.1" fill="#1b9de2"/>
<text x="752.2" y="1592.4" font-size="7.6" style="font-weight:normal;stroke:#111;stroke-width:0.28px;">033</text>
<rect x="777.2" y="1582" width="16.5" height="32.9" fill="#10a447" stroke="#00652c" stroke-width="0.8"/>
<line x1="777.2" y1="1585.7" x2="793.7" y2="1585.7" stroke="#00652c" stroke-width="0.9"/>
<line x1="777.2" y1="1589.3" x2="793.7" y2="1589.3" stroke="#00652c" stroke-width="0.9"/>
<line x1="777.2" y1="1593" x2="793.7" y2="1593" stroke="#00652c" stroke-width="0.9"/>
<line x1="777.2" y1="1596.6" x2="793.7" y2="1596.6" stroke="#00652c" stroke-width="0.9"/>
<line x1="777.2" y1="1600.3" x2="793.7" y2="1600.3" stroke="#00652c" stroke-width="0.9"/>
<line x1="777.2" y1="1603.9" x2="793.7" y2="1603.9" stroke="#00652c" stroke-width="0.9"/>
<line x1="777.2" y1="1607.6" x2="793.7" y2="1607.6" stroke="#00652c" stroke-width="0.9"/>
<line x1="777.2" y1="1611.2" x2="793.7" y2="1611.2" stroke="#00652c" stroke-width="0.9"/>
<line x1="788.5" y1="1582" x2="788.5" y2="1614.9" stroke="#00652c" stroke-width="1"/>
<rect x="793.7" y="1574.5" width="20.5" height="40.4" fill="#fff200" stroke="#111" stroke-width="1"/>
<rect x="793.7" y="1574.5" width="11.4" height="15.7" fill="#1a1a1a"/>
<text font-size="5.6" style="fill:#fff" transform="translate(799.4 1582.3) rotate(-90)" y="2">Lift</text>
<text font-size="8" style="font-weight:normal;stroke:#111;stroke-width:0.28px;" transform="translate(809.7 1589.8) rotate(-90)" y="2.9">034</text>
<rect x="814.8" y="1581.9" width="13.5" height="33" fill="#ededed" stroke="#111" stroke-width="0.9"/>
<text font-size="8" style="font-weight:normal;stroke:#111;stroke-width:0.28px;" transform="translate(821.5 1589.8) rotate(-90)" y="2.9">035</text>
<rect x="828.6" y="1581.9" width="12.4" height="33" fill="#ee7a5c" stroke="#111" stroke-width="0.9"/>
<text font-size="8" style="font-weight:normal;stroke:#111;stroke-width:0.28px;" transform="translate(834.8 1589.8) rotate(-90)" y="2.9">036</text>
<circle cx="834.8" cy="1601.4" r="1.7" fill="#b5d31c"/>
<rect x="841" y="1581.9" width="12.2" height="33" fill="#2f55a8" stroke="#111" stroke-width="0.9"/>
<text font-size="8" style="font-weight:normal;stroke:#111;stroke-width:0.28px;" transform="translate(847.1 1589.8) rotate(-90)" y="2.9">037</text>
<polygon points="847.1,1598.9 847.7,1600.6 849.5,1600.6 848.1,1601.7 848.6,1603.4 847.1,1602.5 845.6,1603.4 846.1,1601.7 844.7,1600.6 846.5,1600.6" fill="#ffc20e"/>
<rect x="853.2" y="1581.9" width="13.8" height="33" fill="#e2001a" stroke="#111" stroke-width="0.9"/>
<text font-size="8" style="font-weight:normal;stroke:#111;stroke-width:0.28px;" transform="translate(860.1 1589.8) rotate(-90)" y="2.9">038</text>
<circle cx="860.1" cy="1601.4" r="1.7" fill="#b5d31c"/>
<rect x="867" y="1581.9" width="33" height="33" fill="#b97bc1" stroke="#111" stroke-width="1"/>
<text font-size="8" style="font-weight:normal;stroke:#111;stroke-width:0.28px;" transform="translate(880 1589.8) rotate(-90)" y="2.9">039</text>
<circle cx="880" cy="1601.4" r="1.7" fill="#b5d31c"/>
<rect x="888.9" y="1574.8" width="11.1" height="18.2" fill="#1a1a1a"/>
<text font-size="5.6" style="fill:#fff" transform="translate(894.5 1583.9) rotate(-90)" y="2">Lift</text>
<rect x="883.3" y="1574.8" width="5.2" height="6.5" fill="#fff" stroke="#333" stroke-width="0.6"/>
<rect x="900.3" y="1582" width="18" height="32.9" fill="#10a447" stroke="#00652c" stroke-width="0.8"/>
<line x1="900.3" y1="1585.3" x2="918.3" y2="1585.3" stroke="#00652c" stroke-width="0.9"/>
<line x1="900.3" y1="1588.6" x2="918.3" y2="1588.6" stroke="#00652c" stroke-width="0.9"/>
<line x1="900.3" y1="1591.9" x2="918.3" y2="1591.9" stroke="#00652c" stroke-width="0.9"/>
<line x1="900.3" y1="1595.2" x2="918.3" y2="1595.2" stroke="#00652c" stroke-width="0.9"/>
<line x1="900.3" y1="1598.5" x2="918.3" y2="1598.5" stroke="#00652c" stroke-width="0.9"/>
<line x1="900.3" y1="1601.7" x2="918.3" y2="1601.7" stroke="#00652c" stroke-width="0.9"/>
<line x1="900.3" y1="1605" x2="918.3" y2="1605" stroke="#00652c" stroke-width="0.9"/>
<line x1="900.3" y1="1608.3" x2="918.3" y2="1608.3" stroke="#00652c" stroke-width="0.9"/>
<line x1="900.3" y1="1611.6" x2="918.3" y2="1611.6" stroke="#00652c" stroke-width="0.9"/>
<line x1="912.5" y1="1582" x2="912.5" y2="1614.9" stroke="#00652c" stroke-width="1"/>
<line x1="915.4" y1="1582" x2="915.4" y2="1614.9" stroke="#00652c" stroke-width="1"/>
<rect x="918.7" y="1581.9" width="25.7" height="33" fill="#fbd9c9" stroke="#111" stroke-width="1"/>
<rect x="944.4" y="1581.9" width="26.2" height="33" fill="#fbd5a8" stroke="#111" stroke-width="1"/>
<text x="931.4" y="1589.7" font-size="7.6" style="font-weight:normal;stroke:#111;stroke-width:0.28px;">040</text>
<text x="957.1" y="1589.7" font-size="7.6" style="font-weight:normal;stroke:#111;stroke-width:0.28px;">041</text>
<circle cx="931.4" cy="1592.9" r="1.6" fill="#b5d31c"/>
<circle cx="957.1" cy="1592.9" r="1.6" fill="#b5d31c"/>
<text x="931.6" y="1599" font-size="3.9" style="font-weight:normal;stroke:#111;stroke-width:0.28px;">CESE METER</text>
<text x="931.6" y="1603.4" font-size="3.9" style="font-weight:normal;stroke:#111;stroke-width:0.28px;">&amp;</text>
<text x="931.6" y="1607.8" font-size="3.9" style="font-weight:normal;stroke:#111;stroke-width:0.28px;">Distribution</text>
<text x="931.6" y="1612.2" font-size="3.9" style="font-weight:normal;stroke:#111;stroke-width:0.28px;">Panel Room</text>
<text x="957.4" y="1599" font-size="3.9" style="font-weight:normal;stroke:#111;stroke-width:0.28px;">ELECTRICAL</text>
<text x="957.4" y="1603.4" font-size="3.9" style="font-weight:normal;stroke:#111;stroke-width:0.28px;">Store Room</text>
<text x="957.4" y="1607.8" font-size="3.9" style="font-weight:normal;stroke:#111;stroke-width:0.28px;">&amp; Water</text>
<text x="957.4" y="1612.2" font-size="3.9" style="font-weight:normal;stroke:#111;stroke-width:0.28px;">Cooler Room</text>
<line x1="970.6" y1="1581.9" x2="970.6" y2="1636.7" stroke="#111" stroke-width="1.2"/>
<rect x="970.8" y="1595.4" width="2.4" height="9.5" fill="#1b9de2"/>
<text font-size="4" style="font-weight:normal;stroke:#111;stroke-width:0.28px;" transform="translate(978.6 1601) rotate(-90)" y="1.4">Drinking Water</text>
<line x1="393.6" y1="1614.9" x2="970.6" y2="1614.9" stroke="#111" stroke-width="1.3"/>
<line x1="832.5" y1="1459.4" x2="832.5" y2="1562.9" stroke="#111" stroke-width="1.2"/>
<line x1="831.3" y1="1459.4" x2="961.9" y2="1459.4" stroke="#111" stroke-width="1.2"/>
<rect x="842.9" y="1459.7" width="15" height="4.7" fill="#0a6a35"/>
<rect x="858.4" y="1459.7" width="10.6" height="13.5" fill="#fff" stroke="#111" stroke-width="0.7"/>
<text font-size="3" style="font-weight:normal;" transform="translate(861.8 1466.4) rotate(-90)" y="1.1">Fire</text>
<text font-size="3" style="font-weight:normal;" transform="translate(865.6 1466.4) rotate(-90)" y="1.1">Pump</text>
<rect x="869.4" y="1459.7" width="92.5" height="69" fill="#d9b46c" stroke="#111" stroke-width="1.1"/>
<text x="915.6" y="1493" font-size="9.4">STORE</text>
<text x="915.6" y="1503" font-size="9.4">ROOM</text>
<rect x="954.3" y="1528.7" width="7.6" height="53.2" fill="#10a447" stroke="#00652c" stroke-width="0.6"/>
<line x1="956.8" y1="1528.7" x2="956.8" y2="1581.9" stroke="#00652c" stroke-width="0.7"/>
<line x1="959.4" y1="1528.7" x2="959.4" y2="1581.9" stroke="#00652c" stroke-width="0.7"/>
<path d="M851.6 1488.6L851.6 1476.8" stroke="#e2001a" stroke-width="1.5" fill="none"/><path d="M851.6 1471.6L854.4 1476.8L848.9 1476.8Z" fill="#e2001a"/>
<path d="M851.6 1522.4L851.6 1510.9" stroke="#e2001a" stroke-width="1.5" fill="none"/><path d="M851.6 1505.7L854.4 1510.9L848.9 1510.9Z" fill="#e2001a"/>
<path d="M851.6 1558.9L851.6 1546.6" stroke="#e2001a" stroke-width="1.5" fill="none"/><path d="M851.6 1541.4L854.4 1546.6L848.9 1546.6Z" fill="#e2001a"/>
<path d="M861.1 1541L881.8 1541" stroke="#e2001a" stroke-width="1.5" fill="none"/><path d="M887 1541L881.8 1543.8L881.8 1538.2Z" fill="#e2001a"/>
<path d="M902.4 1541L922.6 1541" stroke="#e2001a" stroke-width="1.5" fill="none"/><path d="M927.8 1541L922.6 1543.8L922.6 1538.2Z" fill="#e2001a"/>
<path d="M946 1541L966.2 1541" stroke="#e2001a" stroke-width="1.5" fill="none"/><path d="M971.4 1541L966.2 1543.8L966.2 1538.2Z" fill="#e2001a"/>
<line x1="832.5" y1="1562.5" x2="881" y2="1562.5" stroke="#e0703a" stroke-width="1.5"/>
<rect x="855" y="1559.7" width="5.3" height="3.2" fill="#111"/>
<rect x="881" y="1553.3" width="23" height="9.2" fill="#1a1a1a"/>
<text x="892.5" y="1557.4" font-size="3" style="fill:#fff;">Way to</text>
<text x="892.5" y="1561" font-size="3" style="fill:#fff;">Basement</text>
<polyline points="887,1562.5 887,1574.8 884,1574.8" fill="none" stroke="#e0703a" stroke-width="1.2"/>
<rect x="904.4" y="1553.3" width="40.8" height="17.5" fill="#fff" stroke="#111" stroke-width="1"/>
<rect x="917.5" y="1553.3" width="17.4" height="2.9" fill="#0a8a3e"/>
<text x="931.7" y="1565.2" font-size="7.6" style="font-weight:normal;stroke:#111;stroke-width:0.28px;">032</text>
<rect x="945.7" y="1553.3" width="17.8" height="17.5" fill="#fff" stroke="#111" stroke-width="1"/>
<text font-size="5.2" style="font-weight:normal;stroke:#111;stroke-width:0.28px;" transform="translate(951.8 1562) rotate(-90)" y="1.9">ICICI</text>
<text font-size="5.2" style="font-weight:normal;stroke:#111;stroke-width:0.28px;" transform="translate(957.8 1562) rotate(-90)" y="1.9">ATM</text>
<path d="M794.6 1568.4L814.7 1568.4" stroke="#e2001a" stroke-width="1.5" fill="none"/><path d="M819.9 1568.4L814.7 1571.2L814.7 1565.7Z" fill="#e2001a"/>
<path d="M869.8 1568.4L890 1568.4" stroke="#e2001a" stroke-width="1.5" fill="none"/><path d="M895.2 1568.4L890 1571.2L890 1565.7Z" fill="#e2001a"/>
<path d="M899.2 1570.8L910 1576.3" stroke="#e2001a" stroke-width="1.5" fill="none"/><path d="M914.6 1578.7L908.7 1578.8L911.2 1573.9Z" fill="#e2001a"/>
<path d="M923 1576.3L935.3 1576.3" stroke="#e2001a" stroke-width="1.5" fill="none"/><path d="M940.5 1576.3L935.3 1579L935.3 1573.5Z" fill="#e2001a"/>
<path d="M946 1576.3L966.2 1576.3" stroke="#e2001a" stroke-width="1.5" fill="none"/><path d="M971.4 1576.3L966.2 1579L966.2 1573.5Z" fill="#e2001a"/>
<path d="M855.1 1622.4L855.1 1619.4" stroke="#111" stroke-width="0.5" fill="none"/><path d="M855.1 1617.4L856 1619.4L854.2 1619.4Z" fill="#111"/>
<text x="855.1" y="1625.4" font-size="2.5">CESE</text>
<text x="855.1" y="1628.2" font-size="2.5">3PH SERVICE</text>
<path d="M935.4 1622.4L935.4 1619.4" stroke="#111" stroke-width="0.5" fill="none"/><path d="M935.4 1617.4L936.3 1619.4L934.5 1619.4Z" fill="#111"/>
<text x="935.4" y="1625.4" font-size="2.5">CESE</text>
<text x="935.4" y="1628.2" font-size="2.5">2ND SERVICE</text>
<path d="M957.1 1622.4L957.1 1619.4" stroke="#111" stroke-width="0.5" fill="none"/><path d="M957.1 1617.4L958 1619.4L956.2 1619.4Z" fill="#111"/>
<text x="957.1" y="1625.4" font-size="2.5">CESE</text>
<text x="957.1" y="1628.2" font-size="2.5">MT SERVICE</text>
<path d="M907 1624L913.3 1618.4" stroke="#111" stroke-width="0.5" fill="none"/><path d="M915 1617L914 1619.2L912.7 1617.7Z" fill="#111"/>
<text x="898" y="1624.6" font-size="2.5">ELECTRICAL</text>
<text x="898" y="1627.4" font-size="2.5">PANEL</text>
</svg></body></html>
